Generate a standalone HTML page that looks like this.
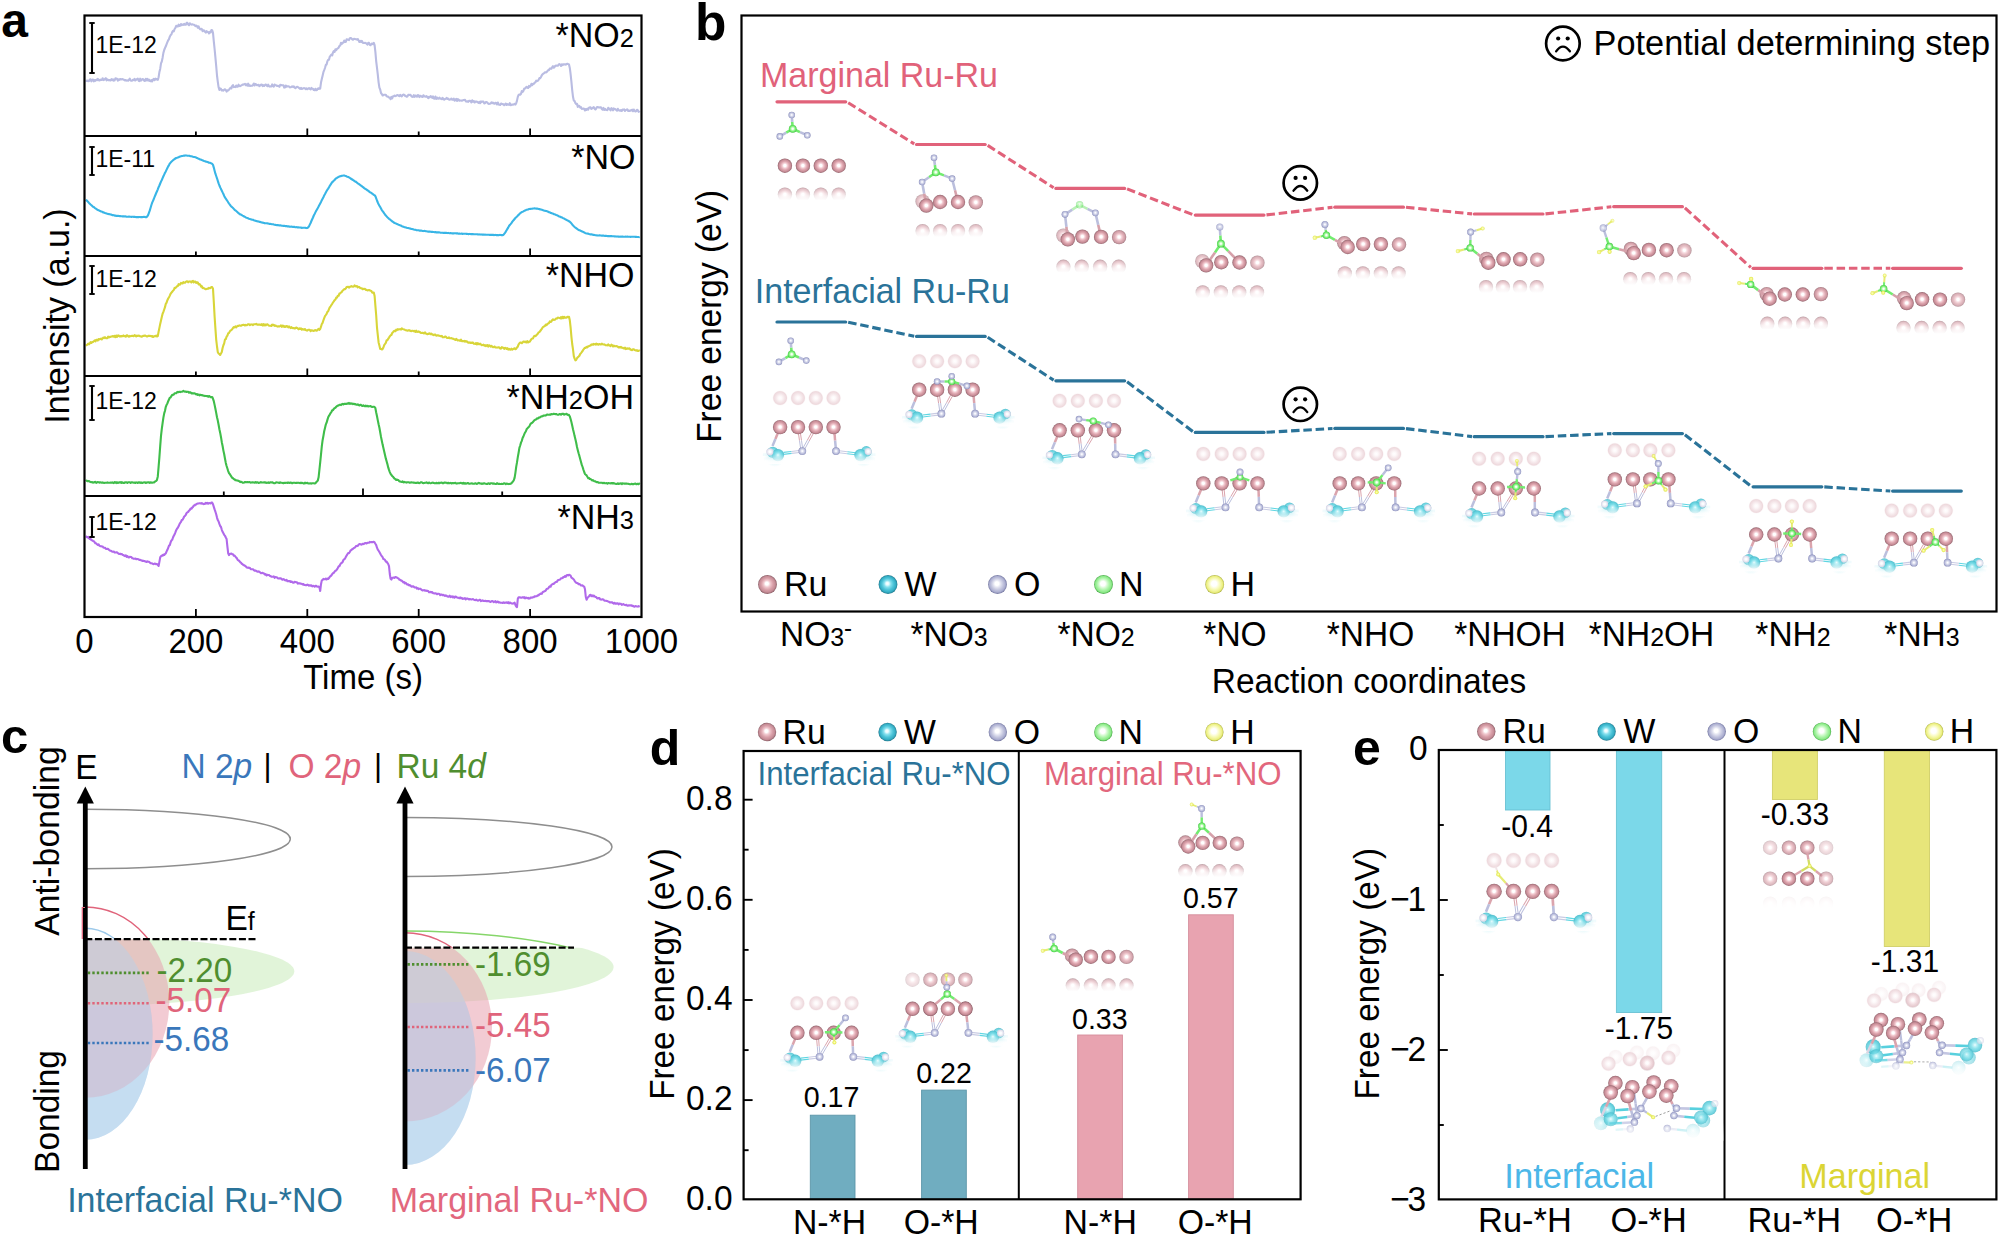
<!DOCTYPE html>
<html><head><meta charset="utf-8"><title>Figure</title>
<style>
html,body{margin:0;padding:0;background:#fff;}
svg{display:block;font-family:"Liberation Sans",sans-serif;}
</style></head><body>
<svg width="2000" height="1237" viewBox="0 0 2000 1237">
<defs>
<radialGradient id="gRu" cx="0.5" cy="0.5" r="0.5" fx="0.5" fy="0.49" ><stop offset="0" stop-color="#ffffff"/><stop offset="0.17" stop-color="#ffffff"/><stop offset="0.36" stop-color="#f3ccd2"/><stop offset="0.6" stop-color="#dca3ac"/><stop offset="0.8" stop-color="#c98f99"/><stop offset="0.92" stop-color="#ad7781"/><stop offset="1" stop-color="#8f636b"/></radialGradient>
<radialGradient id="gRuF" cx="0.5" cy="0.5" r="0.5"><stop offset="0" stop-color="#ffffff"/><stop offset="0.25" stop-color="#fdf8f9"/><stop offset="0.6" stop-color="#f4e5e8"/><stop offset="0.85" stop-color="#eed9dd"/><stop offset="1" stop-color="#f3e4e7" stop-opacity="0.3"/></radialGradient>
<radialGradient id="gW" cx="0.5" cy="0.5" r="0.5" fx="0.5" fy="0.49" ><stop offset="0" stop-color="#eefdff"/><stop offset="0.2" stop-color="#b5eff5"/><stop offset="0.5" stop-color="#7bdde8"/><stop offset="0.8" stop-color="#5ccddb"/><stop offset="1" stop-color="#48b8c8"/></radialGradient>
<radialGradient id="gWL" cx="0.5" cy="0.5" r="0.5" fx="0.5" fy="0.49" ><stop offset="0" stop-color="#ffffff"/><stop offset="0.14" stop-color="#f2fdff"/><stop offset="0.36" stop-color="#9fe6f1"/><stop offset="0.62" stop-color="#55cadd"/><stop offset="0.85" stop-color="#35b1c8"/><stop offset="1" stop-color="#22869b"/></radialGradient>
<radialGradient id="gO" cx="0.5" cy="0.5" r="0.5" fx="0.5" fy="0.49" ><stop offset="0" stop-color="#ffffff"/><stop offset="0.12" stop-color="#fbfbff"/><stop offset="0.38" stop-color="#dcdeee"/><stop offset="0.64" stop-color="#c0c3df"/><stop offset="0.86" stop-color="#a6aad0"/><stop offset="1" stop-color="#888cb8"/></radialGradient>
<radialGradient id="gN" cx="0.5" cy="0.5" r="0.5" fx="0.5" fy="0.49" ><stop offset="0" stop-color="#ffffff"/><stop offset="0.2" stop-color="#f4fff2"/><stop offset="0.42" stop-color="#b8f8b2"/><stop offset="0.7" stop-color="#76ef72"/><stop offset="0.9" stop-color="#58dd56"/><stop offset="1" stop-color="#43b843"/></radialGradient>
<radialGradient id="gH" cx="0.5" cy="0.5" r="0.5" fx="0.5" fy="0.49" ><stop offset="0" stop-color="#fdffd0"/><stop offset="0.4" stop-color="#f4f88a"/><stop offset="0.8" stop-color="#e8ee5c"/><stop offset="1" stop-color="#dbe050"/></radialGradient>
<linearGradient id="fadeDown" x1="0" y1="0" x2="0" y2="1"><stop offset="0" stop-color="#fff" stop-opacity="0.33"/><stop offset="0.3" stop-color="#fff" stop-opacity="0.55"/><stop offset="0.55" stop-color="#fff" stop-opacity="0.85"/><stop offset="0.8" stop-color="#fff" stop-opacity="1"/><stop offset="1" stop-color="#fff" stop-opacity="1"/></linearGradient>
<radialGradient id="gPale" cx="0.5" cy="0.5" r="0.5" fx="0.5" fy="0.49" ><stop offset="0" stop-color="#ffffff"/><stop offset="0.3" stop-color="#fbfbfe"/><stop offset="0.7" stop-color="#e6e6f1"/><stop offset="1" stop-color="#d2d3e4"/></radialGradient>
<radialGradient id="gHalo" cx="0.5" cy="0.5" r="0.5"><stop offset="0" stop-color="#7fdde8" stop-opacity="0.55"/><stop offset="0.6" stop-color="#9be6ee" stop-opacity="0.3"/><stop offset="1" stop-color="#bdf0f5" stop-opacity="0"/></radialGradient>
<linearGradient id="fadeW" x1="0" y1="0" x2="0" y2="1"><stop offset="0" stop-color="#fff" stop-opacity="0"/><stop offset="0.7" stop-color="#fff" stop-opacity="0.85"/><stop offset="1" stop-color="#fff" stop-opacity="1"/></linearGradient>
<radialGradient id="lRu" cx="0.5" cy="0.5" r="0.5" fx="0.46" fy="0.44"><stop offset="0" stop-color="#ffffff"/><stop offset="0.16" stop-color="#ffffff"/><stop offset="0.36" stop-color="#f0c8ce"/><stop offset="0.62" stop-color="#d9a0a9"/><stop offset="0.84" stop-color="#c58c96"/><stop offset="0.93" stop-color="#a8747d"/><stop offset="1" stop-color="#80565e"/></radialGradient>
<radialGradient id="lW" cx="0.5" cy="0.5" r="0.5" fx="0.46" fy="0.44"><stop offset="0" stop-color="#ffffff"/><stop offset="0.16" stop-color="#e6fbff"/><stop offset="0.36" stop-color="#86e0ee"/><stop offset="0.62" stop-color="#4dc4d8"/><stop offset="0.84" stop-color="#35aec5"/><stop offset="0.93" stop-color="#2a94aa"/><stop offset="1" stop-color="#1f7286"/></radialGradient>
<radialGradient id="lO" cx="0.5" cy="0.5" r="0.5" fx="0.46" fy="0.44"><stop offset="0" stop-color="#ffffff"/><stop offset="0.2" stop-color="#ffffff"/><stop offset="0.42" stop-color="#dfe0ee"/><stop offset="0.66" stop-color="#c0c2dc"/><stop offset="0.84" stop-color="#abaed0"/><stop offset="0.93" stop-color="#8e91b8"/><stop offset="1" stop-color="#6b6e98"/></radialGradient>
<radialGradient id="lN" cx="0.5" cy="0.5" r="0.5" fx="0.46" fy="0.44"><stop offset="0" stop-color="#ffffff"/><stop offset="0.25" stop-color="#ffffff"/><stop offset="0.45" stop-color="#d4fad0"/><stop offset="0.68" stop-color="#a6f3a2"/><stop offset="0.86" stop-color="#8be887"/><stop offset="0.94" stop-color="#63c961"/><stop offset="1" stop-color="#3f9a3f"/></radialGradient>
<radialGradient id="lH" cx="0.5" cy="0.5" r="0.5" fx="0.46" fy="0.44"><stop offset="0" stop-color="#ffffff"/><stop offset="0.28" stop-color="#ffffff"/><stop offset="0.48" stop-color="#fbfcd0"/><stop offset="0.7" stop-color="#f3f6a0"/><stop offset="0.86" stop-color="#eaee80"/><stop offset="0.94" stop-color="#cdd15c"/><stop offset="1" stop-color="#a3a740"/></radialGradient>
<linearGradient id="fadeL" x1="0" y1="0" x2="1" y2="0"><stop offset="0" stop-color="#fff" stop-opacity="1"/><stop offset="1" stop-color="#fff" stop-opacity="0"/></linearGradient>
</defs>
<g fill="none" stroke-width="2.1" stroke-linejoin="round">
<path d="M85.8 80.3L86.6 81.0L87.4 80.5L88.2 81.1L89.0 81.0L89.8 79.5L90.6 79.3L91.4 81.3L92.2 79.7L93.0 79.5L93.8 81.4L94.6 80.0L95.4 80.8L96.2 79.8L97.0 80.1L97.8 78.8L98.6 80.0L99.4 80.5L100.2 79.6L101.0 80.1L101.8 79.9L102.6 78.3L103.4 80.1L104.2 79.7L105.0 78.9L105.8 78.2L106.6 80.4L107.4 79.4L108.2 80.0L109.0 80.4L109.8 80.0L110.6 80.5L111.4 79.2L112.2 80.2L113.0 79.3L113.8 80.6L114.6 80.4L115.4 78.4L116.2 78.5L117.0 78.7L117.8 80.7L118.6 79.3L119.4 79.8L120.2 79.0L121.0 79.5L121.8 79.2L122.6 79.1L123.4 79.7L124.2 79.7L125.0 80.5L125.8 80.0L126.6 80.6L127.4 80.4L128.2 80.8L129.0 79.9L129.8 78.6L130.6 80.4L131.4 80.7L132.2 80.6L133.0 79.7L133.8 80.1L134.6 78.8L135.4 80.5L136.2 79.8L137.0 79.1L137.8 78.6L138.6 80.7L139.4 81.1L140.2 78.7L141.0 80.6L141.8 79.7L142.6 79.0L143.4 79.4L144.2 80.7L145.0 81.0L145.8 78.8L146.6 80.3L147.4 78.9L148.2 80.6L149.0 79.6L149.8 81.1L150.6 81.3L151.4 80.1L152.2 81.3L153.0 79.5L153.8 78.9L154.6 80.2L155.4 78.7L156.2 79.0L157.0 79.5L157.8 79.9L158.6 77.2L159.4 72.1L160.2 68.9L161.0 63.4L161.8 61.5L162.6 57.7L163.4 52.9L164.2 50.0L165.0 48.0L165.8 46.3L166.6 44.1L167.4 42.1L168.2 40.3L169.0 39.1L169.8 36.7L170.6 35.1L171.4 34.5L172.2 32.0L173.0 30.8L173.8 31.3L174.6 29.0L175.4 27.9L176.2 25.8L177.0 26.4L177.8 26.5L178.6 24.7L179.4 25.9L180.2 25.7L181.0 24.0L181.8 25.2L182.6 24.5L183.4 24.9L184.2 23.9L185.0 24.8L185.8 24.8L186.6 22.8L187.4 22.9L188.2 24.5L189.0 25.2L189.8 23.3L190.6 24.0L191.4 24.6L192.2 24.2L193.0 24.5L193.8 24.7L194.6 25.1L195.4 26.1L196.2 25.6L197.0 26.2L197.8 27.7L198.6 26.3L199.4 28.3L200.2 29.3L201.0 28.8L201.8 29.1L202.6 31.2L203.4 30.3L204.2 30.6L205.0 31.7L205.8 32.6L206.6 31.2L207.4 31.9L208.2 32.0L209.0 33.4L209.8 31.9L210.6 32.4L211.4 30.0L212.2 30.2L213.0 32.9L213.8 41.4L214.6 49.0L215.4 57.4L216.2 66.0L217.0 75.5L217.8 81.8L218.6 87.3L219.4 89.9L220.2 88.5L221.0 89.0L221.8 90.5L222.6 90.1L223.4 90.7L224.2 89.7L225.0 89.3L225.8 90.0L226.6 91.6L227.4 90.4L228.2 90.4L229.0 89.7L229.8 88.7L230.6 87.7L231.4 88.5L232.2 86.0L233.0 85.1L233.8 87.1L234.6 86.9L235.4 87.1L236.2 85.5L237.0 86.8L237.8 86.7L238.6 84.7L239.4 86.0L240.2 86.2L241.0 85.7L241.8 85.2L242.6 84.6L243.4 84.6L244.2 84.3L245.0 83.8L245.8 85.2L246.6 84.3L247.4 85.7L248.2 83.7L249.0 85.9L249.8 85.3L250.6 85.9L251.4 85.8L252.2 85.8L253.0 85.0L253.8 83.5L254.6 85.5L255.4 84.0L256.2 84.4L257.0 85.3L257.8 85.0L258.6 84.8L259.4 86.2L260.2 85.3L261.0 84.7L261.8 84.5L262.6 86.1L263.4 85.2L264.2 86.0L265.0 84.9L265.8 84.5L266.6 85.5L267.4 86.2L268.2 84.6L269.0 86.3L269.8 86.6L270.6 86.4L271.4 86.5L272.2 84.4L273.0 86.1L273.8 86.7L274.6 84.6L275.4 85.3L276.2 85.3L277.0 86.0L277.8 85.8L278.6 86.0L279.4 86.8L280.2 84.8L281.0 85.0L281.8 85.3L282.6 85.3L283.4 85.2L284.2 87.6L285.0 87.4L285.8 85.5L286.6 86.7L287.4 86.3L288.2 86.3L289.0 86.5L289.8 87.4L290.6 87.3L291.4 86.8L292.2 86.4L293.0 86.9L293.8 86.4L294.6 87.6L295.4 88.1L296.2 87.4L297.0 86.7L297.8 87.0L298.6 87.6L299.4 88.3L300.2 88.8L301.0 87.8L301.8 89.0L302.6 88.6L303.4 88.2L304.2 88.1L305.0 88.5L305.8 89.1L306.6 88.4L307.4 89.2L308.2 88.6L309.0 88.1L309.8 88.9L310.6 89.4L311.4 87.9L312.2 88.8L313.0 88.9L313.8 90.1L314.6 90.3L315.4 88.8L316.2 90.2L317.0 89.9L317.8 88.5L318.6 89.0L319.4 88.0L320.2 88.6L321.0 82.6L321.8 79.1L322.6 75.7L323.4 72.2L324.2 70.2L325.0 68.0L325.8 65.0L326.6 64.5L327.4 61.2L328.2 59.8L329.0 59.7L329.8 56.6L330.6 55.6L331.4 54.5L332.2 55.4L333.0 52.5L333.8 51.0L334.6 52.0L335.4 49.2L336.2 50.1L337.0 48.8L337.8 48.3L338.6 47.7L339.4 45.9L340.2 45.6L341.0 42.8L341.8 43.9L342.6 42.7L343.4 42.7L344.2 40.6L345.0 41.9L345.8 41.9L346.6 39.2L347.4 39.5L348.2 39.8L349.0 40.1L349.8 38.3L350.6 38.1L351.4 38.3L352.2 39.3L353.0 39.7L353.8 38.9L354.6 38.9L355.4 39.1L356.2 39.2L357.0 39.6L357.8 39.0L358.6 40.4L359.4 42.0L360.2 40.8L361.0 42.0L361.8 40.8L362.6 42.5L363.4 43.0L364.2 43.0L365.0 42.9L365.8 43.0L366.6 43.7L367.4 44.6L368.2 42.9L369.0 42.9L369.8 44.8L370.6 45.2L371.4 44.0L372.2 43.5L373.0 44.1L373.8 42.9L374.6 45.1L375.4 52.2L376.2 61.3L377.0 67.9L377.8 74.7L378.6 82.3L379.4 87.6L380.2 89.5L381.0 93.0L381.8 94.0L382.6 95.5L383.4 95.2L384.2 94.7L385.0 94.8L385.8 94.7L386.6 96.3L387.4 96.6L388.2 96.6L389.0 97.5L389.8 97.8L390.6 99.1L391.4 96.9L392.2 98.4L393.0 96.4L393.8 96.3L394.6 95.5L395.4 96.1L396.2 95.8L397.0 95.2L397.8 95.0L398.6 95.7L399.4 96.1L400.2 94.9L401.0 95.8L401.8 96.4L402.6 95.2L403.4 94.6L404.2 94.7L405.0 95.9L405.8 95.9L406.6 96.7L407.4 96.4L408.2 94.9L409.0 94.8L409.8 95.0L410.6 94.9L411.4 96.3L412.2 96.7L413.0 96.9L413.8 95.2L414.6 96.9L415.4 95.5L416.2 95.8L417.0 96.7L417.8 95.1L418.6 95.2L419.4 97.1L420.2 95.8L421.0 96.0L421.8 96.7L422.6 97.0L423.4 95.3L424.2 96.2L425.0 96.6L425.8 96.8L426.6 96.1L427.4 97.2L428.2 98.2L429.0 96.8L429.8 97.3L430.6 96.2L431.4 96.7L432.2 97.8L433.0 96.4L433.8 98.5L434.6 98.7L435.4 96.6L436.2 98.9L437.0 97.5L437.8 98.6L438.6 98.6L439.4 97.5L440.2 98.6L441.0 98.6L441.8 99.1L442.6 97.8L443.4 99.1L444.2 99.7L445.0 99.1L445.8 98.8L446.6 97.8L447.4 98.9L448.2 98.6L449.0 99.6L449.8 99.6L450.6 99.4L451.4 98.5L452.2 99.8L453.0 99.8L453.8 98.7L454.6 100.7L455.4 100.2L456.2 98.9L457.0 101.0L457.8 99.1L458.6 99.7L459.4 100.8L460.2 100.5L461.0 100.5L461.8 100.8L462.6 100.4L463.4 100.1L464.2 99.9L465.0 99.7L465.8 101.4L466.6 101.6L467.4 101.2L468.2 101.8L469.0 100.8L469.8 100.7L470.6 101.1L471.4 102.4L472.2 100.3L473.0 101.6L473.8 101.0L474.6 102.5L475.4 101.5L476.2 101.5L477.0 101.8L477.8 102.2L478.6 102.9L479.4 101.8L480.2 103.2L481.0 101.4L481.8 101.9L482.6 101.5L483.4 101.6L484.2 103.4L485.0 103.3L485.8 102.0L486.6 102.1L487.4 102.7L488.2 103.7L489.0 103.9L489.8 103.8L490.6 103.5L491.4 102.4L492.2 103.1L493.0 102.6L493.8 103.5L494.6 103.7L495.4 102.8L496.2 103.0L497.0 104.4L497.8 102.5L498.6 104.5L499.4 104.8L500.2 104.9L501.0 103.5L501.8 104.0L502.6 104.1L503.4 104.3L504.2 105.2L505.0 104.5L505.8 103.5L506.6 105.0L507.4 104.1L508.2 104.5L509.0 104.9L509.8 103.1L510.6 105.2L511.4 104.9L512.2 104.5L513.0 104.6L513.8 104.5L514.6 103.8L515.4 104.6L516.2 103.3L517.0 100.6L517.8 96.9L518.6 94.9L519.4 94.5L520.2 94.8L521.0 93.9L521.8 91.1L522.6 92.0L523.4 90.8L524.2 88.6L525.0 88.6L525.8 87.7L526.6 86.8L527.4 87.5L528.2 88.0L529.0 85.9L529.8 86.8L530.6 85.8L531.4 83.8L532.2 85.1L533.0 83.8L533.8 84.0L534.6 82.8L535.4 82.2L536.2 80.6L537.0 81.1L537.8 80.8L538.6 79.9L539.4 78.1L540.2 78.3L541.0 77.0L541.8 75.2L542.6 74.3L543.4 73.6L544.2 73.1L545.0 72.3L545.8 72.4L546.6 72.2L547.4 71.1L548.2 70.1L549.0 70.1L549.8 68.6L550.6 68.4L551.4 68.7L552.2 67.2L553.0 66.2L553.8 67.7L554.6 66.9L555.4 65.7L556.2 65.5L557.0 65.7L557.8 65.8L558.6 64.7L559.4 64.1L560.2 64.6L561.0 66.0L561.8 64.3L562.6 65.1L563.4 64.4L564.2 64.4L565.0 64.2L565.8 64.7L566.6 64.0L567.4 63.7L568.2 64.1L569.0 64.5L569.8 67.9L570.6 74.2L571.4 81.7L572.2 90.2L573.0 96.8L573.8 100.6L574.6 101.0L575.4 103.2L576.2 104.2L577.0 103.8L577.8 106.9L578.6 105.7L579.4 106.0L580.2 107.6L581.0 107.2L581.8 108.9L582.6 108.7L583.4 108.5L584.2 108.7L585.0 110.5L585.8 109.0L586.6 110.0L587.4 108.7L588.2 109.7L589.0 107.8L589.8 107.4L590.6 107.4L591.4 108.9L592.2 108.4L593.0 107.7L593.8 107.1L594.6 108.7L595.4 109.5L596.2 108.5L597.0 107.0L597.8 107.1L598.6 107.4L599.4 107.6L600.2 107.3L601.0 107.4L601.8 109.0L602.6 109.7L603.4 107.9L604.2 110.0L605.0 108.8L605.8 109.7L606.6 110.0L607.4 110.1L608.2 107.8L609.0 108.6L609.8 109.4L610.6 110.4L611.4 108.2L612.2 108.8L613.0 110.3L613.8 108.4L614.6 109.2L615.4 109.1L616.2 110.0L617.0 110.7L617.8 108.8L618.6 110.3L619.4 110.4L620.2 110.7L621.0 110.0L621.8 111.0L622.6 109.6L623.4 109.8L624.2 109.4L625.0 110.9L625.8 110.1L626.6 109.6L627.4 109.4L628.2 110.9L629.0 110.7L629.8 111.0L630.6 110.2L631.4 110.5L632.2 109.7L633.0 111.2L633.8 109.5L634.6 110.7L635.4 111.5L636.2 111.3L637.0 109.8L637.8 110.2L638.6 111.8L639.4 111.4L639.7 111.0" stroke="#b9bce2"/>
<path d="M85.8 199.7L86.6 200.4L87.4 201.1L88.2 202.0L89.0 202.9L89.8 203.7L90.6 204.5L91.4 205.2L92.2 205.9L93.0 206.7L93.8 207.0L94.6 207.8L95.4 208.3L96.2 208.8L97.0 209.6L97.8 209.9L98.6 210.2L99.4 210.6L100.2 211.1L101.0 211.4L101.8 211.6L102.6 212.0L103.4 212.5L104.2 212.6L105.0 213.0L105.8 213.2L106.6 213.5L107.4 213.7L108.2 214.0L109.0 214.1L109.8 214.2L110.6 214.5L111.4 214.6L112.2 215.1L113.0 215.1L113.8 215.2L114.6 215.7L115.4 215.6L116.2 215.9L117.0 215.7L117.8 215.9L118.6 215.9L119.4 216.1L120.2 216.1L121.0 216.2L121.8 216.3L122.6 216.4L123.4 216.3L124.2 216.4L125.0 216.5L125.8 216.4L126.6 216.7L127.4 216.7L128.2 216.8L129.0 216.6L129.8 216.8L130.6 216.8L131.4 216.9L132.2 216.7L133.0 216.8L133.8 216.9L134.6 216.8L135.4 217.0L136.2 217.1L137.0 217.0L137.8 217.1L138.6 217.1L139.4 217.0L140.2 217.0L141.0 217.2L141.8 217.0L142.6 217.1L143.4 216.9L144.2 217.0L145.0 216.9L145.8 217.2L146.6 217.1L147.4 216.2L148.2 214.9L149.0 212.7L149.8 210.4L150.6 207.7L151.4 205.0L152.2 202.7L153.0 200.8L153.8 199.0L154.6 196.9L155.4 195.0L156.2 193.0L157.0 191.2L157.8 189.3L158.6 187.2L159.4 185.5L160.2 183.5L161.0 181.6L161.8 180.0L162.6 178.1L163.4 176.3L164.2 174.6L165.0 172.8L165.8 171.4L166.6 169.6L167.4 168.0L168.2 166.4L169.0 165.1L169.8 163.6L170.6 162.6L171.4 161.7L172.2 161.0L173.0 160.3L173.8 159.6L174.6 159.0L175.4 158.5L176.2 158.0L177.0 157.8L177.8 157.5L178.6 157.2L179.4 156.8L180.2 156.5L181.0 156.3L181.8 156.1L182.6 155.9L183.4 155.7L184.2 155.5L185.0 155.6L185.8 155.4L186.6 155.6L187.4 155.8L188.2 155.8L189.0 155.8L189.8 155.9L190.6 156.2L191.4 156.2L192.2 156.4L193.0 156.7L193.8 156.9L194.6 157.1L195.4 157.3L196.2 157.6L197.0 158.1L197.8 158.3L198.6 158.8L199.4 159.1L200.2 159.5L201.0 159.6L201.8 160.0L202.6 160.3L203.4 160.7L204.2 161.0L205.0 161.2L205.8 161.6L206.6 161.7L207.4 162.0L208.2 162.3L209.0 162.7L209.8 162.8L210.6 163.1L211.4 163.4L212.2 163.9L213.0 164.9L213.8 167.6L214.6 170.7L215.4 173.7L216.2 176.0L217.0 178.3L217.8 180.9L218.6 183.4L219.4 185.5L220.2 187.4L221.0 189.0L221.8 190.7L222.6 192.4L223.4 194.0L224.2 195.9L225.0 197.4L225.8 198.7L226.6 199.8L227.4 201.0L228.2 202.3L229.0 203.5L229.8 204.6L230.6 205.7L231.4 206.6L232.2 207.3L233.0 208.0L233.8 208.9L234.6 209.8L235.4 210.4L236.2 211.0L237.0 211.7L237.8 212.5L238.6 213.3L239.4 213.7L240.2 214.4L241.0 214.6L241.8 215.1L242.6 215.6L243.4 216.0L244.2 216.5L245.0 216.9L245.8 217.4L246.6 217.7L247.4 217.9L248.2 218.5L249.0 218.8L249.8 219.0L250.6 219.2L251.4 219.5L252.2 219.8L253.0 219.8L253.8 220.2L254.6 220.4L255.4 220.7L256.2 221.0L257.0 221.3L257.8 221.4L258.6 221.5L259.4 221.9L260.2 221.9L261.0 222.2L261.8 222.5L262.6 222.6L263.4 222.7L264.2 223.1L265.0 223.2L265.8 223.2L266.6 223.3L267.4 223.4L268.2 223.5L269.0 223.7L269.8 224.0L270.6 223.9L271.4 224.1L272.2 224.2L273.0 224.3L273.8 224.6L274.6 224.8L275.4 224.9L276.2 225.0L277.0 225.2L277.8 225.0L278.6 225.2L279.4 225.5L280.2 225.3L281.0 225.5L281.8 225.7L282.6 225.7L283.4 225.9L284.2 225.8L285.0 226.0L285.8 226.3L286.6 226.1L287.4 226.4L288.2 226.3L289.0 226.6L289.8 226.6L290.6 226.7L291.4 226.6L292.2 226.7L293.0 227.0L293.8 226.9L294.6 226.9L295.4 227.2L296.2 227.3L297.0 227.1L297.8 227.5L298.6 227.4L299.4 227.5L300.2 227.5L301.0 227.6L301.8 227.9L302.6 227.7L303.4 227.7L304.2 227.8L305.0 227.8L305.8 227.9L306.6 228.1L307.4 227.9L308.2 227.3L309.0 226.3L309.8 224.6L310.6 223.0L311.4 221.0L312.2 219.2L313.0 217.5L313.8 215.5L314.6 214.0L315.4 212.4L316.2 210.8L317.0 209.4L317.8 208.0L318.6 206.5L319.4 204.9L320.2 203.4L321.0 201.9L321.8 200.2L322.6 198.7L323.4 197.2L324.2 195.4L325.0 194.0L325.8 192.5L326.6 191.1L327.4 189.7L328.2 188.6L329.0 187.3L329.8 185.8L330.6 184.6L331.4 183.4L332.2 182.2L333.0 181.6L333.8 180.6L334.6 180.0L335.4 179.0L336.2 178.3L337.0 177.9L337.8 177.2L338.6 176.9L339.4 176.5L340.2 176.2L341.0 176.1L341.8 175.7L342.6 175.7L343.4 175.5L344.2 175.5L345.0 175.8L345.8 176.0L346.6 176.4L347.4 176.7L348.2 177.0L349.0 177.4L349.8 177.9L350.6 178.5L351.4 179.0L352.2 179.5L353.0 180.0L353.8 180.4L354.6 181.2L355.4 181.5L356.2 182.0L357.0 182.7L357.8 183.3L358.6 183.8L359.4 184.5L360.2 184.9L361.0 185.7L361.8 186.2L362.6 186.8L363.4 187.4L364.2 188.1L365.0 188.7L365.8 189.1L366.6 189.7L367.4 190.3L368.2 190.7L369.0 191.4L369.8 192.1L370.6 192.6L371.4 192.9L372.2 193.7L373.0 194.2L373.8 194.9L374.6 195.3L375.4 196.2L376.2 198.3L377.0 200.5L377.8 202.5L378.6 204.3L379.4 205.7L380.2 207.1L381.0 208.6L381.8 210.1L382.6 211.1L383.4 212.2L384.2 213.4L385.0 214.5L385.8 215.5L386.6 216.4L387.4 217.3L388.2 218.0L389.0 218.8L389.8 219.3L390.6 220.0L391.4 220.7L392.2 221.3L393.0 221.9L393.8 222.5L394.6 223.0L395.4 223.2L396.2 223.6L397.0 224.0L397.8 224.4L398.6 224.8L399.4 225.0L400.2 225.4L401.0 225.6L401.8 226.2L402.6 226.4L403.4 226.7L404.2 227.2L405.0 227.2L405.8 227.4L406.6 227.8L407.4 228.0L408.2 228.0L409.0 228.2L409.8 228.5L410.6 228.6L411.4 229.0L412.2 229.0L413.0 229.2L413.8 229.5L414.6 229.7L415.4 229.8L416.2 230.1L417.0 230.2L417.8 230.3L418.6 230.2L419.4 230.6L420.2 230.6L421.0 230.5L421.8 230.7L422.6 230.9L423.4 231.1L424.2 230.9L425.0 231.0L425.8 231.2L426.6 231.3L427.4 231.5L428.2 231.6L429.0 231.5L429.8 231.6L430.6 231.8L431.4 231.9L432.2 231.8L433.0 232.0L433.8 232.0L434.6 232.2L435.4 232.1L436.2 232.4L437.0 232.4L437.8 232.4L438.6 232.3L439.4 232.4L440.2 232.6L441.0 232.7L441.8 232.7L442.6 232.7L443.4 232.9L444.2 232.9L445.0 232.9L445.8 232.8L446.6 232.9L447.4 233.1L448.2 232.9L449.0 233.1L449.8 233.2L450.6 233.1L451.4 233.3L452.2 233.4L453.0 233.4L453.8 233.4L454.6 233.3L455.4 233.3L456.2 233.4L457.0 233.4L457.8 233.4L458.6 233.7L459.4 233.5L460.2 233.7L461.0 233.8L461.8 233.6L462.6 233.9L463.4 233.8L464.2 233.7L465.0 233.8L465.8 233.8L466.6 233.9L467.4 233.9L468.2 234.1L469.0 234.1L469.8 233.9L470.6 234.1L471.4 234.1L472.2 234.1L473.0 234.1L473.8 234.2L474.6 234.3L475.4 234.3L476.2 234.2L477.0 234.3L477.8 234.4L478.6 234.5L479.4 234.4L480.2 234.6L481.0 234.4L481.8 234.6L482.6 234.6L483.4 234.5L484.2 234.7L485.0 234.6L485.8 234.7L486.6 234.7L487.4 234.8L488.2 234.7L489.0 234.7L489.8 234.9L490.6 234.9L491.4 234.9L492.2 234.9L493.0 234.8L493.8 235.1L494.6 235.0L495.4 234.9L496.2 235.1L497.0 235.1L497.8 235.0L498.6 235.2L499.4 235.0L500.2 234.9L501.0 235.1L501.8 235.0L502.6 235.1L503.4 235.0L504.2 233.9L505.0 232.9L505.8 231.6L506.6 230.2L507.4 228.9L508.2 227.6L509.0 226.0L509.8 225.0L510.6 224.1L511.4 223.1L512.2 221.9L513.0 220.8L513.8 220.0L514.6 219.0L515.4 218.0L516.2 217.3L517.0 216.5L517.8 215.6L518.6 214.9L519.4 214.1L520.2 213.3L521.0 212.6L521.8 212.1L522.6 211.8L523.4 211.4L524.2 210.9L525.0 210.5L525.8 210.2L526.6 209.7L527.4 209.6L528.2 209.4L529.0 209.1L529.8 208.9L530.6 208.9L531.4 208.7L532.2 208.7L533.0 208.5L533.8 208.5L534.6 208.4L535.4 208.5L536.2 208.6L537.0 208.5L537.8 208.7L538.6 209.0L539.4 209.1L540.2 209.4L541.0 209.5L541.8 209.7L542.6 210.0L543.4 210.4L544.2 210.6L545.0 210.7L545.8 210.9L546.6 211.1L547.4 211.4L548.2 211.8L549.0 212.2L549.8 212.3L550.6 212.9L551.4 213.1L552.2 213.4L553.0 213.6L553.8 214.1L554.6 214.2L555.4 214.6L556.2 215.0L557.0 215.2L557.8 215.6L558.6 216.2L559.4 216.5L560.2 216.8L561.0 217.2L561.8 217.3L562.6 217.9L563.4 218.3L564.2 218.6L565.0 219.1L565.8 219.6L566.6 219.9L567.4 220.5L568.2 220.7L569.0 221.3L569.8 221.7L570.6 222.5L571.4 223.4L572.2 224.5L573.0 225.4L573.8 226.3L574.6 227.0L575.4 227.6L576.2 228.3L577.0 228.7L577.8 229.4L578.6 230.0L579.4 230.3L580.2 230.6L581.0 230.9L581.8 231.4L582.6 231.6L583.4 232.1L584.2 232.4L585.0 232.9L585.8 233.2L586.6 233.4L587.4 233.6L588.2 233.6L589.0 234.0L589.8 234.2L590.6 234.4L591.4 234.3L592.2 234.5L593.0 234.9L593.8 234.9L594.6 235.0L595.4 235.2L596.2 235.2L597.0 235.4L597.8 235.5L598.6 235.5L599.4 235.4L600.2 235.4L601.0 235.6L601.8 235.8L602.6 235.6L603.4 235.6L604.2 235.7L605.0 235.9L605.8 235.9L606.6 235.9L607.4 236.1L608.2 236.1L609.0 236.0L609.8 236.2L610.6 236.0L611.4 236.1L612.2 236.3L613.0 236.2L613.8 236.2L614.6 236.4L615.4 236.4L616.2 236.6L617.0 236.4L617.8 236.6L618.6 236.5L619.4 236.7L620.2 236.6L621.0 236.7L621.8 236.6L622.6 236.6L623.4 236.7L624.2 236.8L625.0 236.7L625.8 236.6L626.6 236.7L627.4 236.6L628.2 236.7L629.0 236.8L629.8 236.8L630.6 236.9L631.4 236.8L632.2 236.7L633.0 236.7L633.8 236.8L634.6 236.8L635.4 236.9L636.2 236.9L637.0 237.0L637.8 237.0L638.6 237.0L639.4 237.1L639.7 237.0" stroke="#38b5e6"/>
<path d="M85.8 345.7L86.6 345.2L87.4 344.5L88.2 343.6L89.0 344.3L89.8 343.3L90.6 342.1L91.4 343.0L92.2 342.1L93.0 341.9L93.8 341.2L94.6 340.4L95.4 341.5L96.2 339.8L97.0 339.8L97.8 340.6L98.6 339.0L99.4 339.4L100.2 339.1L101.0 338.6L101.8 339.4L102.6 338.4L103.4 337.6L104.2 338.1L105.0 337.2L105.8 338.1L106.6 338.2L107.4 338.1L108.2 336.6L109.0 337.5L109.8 336.8L110.6 336.9L111.4 336.5L112.2 336.4L113.0 336.1L113.8 336.7L114.6 335.8L115.4 337.1L116.2 335.5L117.0 336.9L117.8 335.6L118.6 335.4L119.4 336.5L120.2 336.1L121.0 336.5L121.8 336.0L122.6 336.2L123.4 335.4L124.2 336.3L125.0 336.0L125.8 336.7L126.6 335.2L127.4 335.3L128.2 336.3L129.0 336.7L129.8 335.9L130.6 336.3L131.4 336.1L132.2 335.8L133.0 335.9L133.8 336.2L134.6 335.2L135.4 335.7L136.2 336.4L137.0 335.6L137.8 336.0L138.6 335.6L139.4 335.8L140.2 336.3L141.0 336.5L141.8 336.8L142.6 336.1L143.4 335.7L144.2 335.9L145.0 335.5L145.8 335.9L146.6 336.4L147.4 336.5L148.2 335.9L149.0 335.9L149.8 335.7L150.6 335.9L151.4 336.4L152.2 336.0L153.0 337.0L153.8 336.5L154.6 336.1L155.4 336.2L156.2 335.5L157.0 336.5L157.8 336.1L158.6 331.7L159.4 327.9L160.2 323.9L161.0 320.5L161.8 317.1L162.6 313.7L163.4 311.9L164.2 309.5L165.0 307.2L165.8 303.8L166.6 302.6L167.4 300.2L168.2 298.5L169.0 297.2L169.8 295.6L170.6 293.8L171.4 292.7L172.2 291.8L173.0 290.7L173.8 290.0L174.6 287.9L175.4 288.2L176.2 287.2L177.0 286.3L177.8 286.1L178.6 284.2L179.4 284.8L180.2 284.5L181.0 282.9L181.8 283.2L182.6 283.4L183.4 282.1L184.2 282.8L185.0 282.8L185.8 281.9L186.6 281.4L187.4 281.4L188.2 282.3L189.0 281.6L189.8 281.4L190.6 281.6L191.4 282.4L192.2 281.3L193.0 280.9L193.8 282.4L194.6 281.5L195.4 281.6L196.2 282.8L197.0 282.2L197.8 282.5L198.6 284.4L199.4 284.1L200.2 284.7L201.0 286.6L201.8 286.2L202.6 288.1L203.4 287.9L204.2 288.5L205.0 288.8L205.8 289.3L206.6 289.1L207.4 288.6L208.2 288.6L209.0 287.9L209.8 288.3L210.6 287.8L211.4 287.1L212.2 287.1L213.0 288.7L213.8 302.0L214.6 316.5L215.4 328.4L216.2 339.6L217.0 346.5L217.8 352.2L218.6 353.6L219.4 354.0L220.2 355.0L221.0 353.4L221.8 352.0L222.6 348.0L223.4 345.2L224.2 343.4L225.0 339.4L225.8 339.1L226.6 336.6L227.4 335.6L228.2 333.3L229.0 333.1L229.8 331.4L230.6 330.5L231.4 330.1L232.2 329.3L233.0 327.9L233.8 327.1L234.6 327.5L235.4 326.4L236.2 327.5L237.0 326.4L237.8 325.9L238.6 326.0L239.4 325.4L240.2 325.6L241.0 325.7L241.8 325.3L242.6 325.0L243.4 324.8L244.2 325.1L245.0 325.5L245.8 324.8L246.6 325.3L247.4 324.8L248.2 324.2L249.0 324.2L249.8 325.2L250.6 324.6L251.4 324.4L252.2 324.6L253.0 325.1L253.8 324.3L254.6 324.3L255.4 324.3L256.2 323.8L257.0 324.6L257.8 324.5L258.6 324.6L259.4 324.6L260.2 324.6L261.0 325.0L261.8 324.2L262.6 325.5L263.4 324.2L264.2 325.4L265.0 324.3L265.8 325.4L266.6 324.5L267.4 324.3L268.2 325.1L269.0 325.6L269.8 325.7L270.6 325.8L271.4 326.0L272.2 324.6L273.0 325.2L273.8 324.8L274.6 325.9L275.4 325.5L276.2 326.0L277.0 326.2L277.8 326.6L278.6 326.2L279.4 326.5L280.2 326.1L281.0 325.4L281.8 326.8L282.6 325.6L283.4 325.7L284.2 327.0L285.0 326.2L285.8 326.9L286.6 326.0L287.4 326.5L288.2 327.4L289.0 326.4L289.8 327.3L290.6 328.1L291.4 327.1L292.2 328.0L293.0 328.1L293.8 328.1L294.6 328.4L295.4 328.4L296.2 327.5L297.0 327.9L297.8 328.5L298.6 329.3L299.4 328.3L300.2 329.0L301.0 328.4L301.8 329.7L302.6 329.1L303.4 329.4L304.2 329.8L305.0 329.0L305.8 330.1L306.6 330.4L307.4 330.6L308.2 329.8L309.0 329.8L309.8 329.8L310.6 331.1L311.4 330.4L312.2 330.4L313.0 330.7L313.8 330.9L314.6 330.2L315.4 330.1L316.2 330.7L317.0 330.5L317.8 329.5L318.6 328.9L319.4 329.9L320.2 329.0L321.0 326.7L321.8 324.0L322.6 322.9L323.4 320.3L324.2 318.2L325.0 316.1L325.8 315.0L326.6 313.8L327.4 311.9L328.2 311.2L329.0 309.1L329.8 307.3L330.6 306.3L331.4 305.0L332.2 303.8L333.0 302.5L333.8 301.4L334.6 300.1L335.4 299.6L336.2 297.6L337.0 297.6L337.8 295.8L338.6 295.8L339.4 293.6L340.2 293.4L341.0 292.4L341.8 292.1L342.6 290.6L343.4 290.0L344.2 289.1L345.0 289.1L345.8 288.5L346.6 287.0L347.4 286.9L348.2 286.7L349.0 287.7L349.8 286.7L350.6 286.7L351.4 286.1L352.2 286.6L353.0 286.8L353.8 286.5L354.6 285.4L355.4 286.2L356.2 286.5L357.0 286.0L357.8 287.4L358.6 286.9L359.4 287.1L360.2 288.0L361.0 288.2L361.8 288.3L362.6 289.2L363.4 288.9L364.2 289.0L365.0 288.8L365.8 289.9L366.6 289.9L367.4 290.4L368.2 290.3L369.0 290.0L369.8 290.3L370.6 290.8L371.4 291.0L372.2 292.6L373.0 292.6L373.8 292.6L374.6 295.9L375.4 305.8L376.2 315.5L377.0 327.7L377.8 335.1L378.6 342.4L379.4 345.4L380.2 348.9L381.0 348.9L381.8 349.5L382.6 349.0L383.4 347.5L384.2 345.2L385.0 344.0L385.8 342.8L386.6 340.4L387.4 340.3L388.2 338.8L389.0 337.6L389.8 336.3L390.6 335.3L391.4 335.0L392.2 333.0L393.0 332.2L393.8 331.2L394.6 330.8L395.4 331.2L396.2 329.6L397.0 330.2L397.8 329.2L398.6 329.6L399.4 329.3L400.2 329.3L401.0 329.6L401.8 328.4L402.6 328.9L403.4 329.2L404.2 329.4L405.0 329.9L405.8 330.3L406.6 330.3L407.4 330.7L408.2 330.5L409.0 330.1L409.8 330.5L410.6 331.0L411.4 331.2L412.2 330.7L413.0 330.8L413.8 331.3L414.6 330.8L415.4 332.0L416.2 330.7L417.0 331.9L417.8 331.7L418.6 331.4L419.4 332.1L420.2 332.1L421.0 333.0L421.8 333.0L422.6 332.7L423.4 333.2L424.2 333.4L425.0 332.4L425.8 333.6L426.6 333.8L427.4 334.2L428.2 334.0L429.0 333.5L429.8 333.4L430.6 334.2L431.4 333.7L432.2 334.7L433.0 334.6L433.8 335.1L434.6 334.5L435.4 334.6L436.2 335.7L437.0 335.5L437.8 335.2L438.6 335.7L439.4 335.7L440.2 336.2L441.0 336.1L441.8 335.9L442.6 337.2L443.4 337.2L444.2 337.2L445.0 336.6L445.8 336.6L446.6 337.7L447.4 338.0L448.2 337.9L449.0 337.3L449.8 338.3L450.6 338.2L451.4 338.1L452.2 338.6L453.0 338.6L453.8 339.1L454.6 339.4L455.4 340.0L456.2 338.8L457.0 339.7L457.8 340.5L458.6 340.2L459.4 340.2L460.2 340.9L461.0 339.7L461.8 341.1L462.6 341.0L463.4 341.2L464.2 340.9L465.0 341.6L465.8 341.0L466.6 341.8L467.4 341.5L468.2 342.8L469.0 342.8L469.8 342.4L470.6 343.0L471.4 342.6L472.2 343.0L473.0 342.5L473.8 343.8L474.6 343.8L475.4 344.0L476.2 343.0L477.0 344.4L477.8 343.2L478.6 344.2L479.4 344.3L480.2 343.7L481.0 344.5L481.8 345.3L482.6 345.1L483.4 344.7L484.2 345.7L485.0 345.1L485.8 346.1L486.6 345.4L487.4 345.0L488.2 346.6L489.0 345.3L489.8 345.7L490.6 346.7L491.4 345.8L492.2 346.6L493.0 347.2L493.8 346.9L494.6 346.6L495.4 347.4L496.2 347.6L497.0 347.4L497.8 347.6L498.6 347.2L499.4 347.5L500.2 348.5L501.0 348.6L501.8 347.2L502.6 347.6L503.4 347.7L504.2 348.8L505.0 347.9L505.8 348.0L506.6 349.0L507.4 348.2L508.2 349.6L509.0 348.8L509.8 349.6L510.6 349.6L511.4 348.7L512.2 349.7L513.0 349.1L513.8 348.7L514.6 348.3L515.4 349.2L516.2 348.8L517.0 347.4L517.8 346.7L518.6 344.3L519.4 343.3L520.2 342.5L521.0 342.6L521.8 343.2L522.6 342.4L523.4 341.6L524.2 341.6L525.0 342.1L525.8 341.5L526.6 342.5L527.4 341.1L528.2 342.3L529.0 341.8L529.8 341.7L530.6 340.3L531.4 339.1L532.2 338.5L533.0 338.4L533.8 336.6L534.6 335.9L535.4 336.1L536.2 335.4L537.0 334.6L537.8 333.7L538.6 332.4L539.4 332.1L540.2 331.0L541.0 330.0L541.8 328.9L542.6 327.5L543.4 326.8L544.2 326.3L545.0 325.9L545.8 324.6L546.6 325.2L547.4 323.9L548.2 323.5L549.0 323.0L549.8 321.4L550.6 322.0L551.4 321.6L552.2 320.1L553.0 319.4L553.8 320.0L554.6 319.8L555.4 319.3L556.2 318.4L557.0 318.6L557.8 317.6L558.6 317.7L559.4 317.9L560.2 318.3L561.0 317.1L561.8 318.4L562.6 316.8L563.4 318.2L564.2 316.9L565.0 317.7L565.8 317.5L566.6 317.6L567.4 316.8L568.2 317.2L569.0 316.8L569.8 320.3L570.6 327.3L571.4 336.6L572.2 344.0L573.0 349.4L573.8 356.1L574.6 358.6L575.4 360.4L576.2 359.8L577.0 358.2L577.8 357.3L578.6 356.6L579.4 355.8L580.2 354.0L581.0 353.1L581.8 352.0L582.6 351.0L583.4 349.6L584.2 348.6L585.0 347.8L585.8 348.0L586.6 346.9L587.4 347.3L588.2 346.2L589.0 346.2L589.8 345.7L590.6 345.5L591.4 344.5L592.2 344.4L593.0 344.8L593.8 343.8L594.6 344.3L595.4 344.6L596.2 343.5L597.0 344.5L597.8 344.0L598.6 344.6L599.4 344.0L600.2 344.4L601.0 344.4L601.8 343.7L602.6 344.3L603.4 344.5L604.2 344.4L605.0 344.8L605.8 345.3L606.6 345.3L607.4 345.4L608.2 344.4L609.0 345.4L609.8 345.4L610.6 346.1L611.4 344.7L612.2 345.1L613.0 346.5L613.8 345.6L614.6 346.3L615.4 346.3L616.2 346.1L617.0 346.3L617.8 346.7L618.6 347.5L619.4 347.0L620.2 347.5L621.0 346.9L621.8 347.8L622.6 347.8L623.4 348.2L624.2 348.6L625.0 347.5L625.8 349.1L626.6 348.7L627.4 348.3L628.2 348.8L629.0 348.3L629.8 348.7L630.6 349.8L631.4 349.8L632.2 350.2L633.0 349.2L633.8 349.3L634.6 349.9L635.4 350.2L636.2 350.7L637.0 350.2L637.8 351.0L638.6 350.9L639.4 350.5L639.7 350.9" stroke="#d8d539"/>
<path d="M85.8 481.1L86.6 480.5L87.4 481.2L88.2 481.0L89.0 481.1L89.8 481.7L90.6 481.9L91.4 482.2L92.2 482.0L93.0 482.6L93.8 482.5L94.6 482.0L95.4 481.9L96.2 482.9L97.0 482.4L97.8 482.1L98.6 482.2L99.4 482.7L100.2 482.2L101.0 482.4L101.8 482.7L102.6 482.4L103.4 482.7L104.2 483.0L105.0 482.8L105.8 482.7L106.6 482.7L107.4 482.4L108.2 482.7L109.0 482.7L109.8 482.7L110.6 482.6L111.4 482.8L112.2 482.3L113.0 482.8L113.8 483.1L114.6 482.1L115.4 482.3L116.2 483.1L117.0 482.2L117.8 482.9L118.6 482.7L119.4 482.2L120.2 482.7L121.0 482.1L121.8 482.9L122.6 482.4L123.4 483.0L124.2 483.0L125.0 482.2L125.8 482.5L126.6 482.3L127.4 482.9L128.2 482.2L129.0 482.2L129.8 482.2L130.6 483.0L131.4 482.3L132.2 482.4L133.0 482.5L133.8 482.7L134.6 482.5L135.4 483.0L136.2 482.4L137.0 482.6L137.8 483.0L138.6 482.3L139.4 482.3L140.2 482.9L141.0 482.4L141.8 483.0L142.6 482.9L143.4 482.5L144.2 482.4L145.0 482.2L145.8 483.0L146.6 482.5L147.4 482.4L148.2 482.2L149.0 482.3L149.8 482.9L150.6 482.2L151.4 482.6L152.2 482.7L153.0 482.5L153.8 482.5L154.6 482.0L155.4 481.2L156.2 481.0L157.0 479.8L157.8 476.4L158.6 466.8L159.4 457.2L160.2 446.1L161.0 435.8L161.8 428.9L162.6 423.1L163.4 417.6L164.2 413.4L165.0 410.7L165.8 406.8L166.6 404.8L167.4 403.4L168.2 401.2L169.0 399.5L169.8 397.7L170.6 397.5L171.4 396.1L172.2 394.9L173.0 394.9L173.8 394.5L174.6 393.2L175.4 393.2L176.2 393.2L177.0 392.3L177.8 391.9L178.6 392.2L179.4 391.7L180.2 392.1L181.0 391.8L181.8 391.7L182.6 391.4L183.4 390.9L184.2 391.5L185.0 391.6L185.8 391.6L186.6 391.9L187.4 391.8L188.2 391.8L189.0 392.7L189.8 392.3L190.6 392.3L191.4 393.4L192.2 393.1L193.0 393.5L193.8 393.3L194.6 393.4L195.4 393.8L196.2 394.5L197.0 394.1L197.8 394.9L198.6 394.5L199.4 395.3L200.2 394.7L201.0 395.2L201.8 395.0L202.6 395.2L203.4 395.8L204.2 395.8L205.0 396.1L205.8 395.9L206.6 396.1L207.4 396.1L208.2 396.8L209.0 396.0L209.8 396.5L210.6 397.1L211.4 397.0L212.2 397.0L213.0 398.8L213.8 401.2L214.6 404.9L215.4 408.7L216.2 412.9L217.0 417.2L217.8 420.6L218.6 424.7L219.4 429.3L220.2 432.9L221.0 437.2L221.8 442.2L222.6 446.0L223.4 450.6L224.2 454.3L225.0 458.8L225.8 462.9L226.6 466.0L227.4 468.5L228.2 471.1L229.0 473.2L229.8 474.0L230.6 475.4L231.4 476.6L232.2 477.8L233.0 478.2L233.8 479.1L234.6 479.2L235.4 480.3L236.2 480.2L237.0 480.5L237.8 480.6L238.6 480.9L239.4 481.2L240.2 482.1L241.0 481.8L241.8 482.0L242.6 482.7L243.4 482.7L244.2 482.5L245.0 482.0L245.8 482.1L246.6 482.3L247.4 482.1L248.2 482.2L249.0 482.1L249.8 482.1L250.6 482.6L251.4 482.5L252.2 482.3L253.0 482.4L253.8 482.5L254.6 482.6L255.4 482.0L256.2 482.8L257.0 482.4L257.8 482.3L258.6 483.0L259.4 482.8L260.2 482.4L261.0 482.1L261.8 482.5L262.6 482.5L263.4 482.5L264.2 482.2L265.0 482.7L265.8 482.4L266.6 482.9L267.4 482.7L268.2 482.4L269.0 483.0L269.8 482.6L270.6 482.3L271.4 482.5L272.2 482.3L273.0 482.7L273.8 483.1L274.6 483.2L275.4 482.9L276.2 482.4L277.0 482.5L277.8 482.5L278.6 482.7L279.4 483.0L280.2 482.3L281.0 482.8L281.8 482.8L282.6 483.0L283.4 483.2L284.2 482.8L285.0 483.0L285.8 482.7L286.6 482.8L287.4 483.0L288.2 482.5L289.0 482.9L289.8 482.9L290.6 482.6L291.4 482.7L292.2 483.3L293.0 482.8L293.8 482.7L294.6 482.8L295.4 483.0L296.2 482.9L297.0 482.9L297.8 482.8L298.6 482.7L299.4 483.0L300.2 483.1L301.0 482.6L301.8 483.1L302.6 482.9L303.4 483.5L304.2 483.5L305.0 482.7L305.8 483.3L306.6 482.9L307.4 482.7L308.2 483.5L309.0 483.5L309.8 483.4L310.6 483.2L311.4 483.6L312.2 483.2L313.0 483.3L313.8 483.3L314.6 483.5L315.4 483.2L316.2 482.3L317.0 481.4L317.8 480.6L318.6 477.3L319.4 469.8L320.2 462.4L321.0 454.5L321.8 446.4L322.6 440.2L323.4 436.0L324.2 431.3L325.0 428.1L325.8 424.6L326.6 422.7L327.4 419.9L328.2 417.3L329.0 415.7L329.8 414.6L330.6 413.1L331.4 412.0L332.2 410.2L333.0 410.1L333.8 408.9L334.6 408.1L335.4 407.7L336.2 406.8L337.0 406.1L337.8 405.6L338.6 405.5L339.4 404.8L340.2 404.8L341.0 405.1L341.8 404.2L342.6 403.9L343.4 404.5L344.2 403.9L345.0 403.9L345.8 403.8L346.6 403.9L347.4 403.4L348.2 403.7L349.0 402.9L349.8 403.8L350.6 403.3L351.4 403.7L352.2 403.5L353.0 404.1L353.8 403.8L354.6 404.2L355.4 404.1L356.2 404.7L357.0 404.8L357.8 404.4L358.6 405.1L359.4 405.4L360.2 404.8L361.0 404.9L361.8 405.8L362.6 406.0L363.4 405.3L364.2 406.0L365.0 406.3L365.8 405.7L366.6 406.3L367.4 405.8L368.2 406.4L369.0 406.2L369.8 406.3L370.6 406.0L371.4 406.7L372.2 406.9L373.0 406.7L373.8 406.7L374.6 407.0L375.4 408.2L376.2 412.5L377.0 416.2L377.8 420.4L378.6 424.3L379.4 427.8L380.2 432.2L381.0 436.9L381.8 440.8L382.6 444.6L383.4 447.9L384.2 451.4L385.0 454.9L385.8 458.4L386.6 461.2L387.4 464.1L388.2 467.4L389.0 469.9L389.8 472.1L390.6 473.9L391.4 475.0L392.2 476.0L393.0 476.7L393.8 477.8L394.6 478.7L395.4 479.2L396.2 480.0L397.0 479.5L397.8 480.1L398.6 480.3L399.4 481.5L400.2 481.5L401.0 481.8L401.8 482.0L402.6 481.4L403.4 482.4L404.2 481.9L405.0 482.3L405.8 482.2L406.6 482.6L407.4 482.3L408.2 482.3L409.0 482.3L409.8 482.8L410.6 482.5L411.4 482.2L412.2 482.4L413.0 482.6L413.8 482.5L414.6 482.7L415.4 483.0L416.2 482.8L417.0 482.9L417.8 482.5L418.6 483.0L419.4 483.1L420.2 482.7L421.0 482.2L421.8 482.3L422.6 483.0L423.4 483.1L424.2 483.0L425.0 482.8L425.8 482.8L426.6 482.4L427.4 482.9L428.2 483.3L429.0 482.5L429.8 482.9L430.6 483.2L431.4 483.0L432.2 482.7L433.0 482.6L433.8 483.1L434.6 483.3L435.4 483.3L436.2 482.8L437.0 483.2L437.8 483.2L438.6 482.8L439.4 483.2L440.2 482.8L441.0 482.7L441.8 482.5L442.6 483.2L443.4 483.3L444.2 482.6L445.0 482.6L445.8 482.8L446.6 482.7L447.4 483.3L448.2 482.8L449.0 483.2L449.8 483.1L450.6 482.9L451.4 483.5L452.2 483.1L453.0 483.1L453.8 483.3L454.6 483.0L455.4 482.8L456.2 483.6L457.0 483.4L457.8 483.2L458.6 483.2L459.4 483.3L460.2 483.0L461.0 482.8L461.8 483.3L462.6 483.6L463.4 482.8L464.2 483.7L465.0 483.1L465.8 483.8L466.6 483.6L467.4 483.1L468.2 483.0L469.0 483.7L469.8 483.8L470.6 483.6L471.4 483.4L472.2 483.4L473.0 483.7L473.8 483.7L474.6 483.7L475.4 483.2L476.2 483.7L477.0 483.9L477.8 483.5L478.6 482.9L479.4 483.1L480.2 483.6L481.0 483.4L481.8 483.9L482.6 483.6L483.4 483.7L484.2 483.2L485.0 483.5L485.8 483.7L486.6 484.0L487.4 483.9L488.2 483.3L489.0 483.6L489.8 484.0L490.6 483.2L491.4 483.2L492.2 483.3L493.0 483.8L493.8 483.4L494.6 483.8L495.4 484.0L496.2 483.9L497.0 483.2L497.8 483.8L498.6 483.9L499.4 483.9L500.2 484.0L501.0 484.0L501.8 483.8L502.6 484.0L503.4 483.7L504.2 483.3L505.0 483.5L505.8 484.1L506.6 483.5L507.4 483.7L508.2 484.1L509.0 483.9L509.8 484.0L510.6 483.7L511.4 483.3L512.2 482.3L513.0 481.5L513.8 480.2L514.6 477.8L515.4 472.8L516.2 466.9L517.0 462.4L517.8 457.1L518.6 452.7L519.4 447.8L520.2 445.5L521.0 442.6L521.8 440.9L522.6 438.0L523.4 436.5L524.2 434.4L525.0 432.6L525.8 431.5L526.6 429.3L527.4 428.4L528.2 427.5L529.0 426.8L529.8 425.4L530.6 423.8L531.4 423.2L532.2 422.8L533.0 422.0L533.8 420.9L534.6 420.1L535.4 419.6L536.2 419.5L537.0 418.4L537.8 418.6L538.6 417.5L539.4 417.6L540.2 417.2L541.0 416.5L541.8 416.4L542.6 416.3L543.4 415.6L544.2 415.6L545.0 415.4L545.8 415.6L546.6 414.8L547.4 414.5L548.2 414.7L549.0 414.7L549.8 414.5L550.6 414.8L551.4 414.0L552.2 414.2L553.0 414.1L553.8 413.8L554.6 414.0L555.4 414.1L556.2 414.0L557.0 414.4L557.8 414.7L558.6 414.7L559.4 414.0L560.2 414.1L561.0 414.7L561.8 413.9L562.6 413.9L563.4 413.8L564.2 414.7L565.0 414.2L565.8 414.1L566.6 413.8L567.4 414.7L568.2 414.9L569.0 414.9L569.8 416.4L570.6 419.0L571.4 422.1L572.2 425.5L573.0 429.2L573.8 432.4L574.6 436.1L575.4 439.3L576.2 442.8L577.0 447.0L577.8 450.2L578.6 453.3L579.4 455.9L580.2 459.0L581.0 462.0L581.8 464.9L582.6 467.0L583.4 469.6L584.2 472.0L585.0 474.0L585.8 474.7L586.6 475.4L587.4 476.8L588.2 478.1L589.0 478.0L589.8 479.0L590.6 479.0L591.4 479.7L592.2 480.4L593.0 480.2L593.8 480.8L594.6 481.3L595.4 481.4L596.2 482.0L597.0 482.3L597.8 482.0L598.6 482.7L599.4 482.8L600.2 482.7L601.0 482.8L601.8 482.8L602.6 483.1L603.4 483.1L604.2 482.8L605.0 483.3L605.8 483.3L606.6 483.1L607.4 483.6L608.2 483.0L609.0 483.3L609.8 483.3L610.6 483.4L611.4 483.0L612.2 483.5L613.0 483.0L613.8 483.5L614.6 483.4L615.4 483.7L616.2 483.9L617.0 484.0L617.8 483.3L618.6 484.0L619.4 483.6L620.2 483.6L621.0 483.2L621.8 484.1L622.6 483.4L623.4 483.5L624.2 483.6L625.0 483.5L625.8 483.6L626.6 483.6L627.4 483.8L628.2 483.7L629.0 484.1L629.8 484.3L630.6 484.3L631.4 483.8L632.2 484.1L633.0 484.1L633.8 484.1L634.6 483.8L635.4 483.6L636.2 484.2L637.0 484.1L637.8 483.8L638.6 484.2L639.4 483.6L639.7 484.0" stroke="#3fbd4a"/>
<path d="M85.8 536.2L86.6 536.8L87.4 537.4L88.2 536.9L89.0 538.3L89.8 539.0L90.6 538.8L91.4 540.1L92.2 540.2L93.0 540.9L93.8 541.2L94.6 542.1L95.4 543.3L96.2 543.4L97.0 544.2L97.8 544.9L98.6 544.3L99.4 545.7L100.2 546.2L101.0 546.3L101.8 546.4L102.6 546.6L103.4 547.4L104.2 547.7L105.0 547.8L105.8 548.7L106.6 549.0L107.4 548.8L108.2 549.1L109.0 549.8L109.8 550.4L110.6 550.7L111.4 551.0L112.2 551.6L113.0 551.7L113.8 551.6L114.6 552.4L115.4 552.5L116.2 552.4L117.0 552.4L117.8 553.0L118.6 553.7L119.4 554.0L120.2 553.7L121.0 554.3L121.8 554.0L122.6 554.9L123.4 555.0L124.2 555.7L125.0 556.1L125.8 555.3L126.6 556.8L127.4 556.0L128.2 557.2L129.0 557.5L129.8 556.7L130.6 557.0L131.4 557.0L132.2 558.3L133.0 558.3L133.8 558.8L134.6 558.8L135.4 558.5L136.2 559.2L137.0 558.9L137.8 559.1L138.6 559.4L139.4 560.0L140.2 559.8L141.0 560.3L141.8 560.5L142.6 561.0L143.4 560.8L144.2 561.0L145.0 561.4L145.8 561.5L146.6 562.0L147.4 561.4L148.2 561.8L149.0 561.8L149.8 562.5L150.6 563.3L151.4 563.2L152.2 563.4L153.0 564.0L153.8 564.1L154.6 563.6L155.4 563.7L156.2 564.3L157.0 564.1L157.8 564.8L158.6 566.0L159.4 561.9L160.2 557.4L161.0 556.2L161.8 555.5L162.6 555.8L163.4 554.6L164.2 555.0L165.0 554.0L165.8 553.4L166.6 551.4L167.4 549.8L168.2 547.8L169.0 545.7L169.8 545.1L170.6 542.4L171.4 540.5L172.2 539.8L173.0 537.5L173.8 535.7L174.6 534.4L175.4 532.4L176.2 530.2L177.0 528.7L177.8 527.8L178.6 526.3L179.4 524.3L180.2 522.9L181.0 521.9L181.8 520.0L182.6 519.7L183.4 518.3L184.2 516.5L185.0 515.9L185.8 514.8L186.6 513.0L187.4 512.4L188.2 511.9L189.0 510.6L189.8 510.1L190.6 508.6L191.4 508.8L192.2 507.6L193.0 506.9L193.8 505.6L194.6 505.5L195.4 504.5L196.2 504.5L197.0 503.7L197.8 503.5L198.6 503.5L199.4 503.2L200.2 503.3L201.0 503.6L201.8 503.0L202.6 503.6L203.4 504.1L204.2 503.7L205.0 504.0L205.8 502.9L206.6 503.5L207.4 502.9L208.2 503.7L209.0 503.0L209.8 503.3L210.6 503.4L211.4 502.6L212.2 502.6L213.0 504.3L213.8 506.9L214.6 509.4L215.4 511.7L216.2 514.2L217.0 517.6L217.8 520.1L218.6 521.5L219.4 523.9L220.2 526.0L221.0 527.0L221.8 529.8L222.6 531.8L223.4 533.2L224.2 534.8L225.0 535.8L225.8 537.5L226.6 539.0L227.4 546.6L228.2 553.3L229.0 555.1L229.8 554.0L230.6 553.7L231.4 553.5L232.2 554.2L233.0 554.3L233.8 555.6L234.6 555.6L235.4 556.6L236.2 557.5L237.0 558.5L237.8 560.1L238.6 560.4L239.4 561.1L240.2 562.2L241.0 562.6L241.8 563.8L242.6 564.2L243.4 565.1L244.2 565.2L245.0 565.8L245.8 566.4L246.6 567.4L247.4 567.8L248.2 567.6L249.0 567.9L249.8 567.7L250.6 569.1L251.4 569.2L252.2 569.3L253.0 569.3L253.8 570.1L254.6 570.7L255.4 570.5L256.2 570.9L257.0 571.5L257.8 571.8L258.6 571.4L259.4 571.8L260.2 572.5L261.0 573.2L261.8 573.0L262.6 572.8L263.4 573.4L264.2 573.6L265.0 574.6L265.8 574.2L266.6 575.5L267.4 574.8L268.2 575.0L269.0 575.0L269.8 575.9L270.6 576.1L271.4 576.7L272.2 576.8L273.0 576.8L273.8 576.4L274.6 577.8L275.4 577.1L276.2 577.3L277.0 577.4L277.8 578.2L278.6 578.5L279.4 578.3L280.2 578.4L281.0 578.3L281.8 579.3L282.6 579.7L283.4 579.1L284.2 579.5L285.0 580.3L285.8 580.5L286.6 579.9L287.4 581.2L288.2 581.1L289.0 581.3L289.8 581.0L290.6 582.0L291.4 581.5L292.2 582.0L293.0 582.6L293.8 582.6L294.6 581.9L295.4 582.0L296.2 582.3L297.0 582.4L297.8 583.6L298.6 583.3L299.4 583.4L300.2 583.4L301.0 583.7L301.8 583.8L302.6 584.4L303.4 584.1L304.2 584.9L305.0 585.0L305.8 585.2L306.6 585.2L307.4 584.6L308.2 585.0L309.0 585.7L309.8 585.2L310.6 585.7L311.4 585.3L312.2 586.3L313.0 585.8L313.8 586.0L314.6 586.7L315.4 585.9L316.2 585.9L317.0 586.6L317.8 586.8L318.6 586.5L319.4 587.3L320.2 590.9L321.0 584.2L321.8 580.4L322.6 580.0L323.4 578.9L324.2 579.2L325.0 579.2L325.8 578.5L326.6 579.5L327.4 578.6L328.2 578.9L329.0 578.1L329.8 576.8L330.6 576.1L331.4 575.4L332.2 574.2L333.0 573.2L333.8 572.8L334.6 571.6L335.4 570.7L336.2 570.4L337.0 569.4L337.8 568.0L338.6 566.4L339.4 566.3L340.2 564.5L341.0 563.2L341.8 562.9L342.6 562.0L343.4 560.0L344.2 559.3L345.0 558.6L345.8 557.0L346.6 555.6L347.4 554.3L348.2 553.0L349.0 553.1L349.8 552.0L350.6 550.4L351.4 550.3L352.2 549.0L353.0 549.0L353.8 547.9L354.6 547.7L355.4 547.0L356.2 545.9L357.0 546.1L357.8 545.8L358.6 544.6L359.4 544.1L360.2 544.1L361.0 544.5L361.8 544.6L362.6 543.8L363.4 544.1L364.2 543.7L365.0 543.0L365.8 543.1L366.6 543.4L367.4 542.8L368.2 542.7L369.0 542.8L369.8 541.9L370.6 542.2L371.4 542.1L372.2 542.1L373.0 542.2L373.8 541.7L374.6 542.4L375.4 543.8L376.2 545.1L377.0 547.7L377.8 549.7L378.6 550.7L379.4 552.0L380.2 553.5L381.0 555.0L381.8 556.2L382.6 557.2L383.4 559.1L384.2 559.3L385.0 560.1L385.8 561.6L386.6 561.6L387.4 562.8L388.2 564.0L389.0 566.2L389.8 574.0L390.6 578.8L391.4 579.6L392.2 577.8L393.0 577.8L393.8 577.6L394.6 577.9L395.4 577.0L396.2 577.2L397.0 577.6L397.8 578.2L398.6 578.4L399.4 579.8L400.2 579.8L401.0 580.6L401.8 580.5L402.6 581.6L403.4 582.4L404.2 582.0L405.0 583.4L405.8 582.9L406.6 583.9L407.4 584.6L408.2 584.4L409.0 585.4L409.8 585.1L410.6 585.6L411.4 586.6L412.2 586.6L413.0 586.3L413.8 586.7L414.6 587.5L415.4 587.5L416.2 587.4L417.0 588.6L417.8 588.2L418.6 589.2L419.4 588.7L420.2 588.7L421.0 589.3L421.8 590.1L422.6 590.4L423.4 590.2L424.2 590.1L425.0 590.7L425.8 590.5L426.6 590.9L427.4 590.7L428.2 590.9L429.0 592.3L429.8 592.3L430.6 591.9L431.4 592.5L432.2 592.0L433.0 593.2L433.8 593.2L434.6 593.5L435.4 593.3L436.2 593.5L437.0 594.2L437.8 593.8L438.6 593.7L439.4 593.9L440.2 595.2L441.0 594.5L441.8 594.5L442.6 595.3L443.4 594.9L444.2 595.4L445.0 596.0L445.8 595.4L446.6 595.7L447.4 596.5L448.2 596.6L449.0 596.7L449.8 595.7L450.6 597.1L451.4 596.7L452.2 596.3L453.0 597.5L453.8 596.5L454.6 597.7L455.4 596.6L456.2 596.8L457.0 597.4L457.8 597.7L458.6 597.8L459.4 598.2L460.2 597.4L461.0 598.4L461.8 597.9L462.6 598.9L463.4 598.6L464.2 598.8L465.0 598.1L465.8 599.3L466.6 598.5L467.4 598.5L468.2 598.9L469.0 599.5L469.8 599.0L470.6 599.3L471.4 599.5L472.2 599.2L473.0 599.1L473.8 599.6L474.6 600.0L475.4 600.1L476.2 599.6L477.0 600.2L477.8 600.6L478.6 600.5L479.4 599.9L480.2 599.8L481.0 601.1L481.8 600.8L482.6 600.4L483.4 601.0L484.2 600.9L485.0 601.1L485.8 600.8L486.6 601.3L487.4 601.0L488.2 601.1L489.0 601.1L489.8 601.7L490.6 601.9L491.4 601.3L492.2 601.1L493.0 601.4L493.8 602.1L494.6 601.6L495.4 601.2L496.2 602.4L497.0 601.9L497.8 601.5L498.6 602.5L499.4 602.2L500.2 602.7L501.0 602.8L501.8 602.8L502.6 602.9L503.4 602.3L504.2 602.9L505.0 602.6L505.8 602.8L506.6 602.3L507.4 602.9L508.2 602.2L509.0 603.3L509.8 602.5L510.6 603.0L511.4 603.4L512.2 603.5L513.0 603.6L513.8 603.1L514.6 602.7L515.4 605.0L516.2 606.4L517.0 607.1L517.8 598.8L518.6 597.3L519.4 597.4L520.2 597.4L521.0 597.8L521.8 597.7L522.6 597.2L523.4 597.7L524.2 597.2L525.0 598.3L525.8 597.5L526.6 597.8L527.4 598.2L528.2 597.9L529.0 598.6L529.8 598.4L530.6 597.6L531.4 597.5L532.2 597.7L533.0 597.2L533.8 597.1L534.6 596.4L535.4 596.4L536.2 596.2L537.0 596.2L537.8 595.2L538.6 595.4L539.4 594.3L540.2 594.0L541.0 593.5L541.8 593.9L542.6 592.2L543.4 591.8L544.2 591.4L545.0 591.1L545.8 590.4L546.6 589.0L547.4 588.7L548.2 588.5L549.0 587.1L549.8 586.4L550.6 586.7L551.4 584.9L552.2 584.4L553.0 583.9L553.8 584.0L554.6 582.8L555.4 582.3L556.2 581.9L557.0 581.8L557.8 580.2L558.6 579.9L559.4 579.7L560.2 579.5L561.0 578.4L561.8 578.3L562.6 578.0L563.4 577.0L564.2 576.9L565.0 576.1L565.8 576.8L566.6 575.3L567.4 575.1L568.2 575.4L569.0 574.7L569.8 575.2L570.6 575.7L571.4 577.6L572.2 578.1L573.0 578.8L573.8 579.5L574.6 580.8L575.4 582.0L576.2 582.7L577.0 583.1L577.8 583.3L578.6 584.2L579.4 584.0L580.2 584.6L581.0 585.4L581.8 585.5L582.6 585.4L583.4 586.2L584.2 586.6L585.0 589.3L585.8 597.0L586.6 599.7L587.4 598.1L588.2 597.0L589.0 596.4L589.8 595.0L590.6 594.9L591.4 596.1L592.2 595.4L593.0 596.4L593.8 595.6L594.6 596.3L595.4 596.9L596.2 597.0L597.0 598.2L597.8 598.5L598.6 598.0L599.4 598.1L600.2 599.4L601.0 599.6L601.8 599.5L602.6 599.2L603.4 599.4L604.2 600.5L605.0 600.8L605.8 600.8L606.6 600.9L607.4 601.1L608.2 601.5L609.0 601.8L609.8 602.4L610.6 602.4L611.4 602.4L612.2 602.4L613.0 603.1L613.8 603.6L614.6 602.8L615.4 603.7L616.2 603.7L617.0 603.3L617.8 603.3L618.6 604.4L619.4 603.6L620.2 603.7L621.0 603.8L621.8 604.9L622.6 604.4L623.4 604.1L624.2 604.6L625.0 605.0L625.8 605.1L626.6 604.8L627.4 605.8L628.2 605.7L629.0 605.2L629.8 605.4L630.6 605.4L631.4 605.2L632.2 606.1L633.0 605.8L633.8 606.4L634.6 606.7L635.4 606.1L636.2 606.2L637.0 606.4L637.8 606.6L638.6 606.1L639.4 606.6L639.7 606.8" stroke="#b069ea"/>
</g>
<rect x="84.5" y="15.5" width="557.0" height="601.5" fill="none" stroke="#000" stroke-width="2.2" />
<line x1="84.5" y1="136.0" x2="641.5" y2="136.0" stroke="#000" stroke-width="2.2" />
<line x1="84.5" y1="256.0" x2="641.5" y2="256.0" stroke="#000" stroke-width="2.2" />
<line x1="84.5" y1="376.0" x2="641.5" y2="376.0" stroke="#000" stroke-width="2.2" />
<line x1="84.5" y1="496.0" x2="641.5" y2="496.0" stroke="#000" stroke-width="2.2" />
<line x1="195.9" y1="136.0" x2="195.9" y2="131.5" stroke="#000" stroke-width="1.8" />
<line x1="307.3" y1="136.0" x2="307.3" y2="128.5" stroke="#000" stroke-width="1.8" />
<line x1="418.7" y1="136.0" x2="418.7" y2="131.5" stroke="#000" stroke-width="1.8" />
<line x1="530.1" y1="136.0" x2="530.1" y2="128.5" stroke="#000" stroke-width="1.8" />
<line x1="195.9" y1="256.0" x2="195.9" y2="251.5" stroke="#000" stroke-width="1.8" />
<line x1="307.3" y1="256.0" x2="307.3" y2="248.5" stroke="#000" stroke-width="1.8" />
<line x1="418.7" y1="256.0" x2="418.7" y2="251.5" stroke="#000" stroke-width="1.8" />
<line x1="530.1" y1="256.0" x2="530.1" y2="248.5" stroke="#000" stroke-width="1.8" />
<line x1="195.9" y1="376.0" x2="195.9" y2="371.5" stroke="#000" stroke-width="1.8" />
<line x1="307.3" y1="376.0" x2="307.3" y2="368.5" stroke="#000" stroke-width="1.8" />
<line x1="418.7" y1="376.0" x2="418.7" y2="371.5" stroke="#000" stroke-width="1.8" />
<line x1="530.1" y1="376.0" x2="530.1" y2="368.5" stroke="#000" stroke-width="1.8" />
<line x1="223.8" y1="496.0" x2="223.8" y2="491.5" stroke="#000" stroke-width="1.8" />
<line x1="363.0" y1="496.0" x2="363.0" y2="488.5" stroke="#000" stroke-width="1.8" />
<line x1="502.2" y1="496.0" x2="502.2" y2="491.5" stroke="#000" stroke-width="1.8" />
<line x1="195.9" y1="617.0" x2="195.9" y2="609.0" stroke="#000" stroke-width="1.8" />
<line x1="307.3" y1="617.0" x2="307.3" y2="609.0" stroke="#000" stroke-width="1.8" />
<line x1="418.7" y1="617.0" x2="418.7" y2="609.0" stroke="#000" stroke-width="1.8" />
<line x1="530.1" y1="617.0" x2="530.1" y2="609.0" stroke="#000" stroke-width="1.8" />
<text transform="translate(84.5 652.5) scale(1 1.04)" font-size="33" fill="#000" text-anchor="middle">0</text>
<text transform="translate(195.9 652.5) scale(1 1.04)" font-size="33" fill="#000" text-anchor="middle">200</text>
<text transform="translate(307.3 652.5) scale(1 1.04)" font-size="33" fill="#000" text-anchor="middle">400</text>
<text transform="translate(418.7 652.5) scale(1 1.04)" font-size="33" fill="#000" text-anchor="middle">600</text>
<text transform="translate(530.1 652.5) scale(1 1.04)" font-size="33" fill="#000" text-anchor="middle">800</text>
<text transform="translate(641.5 652.5) scale(1 1.04)" font-size="33" fill="#000" text-anchor="middle">1000</text>
<text transform="translate(363.0 689.0) scale(1 1.04)" font-size="33" fill="#000" text-anchor="middle">Time (s)</text>
<text transform="translate(68.8,316) rotate(-90) scale(1 1.04)" font-size="34" text-anchor="middle">Intensity (a.u.)</text>
<line x1="92.0" y1="23.0" x2="92.0" y2="73.0" stroke="#000" stroke-width="2.1" />
<line x1="89.3" y1="23.0" x2="94.7" y2="23.0" stroke="#000" stroke-width="1.9" />
<line x1="89.3" y1="73.0" x2="94.7" y2="73.0" stroke="#000" stroke-width="1.9" />
<text transform="translate(95.4 53.0) scale(1 1.04)" font-size="23" fill="#000" text-anchor="start">1E-12</text>
<line x1="92.0" y1="147.0" x2="92.0" y2="175.0" stroke="#000" stroke-width="2.1" />
<line x1="89.3" y1="147.0" x2="94.7" y2="147.0" stroke="#000" stroke-width="1.9" />
<line x1="89.3" y1="175.0" x2="94.7" y2="175.0" stroke="#000" stroke-width="1.9" />
<text transform="translate(95.4 167.0) scale(1 1.04)" font-size="23" fill="#000" text-anchor="start">1E-11</text>
<line x1="92.0" y1="266.0" x2="92.0" y2="294.0" stroke="#000" stroke-width="2.1" />
<line x1="89.3" y1="266.0" x2="94.7" y2="266.0" stroke="#000" stroke-width="1.9" />
<line x1="89.3" y1="294.0" x2="94.7" y2="294.0" stroke="#000" stroke-width="1.9" />
<text transform="translate(95.4 287.0) scale(1 1.04)" font-size="23" fill="#000" text-anchor="start">1E-12</text>
<line x1="92.0" y1="386.0" x2="92.0" y2="420.0" stroke="#000" stroke-width="2.1" />
<line x1="89.3" y1="386.0" x2="94.7" y2="386.0" stroke="#000" stroke-width="1.9" />
<line x1="89.3" y1="420.0" x2="94.7" y2="420.0" stroke="#000" stroke-width="1.9" />
<text transform="translate(95.4 409.0) scale(1 1.04)" font-size="23" fill="#000" text-anchor="start">1E-12</text>
<line x1="92.0" y1="517.0" x2="92.0" y2="537.0" stroke="#000" stroke-width="2.1" />
<line x1="89.3" y1="517.0" x2="94.7" y2="517.0" stroke="#000" stroke-width="1.9" />
<line x1="89.3" y1="537.0" x2="94.7" y2="537.0" stroke="#000" stroke-width="1.9" />
<text transform="translate(95.4 530.0) scale(1 1.04)" font-size="23" fill="#000" text-anchor="start">1E-12</text>
<text transform="translate(634.0 47.0) scale(1 1.04)" font-size="34" fill="#000" text-anchor="end">*NO<tspan font-size="25.5">2</tspan></text>
<text transform="translate(635.5 168.5) scale(1 1.04)" font-size="34" fill="#000" text-anchor="end">*NO</text>
<text transform="translate(634.5 286.5) scale(1 1.04)" font-size="34" fill="#000" text-anchor="end">*NHO</text>
<text transform="translate(634.0 409.0) scale(1 1.04)" font-size="34" fill="#000" text-anchor="end">*NH<tspan font-size="25.5">2</tspan><tspan>OH</tspan></text>
<text transform="translate(634.0 529.0) scale(1 1.04)" font-size="34" fill="#000" text-anchor="end">*NH<tspan font-size="25.5">3</tspan></text>
<text transform="translate(1.2 36.6) scale(1 1.0)" font-size="48" fill="#000" text-anchor="start" font-weight="bold">a</text>
<rect x="741.5" y="15.5" width="1255.0" height="596.0" fill="none" stroke="#000" stroke-width="2.2" />
<text transform="translate(695.0 40.0) scale(1 1.0)" font-size="51.4" fill="#000" text-anchor="start" font-weight="bold">b</text>
<text transform="translate(721,316.3) rotate(-90) scale(1 1.04)" font-size="33.5" text-anchor="middle">Free energy (eV)</text>
<text transform="translate(1369.0 692.5) scale(1 1.04)" font-size="33.5" fill="#000" text-anchor="middle">Reaction coordinates</text>
<text transform="translate(816.0 646.0) scale(1 1.04)" font-size="33.5" fill="#000" text-anchor="middle">NO<tspan font-size="25">3</tspan><tspan font-size="24" dy="-9">-</tspan></text>
<text transform="translate(949.0 646.0) scale(1 1.04)" font-size="33.5" fill="#000" text-anchor="middle">*NO<tspan font-size="25">3</tspan></text>
<text transform="translate(1096.0 646.0) scale(1 1.04)" font-size="33.5" fill="#000" text-anchor="middle">*NO<tspan font-size="25">2</tspan></text>
<text transform="translate(1235.0 646.0) scale(1 1.04)" font-size="33.5" fill="#000" text-anchor="middle">*NO</text>
<text transform="translate(1370.5 646.0) scale(1 1.04)" font-size="33.5" fill="#000" text-anchor="middle">*NHO</text>
<text transform="translate(1510.0 646.0) scale(1 1.04)" font-size="33.5" fill="#000" text-anchor="middle">*NHOH</text>
<text transform="translate(1651.5 646.0) scale(1 1.04)" font-size="33.5" fill="#000" text-anchor="middle">*NH<tspan font-size="25">2</tspan>OH</text>
<text transform="translate(1793.0 646.0) scale(1 1.04)" font-size="33.5" fill="#000" text-anchor="middle">*NH<tspan font-size="25">2</tspan></text>
<text transform="translate(1922.0 646.0) scale(1 1.04)" font-size="33.5" fill="#000" text-anchor="middle">*NH<tspan font-size="25">3</tspan></text>
<text transform="translate(760.0 86.5) scale(1 1.04)" font-size="34" fill="#e1627a" text-anchor="start">Marginal Ru-Ru</text>
<text transform="translate(754.8 303.3) scale(1 1.04)" font-size="34" fill="#2a7399" text-anchor="start">Interfacial Ru-Ru</text>
<text transform="translate(1593.6 54.9) scale(1 1.04)" font-size="34.3" fill="#000" text-anchor="start">Potential determining step</text>
<circle cx="1300.3" cy="182.9" r="16.7" fill="#fff" stroke="#000" stroke-width="2.7"/>
<circle cx="1295.6" cy="177.9" r="2.1" fill="#000"/><circle cx="1305.1" cy="177.9" r="2.1" fill="#000"/>
<path d="M1293.5 190.70000000000002Q1300.3 181.3 1307.3 190.70000000000002" fill="none" stroke="#000" stroke-width="2.3" stroke-linecap="round"/>
<circle cx="1300.3" cy="404.3" r="16.7" fill="#fff" stroke="#000" stroke-width="2.7"/>
<circle cx="1295.6" cy="399.3" r="2.1" fill="#000"/><circle cx="1305.1" cy="399.3" r="2.1" fill="#000"/>
<path d="M1293.5 412.1Q1300.3 402.7 1307.3 412.1" fill="none" stroke="#000" stroke-width="2.3" stroke-linecap="round"/>
<circle cx="1562.9" cy="43.5" r="16.8" fill="#fff" stroke="#000" stroke-width="2.7"/>
<circle cx="1558.2" cy="38.5" r="2.1" fill="#000"/><circle cx="1567.7" cy="38.5" r="2.1" fill="#000"/>
<path d="M1556.1000000000001 51.3Q1562.9 41.9 1569.9 51.3" fill="none" stroke="#000" stroke-width="2.3" stroke-linecap="round"/>
<path d="M777.0 101.8H845.7" stroke="#e1627a" stroke-width="3.2" stroke-linecap="round"/>
<path d="M848.2 102.7L914.2 143.9" stroke="#e1627a" stroke-width="3.1" stroke-dasharray="8.5 3.8" fill="none"/>
<path d="M916.5 144.5H985.2" stroke="#e1627a" stroke-width="3.2" stroke-linecap="round"/>
<path d="M987.7 145.4L1053.6 187.7" stroke="#e1627a" stroke-width="3.1" stroke-dasharray="8.5 3.8" fill="none"/>
<path d="M1055.9 188.4H1124.6" stroke="#e1627a" stroke-width="3.2" stroke-linecap="round"/>
<path d="M1127.1 188.9L1193.0 214.7" stroke="#e1627a" stroke-width="3.1" stroke-dasharray="8.5 3.8" fill="none"/>
<path d="M1195.3 215.1H1264.0" stroke="#e1627a" stroke-width="3.2" stroke-linecap="round"/>
<path d="M1266.5 214.9L1332.5 207.3" stroke="#e1627a" stroke-width="3.1" stroke-dasharray="8.5 3.8" fill="none"/>
<path d="M1334.8 207.2H1403.5" stroke="#e1627a" stroke-width="3.2" stroke-linecap="round"/>
<path d="M1406.0 207.3L1472.0 213.9" stroke="#e1627a" stroke-width="3.1" stroke-dasharray="8.5 3.8" fill="none"/>
<path d="M1474.2 214H1543.0" stroke="#e1627a" stroke-width="3.2" stroke-linecap="round"/>
<path d="M1545.5 213.9L1611.4 206.8" stroke="#e1627a" stroke-width="3.1" stroke-dasharray="8.5 3.8" fill="none"/>
<path d="M1613.7 206.7H1682.4" stroke="#e1627a" stroke-width="3.2" stroke-linecap="round"/>
<path d="M1684.9 207.9L1750.8 267.4" stroke="#e1627a" stroke-width="3.1" stroke-dasharray="8.5 3.8" fill="none"/>
<path d="M1753.1 268.3H1821.8" stroke="#e1627a" stroke-width="3.2" stroke-linecap="round"/>
<path d="M1824.3 268.3L1890.3 268.3" stroke="#e1627a" stroke-width="3.1" stroke-dasharray="8.5 3.8" fill="none"/>
<path d="M1892.6 268.3H1961.3" stroke="#e1627a" stroke-width="3.2" stroke-linecap="round"/>
<path d="M777.0 322H845.7" stroke="#2a7399" stroke-width="3.2" stroke-linecap="round"/>
<path d="M848.2 322.3L914.2 336.2" stroke="#2a7399" stroke-width="3.1" stroke-dasharray="8.5 3.8" fill="none"/>
<path d="M916.5 336.4H985.2" stroke="#2a7399" stroke-width="3.2" stroke-linecap="round"/>
<path d="M987.7 337.3L1053.6 380.1" stroke="#2a7399" stroke-width="3.1" stroke-dasharray="8.5 3.8" fill="none"/>
<path d="M1055.9 380.8H1124.6" stroke="#2a7399" stroke-width="3.2" stroke-linecap="round"/>
<path d="M1127.1 381.8L1193.0 431.6" stroke="#2a7399" stroke-width="3.1" stroke-dasharray="8.5 3.8" fill="none"/>
<path d="M1195.3 432.4H1264.0" stroke="#2a7399" stroke-width="3.2" stroke-linecap="round"/>
<path d="M1266.5 432.3L1332.5 428.5" stroke="#2a7399" stroke-width="3.1" stroke-dasharray="8.5 3.8" fill="none"/>
<path d="M1334.8 428.4H1403.5" stroke="#2a7399" stroke-width="3.2" stroke-linecap="round"/>
<path d="M1406.0 428.6L1472.0 436.6" stroke="#2a7399" stroke-width="3.1" stroke-dasharray="8.5 3.8" fill="none"/>
<path d="M1474.2 436.7H1543.0" stroke="#2a7399" stroke-width="3.2" stroke-linecap="round"/>
<path d="M1545.5 436.6L1611.4 433.6" stroke="#2a7399" stroke-width="3.1" stroke-dasharray="8.5 3.8" fill="none"/>
<path d="M1613.7 433.6H1682.4" stroke="#2a7399" stroke-width="3.2" stroke-linecap="round"/>
<path d="M1684.9 434.7L1750.8 486.0" stroke="#2a7399" stroke-width="3.1" stroke-dasharray="8.5 3.8" fill="none"/>
<path d="M1753.1 486.8H1821.8" stroke="#2a7399" stroke-width="3.2" stroke-linecap="round"/>
<path d="M1824.3 486.9L1890.3 491.0" stroke="#2a7399" stroke-width="3.1" stroke-dasharray="8.5 3.8" fill="none"/>
<path d="M1892.6 491.1H1961.3" stroke="#2a7399" stroke-width="3.2" stroke-linecap="round"/>
<circle cx="767.5" cy="584.5" r="9.4" fill="url(#lRu)"/>
<text transform="translate(784.0 595.5) scale(1 1.04)" font-size="34" fill="#000" text-anchor="start">Ru</text>
<circle cx="888" cy="584.5" r="9.4" fill="url(#lW)"/>
<text transform="translate(904.5 595.5) scale(1 1.04)" font-size="34" fill="#000" text-anchor="start">W</text>
<circle cx="997.5" cy="584.5" r="9.4" fill="url(#lO)"/>
<text transform="translate(1014.0 595.5) scale(1 1.04)" font-size="34" fill="#000" text-anchor="start">O</text>
<circle cx="1103.5" cy="584.5" r="9.4" fill="url(#lN)"/>
<text transform="translate(1119.0 595.5) scale(1 1.04)" font-size="34" fill="#000" text-anchor="start">N</text>
<circle cx="1214.7" cy="584.5" r="9.4" fill="url(#lH)"/>
<text transform="translate(1230.5 595.5) scale(1 1.04)" font-size="34" fill="#000" text-anchor="start">H</text>
<g>
<circle cx="784.9" cy="194.6" r="7.2" fill="url(#gRu)"/>
<circle cx="802.9" cy="194.6" r="7.2" fill="url(#gRu)"/>
<circle cx="820.8" cy="194.6" r="7.2" fill="url(#gRu)"/>
<circle cx="838.7" cy="194.6" r="7.2" fill="url(#gRu)"/>
<rect x="775.8" y="186.5" width="72.1" height="17.3" fill="url(#fadeDown)"/>
</g>
<circle cx="784.9" cy="165.7" r="7.2" fill="url(#gRu)"/>
<circle cx="802.9" cy="165.7" r="7.2" fill="url(#gRu)"/>
<circle cx="820.8" cy="165.7" r="7.2" fill="url(#gRu)"/>
<circle cx="838.7" cy="165.7" r="7.2" fill="url(#gRu)"/>
<path d="M792.7 128.8L792.2 121.9" stroke="#72ec6f" stroke-width="2.6" fill="none"/>
<path d="M792.2 121.9L791.7 115.0" stroke="#bbbfdd" stroke-width="2.6" fill="none"/>
<path d="M792.7 128.8L786.2 132.6" stroke="#72ec6f" stroke-width="2.6" fill="none"/>
<path d="M786.2 132.6L779.8 136.4" stroke="#bbbfdd" stroke-width="2.6" fill="none"/>
<path d="M792.7 128.8L800.0 132.1" stroke="#72ec6f" stroke-width="2.6" fill="none"/>
<path d="M800.0 132.1L807.3 135.3" stroke="#bbbfdd" stroke-width="2.6" fill="none"/>
<circle cx="791.7" cy="115.0" r="3.3" fill="url(#gO)"/>
<circle cx="779.8" cy="136.4" r="3.3" fill="url(#gO)"/>
<circle cx="807.3" cy="135.3" r="3.3" fill="url(#gO)"/>
<circle cx="792.7" cy="128.8" r="3.9" fill="url(#gN)"/>
<g>
<circle cx="922.6" cy="231.1" r="7.2" fill="url(#gRu)"/>
<circle cx="940.1" cy="231.1" r="7.2" fill="url(#gRu)"/>
<circle cx="958.0" cy="231.1" r="7.2" fill="url(#gRu)"/>
<circle cx="975.8" cy="231.1" r="7.2" fill="url(#gRu)"/>
<rect x="913.5" y="223.0" width="71.5" height="17.3" fill="url(#fadeDown)"/>
</g>
<circle cx="922.6" cy="201.4" r="7.2" fill="url(#gRu)" opacity="0.6"/>
<path d="M922.1 182.0L924.2 193.8" stroke="#bbbfdd" stroke-width="2.6" fill="none"/>
<path d="M924.2 193.8L926.3 205.6" stroke="#d6a1aa" stroke-width="2.6" fill="none"/>
<path d="M952.1 178.6L955.0 190.3" stroke="#bbbfdd" stroke-width="2.6" fill="none"/>
<path d="M955.0 190.3L958.0 202.0" stroke="#d6a1aa" stroke-width="2.6" fill="none"/>
<circle cx="940.1" cy="202.0" r="7.2" fill="url(#gRu)"/>
<circle cx="958.0" cy="202.0" r="7.2" fill="url(#gRu)"/>
<circle cx="975.8" cy="202.4" r="7.2" fill="url(#gRu)" opacity="0.85"/>
<circle cx="926.3" cy="205.6" r="7.2" fill="url(#gRu)"/>
<path d="M935.8 172.3L934.9 165.0" stroke="#72ec6f" stroke-width="2.6" fill="none"/>
<path d="M934.9 165.0L934.0 157.7" stroke="#bbbfdd" stroke-width="2.6" fill="none"/>
<path d="M935.8 172.3L929.0 177.2" stroke="#72ec6f" stroke-width="2.6" fill="none"/>
<path d="M929.0 177.2L922.1 182.0" stroke="#bbbfdd" stroke-width="2.6" fill="none"/>
<path d="M935.8 172.3L944.0 175.4" stroke="#72ec6f" stroke-width="2.6" fill="none"/>
<path d="M944.0 175.4L952.1 178.6" stroke="#bbbfdd" stroke-width="2.6" fill="none"/>
<circle cx="934.0" cy="157.7" r="3.3" fill="url(#gO)"/>
<circle cx="922.1" cy="182.0" r="3.3" fill="url(#gO)"/>
<circle cx="952.1" cy="178.6" r="3.3" fill="url(#gO)"/>
<circle cx="935.8" cy="172.3" r="3.9" fill="url(#gN)"/>
<g>
<circle cx="1063.4" cy="266.8" r="7.2" fill="url(#gRu)"/>
<circle cx="1081.7" cy="266.8" r="7.2" fill="url(#gRu)"/>
<circle cx="1100.1" cy="266.8" r="7.2" fill="url(#gRu)"/>
<circle cx="1118.7" cy="266.8" r="7.2" fill="url(#gRu)"/>
<rect x="1054.2" y="258.7" width="73.6" height="17.3" fill="url(#fadeDown)"/>
</g>
<circle cx="1063.4" cy="235.6" r="7.2" fill="url(#gRu)" opacity="0.6"/>
<path d="M1065.0 214.3L1066.4 226.9" stroke="#bbbfdd" stroke-width="2.6" fill="none"/>
<path d="M1066.4 226.9L1067.8 239.4" stroke="#d6a1aa" stroke-width="2.6" fill="none"/>
<path d="M1095.4 212.8L1098.2 224.9" stroke="#bbbfdd" stroke-width="2.6" fill="none"/>
<path d="M1098.2 224.9L1101.1 236.9" stroke="#d6a1aa" stroke-width="2.6" fill="none"/>
<circle cx="1082.4" cy="236.6" r="7.2" fill="url(#gRu)"/>
<circle cx="1101.1" cy="236.9" r="7.2" fill="url(#gRu)"/>
<circle cx="1119.1" cy="237.1" r="7.2" fill="url(#gRu)" opacity="0.85"/>
<circle cx="1067.8" cy="239.4" r="7.2" fill="url(#gRu)"/>
<path d="M1079.6 204.8L1072.3 209.6" stroke="#b9f0b6" stroke-width="2.6" fill="none"/>
<path d="M1072.3 209.6L1065.0 214.3" stroke="#bbbfdd" stroke-width="2.6" fill="none"/>
<path d="M1079.6 204.8L1087.5 208.8" stroke="#b9f0b6" stroke-width="2.6" fill="none"/>
<path d="M1087.5 208.8L1095.4 212.8" stroke="#bbbfdd" stroke-width="2.6" fill="none"/>
<circle cx="1065.0" cy="214.3" r="3.4" fill="url(#gO)"/>
<circle cx="1095.4" cy="212.8" r="3.4" fill="url(#gO)"/>
<circle cx="1079.6" cy="204.8" r="3.7" fill="url(#gN)" opacity="0.45"/>
<g>
<circle cx="1202.7" cy="292.4" r="7.2" fill="url(#gRu)"/>
<circle cx="1220.9" cy="292.4" r="7.2" fill="url(#gRu)"/>
<circle cx="1239.2" cy="292.4" r="7.2" fill="url(#gRu)"/>
<circle cx="1257.0" cy="292.4" r="7.2" fill="url(#gRu)"/>
<rect x="1193.5" y="284.3" width="72.6" height="17.3" fill="url(#fadeDown)"/>
</g>
<circle cx="1202.3" cy="261.2" r="7.2" fill="url(#gRu)" opacity="0.6"/>
<path d="M1220.9 243.7L1215.0 252.4" stroke="#72ec6f" stroke-width="2.6" fill="none"/>
<path d="M1215.0 252.4L1206.1 265.4" stroke="#d6a1aa" stroke-width="2.6" fill="none"/>
<path d="M1220.9 243.7L1228.3 251.2" stroke="#72ec6f" stroke-width="2.6" fill="none"/>
<path d="M1228.3 251.2L1239.5 262.5" stroke="#d6a1aa" stroke-width="2.6" fill="none"/>
<circle cx="1221.3" cy="262.2" r="7.2" fill="url(#gRu)"/>
<circle cx="1239.5" cy="262.5" r="7.2" fill="url(#gRu)"/>
<circle cx="1257.4" cy="262.7" r="7.2" fill="url(#gRu)" opacity="0.7"/>
<circle cx="1206.1" cy="265.4" r="7.2" fill="url(#gRu)"/>
<path d="M1220.9 243.7L1220.3 235.3" stroke="#72ec6f" stroke-width="2.6" fill="none"/>
<path d="M1220.3 235.3L1219.8 227.0" stroke="#bbbfdd" stroke-width="2.6" fill="none"/>
<circle cx="1219.8" cy="227.0" r="3.6" fill="url(#gO)" opacity="0.8"/>
<circle cx="1220.9" cy="243.7" r="3.9" fill="url(#gN)"/>
<g>
<circle cx="1344.8" cy="273.4" r="7.2" fill="url(#gRu)"/>
<circle cx="1362.9" cy="273.4" r="7.2" fill="url(#gRu)"/>
<circle cx="1380.9" cy="273.4" r="7.2" fill="url(#gRu)"/>
<circle cx="1398.6" cy="273.4" r="7.2" fill="url(#gRu)"/>
<rect x="1335.6" y="265.3" width="72.1" height="17.3" fill="url(#fadeDown)"/>
</g>
<circle cx="1344.4" cy="243.2" r="7.2" fill="url(#gRu)" opacity="0.85"/>
<path d="M1326.4 235.2L1334.9 239.9" stroke="#72ec6f" stroke-width="2.6" fill="none"/>
<path d="M1334.9 239.9L1347.7 247.0" stroke="#d6a1aa" stroke-width="2.6" fill="none"/>
<circle cx="1363.2" cy="244.1" r="7.2" fill="url(#gRu)"/>
<circle cx="1380.9" cy="244.1" r="7.2" fill="url(#gRu)"/>
<circle cx="1399.0" cy="244.5" r="7.2" fill="url(#gRu)" opacity="0.85"/>
<circle cx="1347.7" cy="247.0" r="7.2" fill="url(#gRu)"/>
<path d="M1326.4 235.2L1325.7 229.8" stroke="#72ec6f" stroke-width="2.4" fill="none"/>
<path d="M1325.7 229.8L1324.9 224.5" stroke="#bbbfdd" stroke-width="2.4" fill="none"/>
<path d="M1326.4 235.2L1320.6 236.5" stroke="#72ec6f" stroke-width="2.2" fill="none"/>
<path d="M1320.6 236.5L1314.8 237.8" stroke="#e6ec74" stroke-width="2.2" fill="none"/>
<circle cx="1314.8" cy="237.8" r="2.2" fill="url(#gH)" opacity="0.8"/>
<circle cx="1324.9" cy="224.5" r="3.5" fill="url(#gO)"/>
<circle cx="1326.4" cy="235.2" r="3.7" fill="url(#gN)"/>
<g>
<circle cx="1486.0" cy="287.1" r="7.2" fill="url(#gRu)"/>
<circle cx="1502.9" cy="287.1" r="7.2" fill="url(#gRu)"/>
<circle cx="1520.0" cy="287.1" r="7.2" fill="url(#gRu)"/>
<circle cx="1536.7" cy="287.1" r="7.2" fill="url(#gRu)"/>
<rect x="1476.8" y="279.0" width="69.0" height="17.3" fill="url(#fadeDown)"/>
</g>
<circle cx="1486.4" cy="258.9" r="7.2" fill="url(#gRu)" opacity="0.85"/>
<path d="M1470.2 247.9L1477.4 253.8" stroke="#72ec6f" stroke-width="2.6" fill="none"/>
<path d="M1477.4 253.8L1488.3 262.7" stroke="#d6a1aa" stroke-width="2.6" fill="none"/>
<circle cx="1503.5" cy="259.3" r="7.2" fill="url(#gRu)"/>
<circle cx="1520.2" cy="259.3" r="7.2" fill="url(#gRu)"/>
<circle cx="1537.3" cy="259.7" r="7.2" fill="url(#gRu)" opacity="0.85"/>
<circle cx="1488.3" cy="262.7" r="7.2" fill="url(#gRu)"/>
<path d="M1470.2 247.9L1470.4 240.0" stroke="#72ec6f" stroke-width="2.4" fill="none"/>
<path d="M1470.4 240.0L1470.6 232.1" stroke="#bbbfdd" stroke-width="2.4" fill="none"/>
<path d="M1470.6 232.1L1476.6 230.3" stroke="#bbbfdd" stroke-width="2.0" fill="none"/>
<path d="M1476.6 230.3L1482.6 228.5" stroke="#e6ec74" stroke-width="2.0" fill="none"/>
<path d="M1470.2 247.9L1464.1 249.5" stroke="#72ec6f" stroke-width="2.2" fill="none"/>
<path d="M1464.1 249.5L1457.9 251.1" stroke="#e6ec74" stroke-width="2.2" fill="none"/>
<circle cx="1482.6" cy="228.5" r="2.1" fill="url(#gH)" opacity="0.8"/>
<circle cx="1457.9" cy="251.1" r="2.2" fill="url(#gH)" opacity="0.8"/>
<circle cx="1470.6" cy="232.1" r="3.5" fill="url(#gO)"/>
<circle cx="1470.2" cy="247.9" r="3.7" fill="url(#gN)"/>
<g>
<circle cx="1630.3" cy="279.2" r="7.2" fill="url(#gRu)"/>
<circle cx="1648.3" cy="279.2" r="7.2" fill="url(#gRu)"/>
<circle cx="1666.0" cy="279.2" r="7.2" fill="url(#gRu)"/>
<circle cx="1684.0" cy="279.2" r="7.2" fill="url(#gRu)"/>
<rect x="1621.1" y="271.1" width="72.0" height="17.3" fill="url(#fadeDown)"/>
</g>
<circle cx="1630.9" cy="248.9" r="7.2" fill="url(#gRu)" opacity="0.85"/>
<path d="M1609.4 246.6L1619.1 249.2" stroke="#72ec6f" stroke-width="2.6" fill="none"/>
<path d="M1619.1 249.2L1633.7 253.1" stroke="#d6a1aa" stroke-width="2.6" fill="none"/>
<circle cx="1648.9" cy="249.9" r="7.2" fill="url(#gRu)"/>
<circle cx="1666.6" cy="250.2" r="7.2" fill="url(#gRu)"/>
<circle cx="1684.4" cy="250.4" r="7.2" fill="url(#gRu)" opacity="0.7"/>
<circle cx="1633.7" cy="253.1" r="7.2" fill="url(#gRu)"/>
<path d="M1609.4 246.6L1606.3 237.3" stroke="#72ec6f" stroke-width="2.4" fill="none"/>
<path d="M1606.3 237.3L1603.3 228.0" stroke="#bbbfdd" stroke-width="2.4" fill="none"/>
<path d="M1603.3 228.0L1607.8 224.4" stroke="#bbbfdd" stroke-width="1.8" fill="none"/>
<path d="M1607.8 224.4L1612.4 220.8" stroke="#e6ec74" stroke-width="1.8" fill="none"/>
<path d="M1609.4 246.6L1604.2 249.3" stroke="#72ec6f" stroke-width="2.0" fill="none"/>
<path d="M1604.2 249.3L1599.1 252.1" stroke="#e6ec74" stroke-width="2.0" fill="none"/>
<path d="M1609.4 246.6L1609.5 249.2" stroke="#72ec6f" stroke-width="2.0" fill="none"/>
<path d="M1609.5 249.2L1609.6 251.8" stroke="#e6ec74" stroke-width="2.0" fill="none"/>
<circle cx="1612.4" cy="220.8" r="2.0" fill="url(#gH)" opacity="0.6"/>
<circle cx="1603.3" cy="228.0" r="3.7" fill="url(#gO)" opacity="0.75"/>
<circle cx="1599.1" cy="252.1" r="2.2" fill="url(#gH)" opacity="0.85"/>
<circle cx="1609.4" cy="246.6" r="3.8" fill="url(#gN)"/>
<circle cx="1609.6" cy="251.8" r="2.1" fill="url(#gH)"/>
<g>
<circle cx="1767.3" cy="323.8" r="7.2" fill="url(#gRu)"/>
<circle cx="1785.1" cy="323.8" r="7.2" fill="url(#gRu)"/>
<circle cx="1803.2" cy="323.8" r="7.2" fill="url(#gRu)"/>
<circle cx="1820.9" cy="323.8" r="7.2" fill="url(#gRu)"/>
<rect x="1758.1" y="315.7" width="71.9" height="17.3" fill="url(#fadeDown)"/>
</g>
<circle cx="1766.7" cy="294.1" r="7.2" fill="url(#gRu)" opacity="0.85"/>
<path d="M1750.6 284.4L1758.2 290.1" stroke="#72ec6f" stroke-width="2.6" fill="none"/>
<path d="M1758.2 290.1L1769.6 298.7" stroke="#d6a1aa" stroke-width="2.6" fill="none"/>
<circle cx="1784.8" cy="294.5" r="7.2" fill="url(#gRu)"/>
<circle cx="1802.8" cy="294.5" r="7.2" fill="url(#gRu)"/>
<circle cx="1820.9" cy="294.1" r="7.2" fill="url(#gRu)" opacity="0.9"/>
<circle cx="1769.6" cy="298.7" r="7.2" fill="url(#gRu)"/>
<path d="M1750.6 284.4L1744.9 283.8" stroke="#72ec6f" stroke-width="2.0" fill="none"/>
<path d="M1744.9 283.8L1739.2 283.1" stroke="#e6ec74" stroke-width="2.0" fill="none"/>
<circle cx="1739.2" cy="283.1" r="2.1" fill="url(#gH)" opacity="0.85"/>
<circle cx="1750.6" cy="284.4" r="3.7" fill="url(#gN)"/>
<circle cx="1751.1" cy="278.9" r="2.2" fill="url(#gH)"/>
<g>
<circle cx="1903.5" cy="328.0" r="7.2" fill="url(#gRu)"/>
<circle cx="1921.6" cy="328.0" r="7.2" fill="url(#gRu)"/>
<circle cx="1939.6" cy="328.0" r="7.2" fill="url(#gRu)"/>
<circle cx="1957.7" cy="328.0" r="7.2" fill="url(#gRu)"/>
<rect x="1894.3" y="319.9" width="72.5" height="17.3" fill="url(#fadeDown)"/>
</g>
<circle cx="1904.1" cy="298.3" r="7.2" fill="url(#gRu)" opacity="0.85"/>
<path d="M1883.6 288.8L1892.8 294.5" stroke="#72ec6f" stroke-width="2.6" fill="none"/>
<path d="M1892.8 294.5L1906.7 303.1" stroke="#d6a1aa" stroke-width="2.6" fill="none"/>
<circle cx="1922.1" cy="299.3" r="7.2" fill="url(#gRu)"/>
<circle cx="1940.0" cy="299.6" r="7.2" fill="url(#gRu)"/>
<circle cx="1958.0" cy="299.6" r="7.2" fill="url(#gRu)" opacity="0.7"/>
<circle cx="1906.7" cy="303.1" r="7.2" fill="url(#gRu)"/>
<path d="M1883.6 288.8L1884.2 282.1" stroke="#72ec6f" stroke-width="2.0" fill="none"/>
<path d="M1884.2 282.1L1884.7 275.5" stroke="#e6ec74" stroke-width="2.0" fill="none"/>
<path d="M1883.6 288.8L1878.0 291.0" stroke="#72ec6f" stroke-width="2.0" fill="none"/>
<path d="M1878.0 291.0L1872.5 293.2" stroke="#e6ec74" stroke-width="2.0" fill="none"/>
<circle cx="1884.7" cy="275.5" r="1.9" fill="url(#gH)" opacity="0.8"/>
<circle cx="1872.5" cy="293.2" r="2.1" fill="url(#gH)" opacity="0.85"/>
<circle cx="1883.6" cy="288.8" r="3.8" fill="url(#gN)"/>
<circle cx="1883.2" cy="292.8" r="2.0" fill="url(#gH)"/>
<circle cx="780.1" cy="398.0" r="7.5" fill="url(#gRuF)"/>
<circle cx="798.0" cy="398.0" r="7.5" fill="url(#gRuF)"/>
<circle cx="815.8" cy="398.0" r="7.5" fill="url(#gRuF)"/>
<circle cx="833.5" cy="398.0" r="7.5" fill="url(#gRuF)"/>
<path d="M778.3 432.1L775.4 439.1" stroke="#dba4ad" stroke-width="2.5" fill="none"/>
<path d="M775.4 439.1L772.5 446.1" stroke="#bbbfdd" stroke-width="2.5" fill="none"/>
<path d="M798.4 433.2L799.5 440.7" stroke="#dba4ad" stroke-width="1.0" fill="none"/>
<path d="M799.5 440.7L800.6 448.2" stroke="#bbbfdd" stroke-width="1.0" fill="none"/>
<path d="M800.4 433.0L801.5 440.5" stroke="#dba4ad" stroke-width="1.0" fill="none"/>
<path d="M801.5 440.5L802.6 448.0" stroke="#bbbfdd" stroke-width="1.0" fill="none"/>
<path d="M811.5 432.6L807.4 440.1" stroke="#dba4ad" stroke-width="1.0" fill="none"/>
<path d="M807.4 440.1L803.2 447.6" stroke="#bbbfdd" stroke-width="1.0" fill="none"/>
<path d="M813.3 433.6L809.1 441.1" stroke="#dba4ad" stroke-width="1.0" fill="none"/>
<path d="M809.1 441.1L805.0 448.6" stroke="#bbbfdd" stroke-width="1.0" fill="none"/>
<path d="M834.5 433.1L835.1 440.6" stroke="#dba4ad" stroke-width="2.5" fill="none"/>
<path d="M835.1 440.6L835.8 448.1" stroke="#bbbfdd" stroke-width="2.5" fill="none"/>
<path d="M799.2 450.5L791.3 451.5" stroke="#c9cbe3" stroke-width="1.1" fill="none"/>
<path d="M791.3 451.5L783.5 452.4" stroke="#5fd6e2" stroke-width="1.1" fill="none"/>
<path d="M799.4 452.5L791.6 453.4" stroke="#c9cbe3" stroke-width="1.1" fill="none"/>
<path d="M791.6 453.4L783.7 454.4" stroke="#5fd6e2" stroke-width="1.1" fill="none"/>
<path d="M838.9 452.7L847.2 453.7" stroke="#c9cbe3" stroke-width="1.1" fill="none"/>
<path d="M847.2 453.7L855.5 454.7" stroke="#5fd6e2" stroke-width="1.1" fill="none"/>
<path d="M839.1 450.7L847.4 451.7" stroke="#c9cbe3" stroke-width="1.1" fill="none"/>
<path d="M847.4 451.7L855.7 452.7" stroke="#5fd6e2" stroke-width="1.1" fill="none"/>
<circle cx="774.9" cy="456.6" r="10.5" fill="url(#gHalo)"/>
<path d="M777.9 455.1l-15.0 -0.5M777.9 456.6l-14.0 2.5" stroke="#8fe3ec" stroke-width="2.6" opacity="0.13" fill="none"/>
<circle cx="772.7" cy="452.3" r="5.6" fill="url(#gW)" opacity="0.9"/>
<circle cx="777.9" cy="455.1" r="6.2" fill="url(#gW)" opacity="0.95"/>
<circle cx="769.9" cy="451.8" r="3.6" fill="url(#gPale)"/>
<rect x="763.9" y="454.1" width="28.0" height="10.0" fill="url(#fadeW)"/>
<circle cx="863.5" cy="456.6" r="10.5" fill="url(#gHalo)"/>
<path d="M860.5 455.1l15.0 -0.5M860.5 456.6l14.0 2.5" stroke="#8fe3ec" stroke-width="2.6" opacity="0.13" fill="none"/>
<circle cx="866.3" cy="451.4" r="5.3" fill="url(#gW)" opacity="0.9"/>
<circle cx="860.5" cy="455.1" r="6.2" fill="url(#gW)" opacity="0.95"/>
<circle cx="868.2" cy="451.5" r="3.6" fill="url(#gPale)"/>
<rect x="846.5" y="454.1" width="28.0" height="10.0" fill="url(#fadeW)"/>
<circle cx="780.1" cy="427.1" r="7.2" fill="url(#gRu)"/>
<circle cx="798.0" cy="427.1" r="7.2" fill="url(#gRu)"/>
<circle cx="815.8" cy="427.1" r="7.2" fill="url(#gRu)"/>
<circle cx="833.5" cy="427.1" r="7.2" fill="url(#gRu)"/>
<circle cx="802.3" cy="451.1" r="3.9" fill="url(#gO)"/>
<circle cx="836.0" cy="451.1" r="3.9" fill="url(#gO)"/>
<path d="M791.7 354.3L791.2 347.5" stroke="#72ec6f" stroke-width="2.6" fill="none"/>
<path d="M791.2 347.5L790.7 340.7" stroke="#bbbfdd" stroke-width="2.6" fill="none"/>
<path d="M791.7 354.3L785.3 358.1" stroke="#72ec6f" stroke-width="2.6" fill="none"/>
<path d="M785.3 358.1L778.9 361.9" stroke="#bbbfdd" stroke-width="2.6" fill="none"/>
<path d="M791.7 354.3L799.0 357.5" stroke="#72ec6f" stroke-width="2.6" fill="none"/>
<path d="M799.0 357.5L806.3 360.6" stroke="#bbbfdd" stroke-width="2.6" fill="none"/>
<circle cx="790.7" cy="340.7" r="3.3" fill="url(#gO)"/>
<circle cx="778.9" cy="361.9" r="3.3" fill="url(#gO)"/>
<circle cx="806.3" cy="360.6" r="3.3" fill="url(#gO)"/>
<circle cx="791.7" cy="354.3" r="3.9" fill="url(#gN)"/>
<circle cx="919.2" cy="361.2" r="7.5" fill="url(#gRuF)"/>
<circle cx="937.1" cy="361.2" r="7.5" fill="url(#gRuF)"/>
<circle cx="954.9" cy="361.2" r="7.5" fill="url(#gRuF)"/>
<circle cx="972.6" cy="361.2" r="7.5" fill="url(#gRuF)"/>
<path d="M917.4 394.7L914.5 401.7" stroke="#dba4ad" stroke-width="2.5" fill="none"/>
<path d="M914.5 401.7L911.6 408.7" stroke="#bbbfdd" stroke-width="2.5" fill="none"/>
<path d="M937.5 395.8L938.6 403.3" stroke="#dba4ad" stroke-width="1.0" fill="none"/>
<path d="M938.6 403.3L939.7 410.8" stroke="#bbbfdd" stroke-width="1.0" fill="none"/>
<path d="M939.5 395.6L940.6 403.1" stroke="#dba4ad" stroke-width="1.0" fill="none"/>
<path d="M940.6 403.1L941.7 410.6" stroke="#bbbfdd" stroke-width="1.0" fill="none"/>
<path d="M950.6 395.2L946.5 402.7" stroke="#dba4ad" stroke-width="1.0" fill="none"/>
<path d="M946.5 402.7L942.3 410.2" stroke="#bbbfdd" stroke-width="1.0" fill="none"/>
<path d="M952.4 396.2L948.2 403.7" stroke="#dba4ad" stroke-width="1.0" fill="none"/>
<path d="M948.2 403.7L944.1 411.2" stroke="#bbbfdd" stroke-width="1.0" fill="none"/>
<path d="M973.6 395.7L974.2 403.2" stroke="#dba4ad" stroke-width="2.5" fill="none"/>
<path d="M974.2 403.2L974.9 410.7" stroke="#bbbfdd" stroke-width="2.5" fill="none"/>
<path d="M938.3 413.1L930.4 414.1" stroke="#c9cbe3" stroke-width="1.1" fill="none"/>
<path d="M930.4 414.1L922.6 415.0" stroke="#5fd6e2" stroke-width="1.1" fill="none"/>
<path d="M938.5 415.1L930.7 416.0" stroke="#c9cbe3" stroke-width="1.1" fill="none"/>
<path d="M930.7 416.0L922.8 417.0" stroke="#5fd6e2" stroke-width="1.1" fill="none"/>
<path d="M978.0 415.3L986.3 416.3" stroke="#c9cbe3" stroke-width="1.1" fill="none"/>
<path d="M986.3 416.3L994.6 417.3" stroke="#5fd6e2" stroke-width="1.1" fill="none"/>
<path d="M978.2 413.3L986.5 414.3" stroke="#c9cbe3" stroke-width="1.1" fill="none"/>
<path d="M986.5 414.3L994.8 415.3" stroke="#5fd6e2" stroke-width="1.1" fill="none"/>
<circle cx="914.0" cy="419.2" r="10.5" fill="url(#gHalo)"/>
<path d="M917.0 417.7l-15.0 -0.5M917.0 419.2l-14.0 2.5" stroke="#8fe3ec" stroke-width="2.6" opacity="0.13" fill="none"/>
<circle cx="911.8" cy="414.9" r="5.6" fill="url(#gW)" opacity="0.9"/>
<circle cx="917.0" cy="417.7" r="6.2" fill="url(#gW)" opacity="0.95"/>
<circle cx="909.0" cy="414.4" r="3.6" fill="url(#gPale)"/>
<rect x="903.0" y="416.7" width="28.0" height="10.0" fill="url(#fadeW)"/>
<circle cx="1002.6" cy="419.2" r="10.5" fill="url(#gHalo)"/>
<path d="M999.6 417.7l15.0 -0.5M999.6 419.2l14.0 2.5" stroke="#8fe3ec" stroke-width="2.6" opacity="0.13" fill="none"/>
<circle cx="1005.4" cy="414.0" r="5.3" fill="url(#gW)" opacity="0.9"/>
<circle cx="999.6" cy="417.7" r="6.2" fill="url(#gW)" opacity="0.95"/>
<circle cx="1007.3" cy="414.1" r="3.6" fill="url(#gPale)"/>
<rect x="985.6" y="416.7" width="28.0" height="10.0" fill="url(#fadeW)"/>
<circle cx="919.2" cy="389.7" r="7.2" fill="url(#gRu)"/>
<circle cx="937.1" cy="389.7" r="7.2" fill="url(#gRu)"/>
<circle cx="954.9" cy="389.7" r="7.2" fill="url(#gRu)"/>
<circle cx="972.6" cy="389.7" r="7.2" fill="url(#gRu)"/>
<circle cx="941.4" cy="413.7" r="3.9" fill="url(#gO)"/>
<circle cx="975.1" cy="413.7" r="3.9" fill="url(#gO)"/>
<path d="M951.7 381.5L944.4 381.5" stroke="#72ec6f" stroke-width="2.4" fill="none"/>
<path d="M944.4 381.5L937.1 381.5" stroke="#bbbfdd" stroke-width="2.4" fill="none"/>
<path d="M951.7 381.5L951.7 378.9" stroke="#72ec6f" stroke-width="2.4" fill="none"/>
<path d="M951.7 378.9L951.7 376.2" stroke="#bbbfdd" stroke-width="2.4" fill="none"/>
<path d="M951.7 381.5L959.3 383.7" stroke="#72ec6f" stroke-width="2.4" fill="none"/>
<path d="M959.3 383.7L966.9 385.9" stroke="#bbbfdd" stroke-width="2.4" fill="none"/>
<circle cx="937.1" cy="381.5" r="3.3" fill="url(#gO)"/>
<circle cx="966.9" cy="385.9" r="3.3" fill="url(#gO)"/>
<circle cx="951.7" cy="381.5" r="3.6" fill="url(#gN)"/>
<circle cx="951.7" cy="376.2" r="3.2" fill="url(#gO)"/>
<circle cx="1059.6" cy="400.8" r="7.5" fill="url(#gRuF)"/>
<circle cx="1077.8" cy="400.8" r="7.5" fill="url(#gRuF)"/>
<circle cx="1095.9" cy="400.8" r="7.5" fill="url(#gRuF)"/>
<circle cx="1114.0" cy="400.8" r="7.5" fill="url(#gRuF)"/>
<path d="M1057.8 435.3L1054.9 442.3" stroke="#dba4ad" stroke-width="2.5" fill="none"/>
<path d="M1054.9 442.3L1052.0 449.3" stroke="#bbbfdd" stroke-width="2.5" fill="none"/>
<path d="M1078.2 436.4L1079.2 443.9" stroke="#dba4ad" stroke-width="1.0" fill="none"/>
<path d="M1079.2 443.9L1080.1 451.4" stroke="#bbbfdd" stroke-width="1.0" fill="none"/>
<path d="M1080.2 436.2L1081.1 443.7" stroke="#dba4ad" stroke-width="1.0" fill="none"/>
<path d="M1081.1 443.7L1082.1 451.2" stroke="#bbbfdd" stroke-width="1.0" fill="none"/>
<path d="M1091.6 435.8L1087.2 443.3" stroke="#dba4ad" stroke-width="1.0" fill="none"/>
<path d="M1087.2 443.3L1082.7 450.8" stroke="#bbbfdd" stroke-width="1.0" fill="none"/>
<path d="M1093.4 436.8L1088.9 444.3" stroke="#dba4ad" stroke-width="1.0" fill="none"/>
<path d="M1088.9 444.3L1084.5 451.8" stroke="#bbbfdd" stroke-width="1.0" fill="none"/>
<path d="M1115.0 436.3L1115.2 443.8" stroke="#dba4ad" stroke-width="2.5" fill="none"/>
<path d="M1115.2 443.8L1115.3 451.3" stroke="#bbbfdd" stroke-width="2.5" fill="none"/>
<path d="M1078.7 453.7L1070.8 454.7" stroke="#c9cbe3" stroke-width="1.1" fill="none"/>
<path d="M1070.8 454.7L1063.0 455.6" stroke="#5fd6e2" stroke-width="1.1" fill="none"/>
<path d="M1078.9 455.7L1071.1 456.6" stroke="#c9cbe3" stroke-width="1.1" fill="none"/>
<path d="M1071.1 456.6L1063.2 457.6" stroke="#5fd6e2" stroke-width="1.1" fill="none"/>
<path d="M1118.4 455.9L1126.7 456.9" stroke="#c9cbe3" stroke-width="1.1" fill="none"/>
<path d="M1126.7 456.9L1135.0 457.9" stroke="#5fd6e2" stroke-width="1.1" fill="none"/>
<path d="M1118.6 453.9L1126.9 454.9" stroke="#c9cbe3" stroke-width="1.1" fill="none"/>
<path d="M1126.9 454.9L1135.2 455.9" stroke="#5fd6e2" stroke-width="1.1" fill="none"/>
<circle cx="1054.4" cy="459.8" r="10.5" fill="url(#gHalo)"/>
<path d="M1057.4 458.3l-15.0 -0.5M1057.4 459.8l-14.0 2.5" stroke="#8fe3ec" stroke-width="2.6" opacity="0.13" fill="none"/>
<circle cx="1052.2" cy="455.5" r="5.6" fill="url(#gW)" opacity="0.9"/>
<circle cx="1057.4" cy="458.3" r="6.2" fill="url(#gW)" opacity="0.95"/>
<circle cx="1049.4" cy="455.0" r="3.6" fill="url(#gPale)"/>
<rect x="1043.4" y="457.3" width="28.0" height="10.0" fill="url(#fadeW)"/>
<circle cx="1143.0" cy="459.8" r="10.5" fill="url(#gHalo)"/>
<path d="M1140.0 458.3l15.0 -0.5M1140.0 459.8l14.0 2.5" stroke="#8fe3ec" stroke-width="2.6" opacity="0.13" fill="none"/>
<circle cx="1145.8" cy="454.6" r="5.3" fill="url(#gW)" opacity="0.9"/>
<circle cx="1140.0" cy="458.3" r="6.2" fill="url(#gW)" opacity="0.95"/>
<circle cx="1147.7" cy="454.7" r="3.6" fill="url(#gPale)"/>
<rect x="1126.0" y="457.3" width="28.0" height="10.0" fill="url(#fadeW)"/>
<circle cx="1059.6" cy="430.3" r="7.2" fill="url(#gRu)"/>
<circle cx="1077.8" cy="430.3" r="7.2" fill="url(#gRu)"/>
<circle cx="1095.9" cy="430.3" r="7.2" fill="url(#gRu)"/>
<circle cx="1114.0" cy="430.3" r="7.2" fill="url(#gRu)"/>
<circle cx="1081.8" cy="454.3" r="3.9" fill="url(#gO)"/>
<circle cx="1115.5" cy="454.3" r="3.9" fill="url(#gO)"/>
<path d="M1093.2 421.0L1086.1 420.1" stroke="#72ec6f" stroke-width="2.4" fill="none"/>
<path d="M1086.1 420.1L1079.0 419.1" stroke="#bbbfdd" stroke-width="2.4" fill="none"/>
<path d="M1093.2 421.0L1100.8 422.9" stroke="#72ec6f" stroke-width="2.4" fill="none"/>
<path d="M1100.8 422.9L1108.4 424.8" stroke="#bbbfdd" stroke-width="2.4" fill="none"/>
<circle cx="1079.0" cy="419.1" r="3.3" fill="url(#gO)"/>
<circle cx="1108.4" cy="424.8" r="3.3" fill="url(#gO)"/>
<circle cx="1093.2" cy="421.0" r="3.6" fill="url(#gN)"/>
<circle cx="1203.3" cy="453.9" r="7.5" fill="url(#gRuF)"/>
<circle cx="1221.7" cy="453.9" r="7.5" fill="url(#gRuF)"/>
<circle cx="1239.6" cy="453.9" r="7.5" fill="url(#gRuF)"/>
<circle cx="1257.5" cy="453.9" r="7.5" fill="url(#gRuF)"/>
<path d="M1201.5 488.4L1198.6 495.4" stroke="#dba4ad" stroke-width="2.5" fill="none"/>
<path d="M1198.6 495.4L1195.7 502.4" stroke="#bbbfdd" stroke-width="2.5" fill="none"/>
<path d="M1222.1 489.5L1223.0 497.0" stroke="#dba4ad" stroke-width="1.0" fill="none"/>
<path d="M1223.0 497.0L1223.8 504.5" stroke="#bbbfdd" stroke-width="1.0" fill="none"/>
<path d="M1224.1 489.3L1224.9 496.8" stroke="#dba4ad" stroke-width="1.0" fill="none"/>
<path d="M1224.9 496.8L1225.8 504.3" stroke="#bbbfdd" stroke-width="1.0" fill="none"/>
<path d="M1235.3 488.9L1230.9 496.4" stroke="#dba4ad" stroke-width="1.0" fill="none"/>
<path d="M1230.9 496.4L1226.4 503.9" stroke="#bbbfdd" stroke-width="1.0" fill="none"/>
<path d="M1237.1 489.9L1232.6 497.4" stroke="#dba4ad" stroke-width="1.0" fill="none"/>
<path d="M1232.6 497.4L1228.2 504.9" stroke="#bbbfdd" stroke-width="1.0" fill="none"/>
<path d="M1258.5 489.4L1258.8 496.9" stroke="#dba4ad" stroke-width="2.5" fill="none"/>
<path d="M1258.8 496.9L1259.0 504.4" stroke="#bbbfdd" stroke-width="2.5" fill="none"/>
<path d="M1222.4 506.8L1214.5 507.8" stroke="#c9cbe3" stroke-width="1.1" fill="none"/>
<path d="M1214.5 507.8L1206.7 508.7" stroke="#5fd6e2" stroke-width="1.1" fill="none"/>
<path d="M1222.6 508.8L1214.8 509.7" stroke="#c9cbe3" stroke-width="1.1" fill="none"/>
<path d="M1214.8 509.7L1206.9 510.7" stroke="#5fd6e2" stroke-width="1.1" fill="none"/>
<path d="M1262.1 509.0L1270.4 510.0" stroke="#c9cbe3" stroke-width="1.1" fill="none"/>
<path d="M1270.4 510.0L1278.7 511.0" stroke="#5fd6e2" stroke-width="1.1" fill="none"/>
<path d="M1262.3 507.0L1270.6 508.0" stroke="#c9cbe3" stroke-width="1.1" fill="none"/>
<path d="M1270.6 508.0L1278.9 509.0" stroke="#5fd6e2" stroke-width="1.1" fill="none"/>
<circle cx="1198.1" cy="512.9" r="10.5" fill="url(#gHalo)"/>
<path d="M1201.1 511.4l-15.0 -0.5M1201.1 512.9l-14.0 2.5" stroke="#8fe3ec" stroke-width="2.6" opacity="0.13" fill="none"/>
<circle cx="1195.9" cy="508.6" r="5.6" fill="url(#gW)" opacity="0.9"/>
<circle cx="1201.1" cy="511.4" r="6.2" fill="url(#gW)" opacity="0.95"/>
<circle cx="1193.1" cy="508.1" r="3.6" fill="url(#gPale)"/>
<rect x="1187.1" y="510.4" width="28.0" height="10.0" fill="url(#fadeW)"/>
<circle cx="1286.7" cy="512.9" r="10.5" fill="url(#gHalo)"/>
<path d="M1283.7 511.4l15.0 -0.5M1283.7 512.9l14.0 2.5" stroke="#8fe3ec" stroke-width="2.6" opacity="0.13" fill="none"/>
<circle cx="1289.5" cy="507.7" r="5.3" fill="url(#gW)" opacity="0.9"/>
<circle cx="1283.7" cy="511.4" r="6.2" fill="url(#gW)" opacity="0.95"/>
<circle cx="1291.4" cy="507.8" r="3.6" fill="url(#gPale)"/>
<rect x="1269.7" y="510.4" width="28.0" height="10.0" fill="url(#fadeW)"/>
<circle cx="1203.3" cy="483.4" r="7.2" fill="url(#gRu)"/>
<circle cx="1221.7" cy="483.4" r="7.2" fill="url(#gRu)"/>
<circle cx="1239.6" cy="483.4" r="7.2" fill="url(#gRu)"/>
<circle cx="1257.5" cy="483.4" r="7.2" fill="url(#gRu)"/>
<circle cx="1225.5" cy="507.4" r="3.9" fill="url(#gO)"/>
<circle cx="1259.2" cy="507.4" r="3.9" fill="url(#gO)"/>
<path d="M1240.0 477.1L1235.2 478.8" stroke="#72ec6f" stroke-width="2.4" fill="none"/>
<path d="M1235.2 478.8L1230.3 480.4" stroke="#72ec6f" stroke-width="2.4" fill="none"/>
<path d="M1240.0 477.1L1244.7 478.8" stroke="#72ec6f" stroke-width="2.4" fill="none"/>
<path d="M1244.7 478.8L1249.3 480.4" stroke="#72ec6f" stroke-width="2.4" fill="none"/>
<circle cx="1240.0" cy="477.1" r="3.4" fill="url(#gN)"/>
<circle cx="1240.0" cy="472.0" r="3.5" fill="url(#gO)"/>
<circle cx="1339.7" cy="453.9" r="7.5" fill="url(#gRuF)"/>
<circle cx="1358.1" cy="453.9" r="7.5" fill="url(#gRuF)"/>
<circle cx="1376.2" cy="453.9" r="7.5" fill="url(#gRuF)"/>
<circle cx="1394.2" cy="453.9" r="7.5" fill="url(#gRuF)"/>
<path d="M1337.9 488.4L1335.0 495.4" stroke="#dba4ad" stroke-width="2.5" fill="none"/>
<path d="M1335.0 495.4L1332.1 502.4" stroke="#bbbfdd" stroke-width="2.5" fill="none"/>
<path d="M1358.5 489.5L1359.4 497.0" stroke="#dba4ad" stroke-width="1.0" fill="none"/>
<path d="M1359.4 497.0L1360.2 504.5" stroke="#bbbfdd" stroke-width="1.0" fill="none"/>
<path d="M1360.5 489.3L1361.3 496.8" stroke="#dba4ad" stroke-width="1.0" fill="none"/>
<path d="M1361.3 496.8L1362.2 504.3" stroke="#bbbfdd" stroke-width="1.0" fill="none"/>
<path d="M1371.9 488.9L1367.4 496.4" stroke="#dba4ad" stroke-width="1.0" fill="none"/>
<path d="M1367.4 496.4L1362.8 503.9" stroke="#bbbfdd" stroke-width="1.0" fill="none"/>
<path d="M1373.7 489.9L1369.1 497.4" stroke="#dba4ad" stroke-width="1.0" fill="none"/>
<path d="M1369.1 497.4L1364.6 504.9" stroke="#bbbfdd" stroke-width="1.0" fill="none"/>
<path d="M1395.2 489.4L1395.3 496.9" stroke="#dba4ad" stroke-width="2.5" fill="none"/>
<path d="M1395.3 496.9L1395.4 504.4" stroke="#bbbfdd" stroke-width="2.5" fill="none"/>
<path d="M1358.8 506.8L1350.9 507.8" stroke="#c9cbe3" stroke-width="1.1" fill="none"/>
<path d="M1350.9 507.8L1343.1 508.7" stroke="#5fd6e2" stroke-width="1.1" fill="none"/>
<path d="M1359.0 508.8L1351.2 509.7" stroke="#c9cbe3" stroke-width="1.1" fill="none"/>
<path d="M1351.2 509.7L1343.3 510.7" stroke="#5fd6e2" stroke-width="1.1" fill="none"/>
<path d="M1398.5 509.0L1406.8 510.0" stroke="#c9cbe3" stroke-width="1.1" fill="none"/>
<path d="M1406.8 510.0L1415.1 511.0" stroke="#5fd6e2" stroke-width="1.1" fill="none"/>
<path d="M1398.7 507.0L1407.0 508.0" stroke="#c9cbe3" stroke-width="1.1" fill="none"/>
<path d="M1407.0 508.0L1415.3 509.0" stroke="#5fd6e2" stroke-width="1.1" fill="none"/>
<circle cx="1334.5" cy="512.9" r="10.5" fill="url(#gHalo)"/>
<path d="M1337.5 511.4l-15.0 -0.5M1337.5 512.9l-14.0 2.5" stroke="#8fe3ec" stroke-width="2.6" opacity="0.13" fill="none"/>
<circle cx="1332.3" cy="508.6" r="5.6" fill="url(#gW)" opacity="0.9"/>
<circle cx="1337.5" cy="511.4" r="6.2" fill="url(#gW)" opacity="0.95"/>
<circle cx="1329.5" cy="508.1" r="3.6" fill="url(#gPale)"/>
<rect x="1323.5" y="510.4" width="28.0" height="10.0" fill="url(#fadeW)"/>
<circle cx="1423.1" cy="512.9" r="10.5" fill="url(#gHalo)"/>
<path d="M1420.1 511.4l15.0 -0.5M1420.1 512.9l14.0 2.5" stroke="#8fe3ec" stroke-width="2.6" opacity="0.13" fill="none"/>
<circle cx="1425.9" cy="507.7" r="5.3" fill="url(#gW)" opacity="0.9"/>
<circle cx="1420.1" cy="511.4" r="6.2" fill="url(#gW)" opacity="0.95"/>
<circle cx="1427.8" cy="507.8" r="3.6" fill="url(#gPale)"/>
<rect x="1406.1" y="510.4" width="28.0" height="10.0" fill="url(#fadeW)"/>
<circle cx="1339.7" cy="483.4" r="7.2" fill="url(#gRu)"/>
<circle cx="1358.1" cy="483.4" r="7.2" fill="url(#gRu)"/>
<circle cx="1376.2" cy="483.4" r="7.2" fill="url(#gRu)"/>
<circle cx="1394.2" cy="483.4" r="7.2" fill="url(#gRu)"/>
<circle cx="1361.9" cy="507.4" r="3.9" fill="url(#gO)"/>
<circle cx="1395.6" cy="507.4" r="3.9" fill="url(#gO)"/>
<path d="M1376.7 482.4L1372.2 482.4" stroke="#72ec6f" stroke-width="2.4" fill="none"/>
<path d="M1372.2 482.4L1367.7 482.4" stroke="#72ec6f" stroke-width="2.4" fill="none"/>
<path d="M1376.7 482.4L1381.2 482.9" stroke="#72ec6f" stroke-width="2.4" fill="none"/>
<path d="M1381.2 482.9L1385.7 483.4" stroke="#72ec6f" stroke-width="2.4" fill="none"/>
<path d="M1376.7 482.4L1382.5 475.1" stroke="#72ec6f" stroke-width="2.4" fill="none"/>
<path d="M1382.5 475.1L1388.2 467.8" stroke="#bbbfdd" stroke-width="2.4" fill="none"/>
<path d="M1376.7 482.4L1376.7 487.3" stroke="#72ec6f" stroke-width="2.0" fill="none"/>
<path d="M1376.7 487.3L1376.7 492.3" stroke="#e6ec74" stroke-width="2.0" fill="none"/>
<circle cx="1376.7" cy="492.3" r="2.0" fill="url(#gH)"/>
<circle cx="1388.2" cy="467.8" r="3.4" fill="url(#gO)"/>
<circle cx="1376.7" cy="482.4" r="3.8" fill="url(#gN)"/>
<circle cx="1479.1" cy="458.7" r="7.5" fill="url(#gRuF)"/>
<circle cx="1497.7" cy="458.7" r="7.5" fill="url(#gRuF)"/>
<circle cx="1515.8" cy="458.7" r="7.5" fill="url(#gRuF)"/>
<circle cx="1533.8" cy="458.7" r="7.5" fill="url(#gRuF)"/>
<path d="M1477.3 493.5L1474.4 500.5" stroke="#dba4ad" stroke-width="2.5" fill="none"/>
<path d="M1474.4 500.5L1471.5 507.5" stroke="#bbbfdd" stroke-width="2.5" fill="none"/>
<path d="M1498.1 494.6L1498.9 502.1" stroke="#dba4ad" stroke-width="1.0" fill="none"/>
<path d="M1498.9 502.1L1499.6 509.6" stroke="#bbbfdd" stroke-width="1.0" fill="none"/>
<path d="M1500.1 494.4L1500.8 501.9" stroke="#dba4ad" stroke-width="1.0" fill="none"/>
<path d="M1500.8 501.9L1501.6 509.4" stroke="#bbbfdd" stroke-width="1.0" fill="none"/>
<path d="M1511.6 494.0L1506.9 501.5" stroke="#dba4ad" stroke-width="1.0" fill="none"/>
<path d="M1506.9 501.5L1502.3 509.0" stroke="#bbbfdd" stroke-width="1.0" fill="none"/>
<path d="M1513.2 495.0L1508.6 502.5" stroke="#dba4ad" stroke-width="1.0" fill="none"/>
<path d="M1508.6 502.5L1503.9 510.0" stroke="#bbbfdd" stroke-width="1.0" fill="none"/>
<path d="M1534.8 494.5L1534.8 502.0" stroke="#dba4ad" stroke-width="2.5" fill="none"/>
<path d="M1534.8 502.0L1534.8 509.5" stroke="#bbbfdd" stroke-width="2.5" fill="none"/>
<path d="M1498.2 511.9L1490.3 512.9" stroke="#c9cbe3" stroke-width="1.1" fill="none"/>
<path d="M1490.3 512.9L1482.5 513.8" stroke="#5fd6e2" stroke-width="1.1" fill="none"/>
<path d="M1498.4 513.9L1490.6 514.8" stroke="#c9cbe3" stroke-width="1.1" fill="none"/>
<path d="M1490.6 514.8L1482.7 515.8" stroke="#5fd6e2" stroke-width="1.1" fill="none"/>
<path d="M1537.9 514.1L1546.2 515.1" stroke="#c9cbe3" stroke-width="1.1" fill="none"/>
<path d="M1546.2 515.1L1554.5 516.1" stroke="#5fd6e2" stroke-width="1.1" fill="none"/>
<path d="M1538.1 512.1L1546.4 513.1" stroke="#c9cbe3" stroke-width="1.1" fill="none"/>
<path d="M1546.4 513.1L1554.7 514.1" stroke="#5fd6e2" stroke-width="1.1" fill="none"/>
<circle cx="1473.9" cy="518.0" r="10.5" fill="url(#gHalo)"/>
<path d="M1476.9 516.5l-15.0 -0.5M1476.9 518.0l-14.0 2.5" stroke="#8fe3ec" stroke-width="2.6" opacity="0.13" fill="none"/>
<circle cx="1471.7" cy="513.7" r="5.6" fill="url(#gW)" opacity="0.9"/>
<circle cx="1476.9" cy="516.5" r="6.2" fill="url(#gW)" opacity="0.95"/>
<circle cx="1468.9" cy="513.2" r="3.6" fill="url(#gPale)"/>
<rect x="1462.9" y="515.5" width="28.0" height="10.0" fill="url(#fadeW)"/>
<circle cx="1562.5" cy="518.0" r="10.5" fill="url(#gHalo)"/>
<path d="M1559.5 516.5l15.0 -0.5M1559.5 518.0l14.0 2.5" stroke="#8fe3ec" stroke-width="2.6" opacity="0.13" fill="none"/>
<circle cx="1565.3" cy="512.8" r="5.3" fill="url(#gW)" opacity="0.9"/>
<circle cx="1559.5" cy="516.5" r="6.2" fill="url(#gW)" opacity="0.95"/>
<circle cx="1567.2" cy="512.9" r="3.6" fill="url(#gPale)"/>
<rect x="1545.5" y="515.5" width="28.0" height="10.0" fill="url(#fadeW)"/>
<circle cx="1479.1" cy="488.5" r="7.2" fill="url(#gRu)"/>
<circle cx="1497.7" cy="488.5" r="7.2" fill="url(#gRu)"/>
<circle cx="1515.8" cy="488.5" r="7.2" fill="url(#gRu)"/>
<circle cx="1533.8" cy="488.5" r="7.2" fill="url(#gRu)"/>
<circle cx="1501.3" cy="512.5" r="3.9" fill="url(#gO)"/>
<circle cx="1535.0" cy="512.5" r="3.9" fill="url(#gO)"/>
<path d="M1516.1 486.8L1511.6 486.9" stroke="#72ec6f" stroke-width="2.4" fill="none"/>
<path d="M1511.6 486.9L1507.1 487.0" stroke="#72ec6f" stroke-width="2.4" fill="none"/>
<path d="M1516.1 486.8L1520.6 487.1" stroke="#72ec6f" stroke-width="2.4" fill="none"/>
<path d="M1520.6 487.1L1525.1 487.5" stroke="#72ec6f" stroke-width="2.4" fill="none"/>
<path d="M1516.1 486.8L1516.9 479.2" stroke="#72ec6f" stroke-width="2.4" fill="none"/>
<path d="M1516.9 479.2L1517.7 471.6" stroke="#bbbfdd" stroke-width="2.4" fill="none"/>
<path d="M1517.7 471.6L1517.3 466.2" stroke="#bbbfdd" stroke-width="1.8" fill="none"/>
<path d="M1517.3 466.2L1516.9 460.9" stroke="#e6ec74" stroke-width="1.8" fill="none"/>
<path d="M1516.1 486.8L1515.6 492.5" stroke="#72ec6f" stroke-width="2.0" fill="none"/>
<path d="M1515.6 492.5L1515.2 498.2" stroke="#e6ec74" stroke-width="2.0" fill="none"/>
<circle cx="1516.9" cy="460.9" r="1.9" fill="url(#gH)" opacity="0.8"/>
<circle cx="1515.2" cy="498.2" r="2.0" fill="url(#gH)"/>
<circle cx="1517.7" cy="471.6" r="3.5" fill="url(#gO)"/>
<circle cx="1516.1" cy="486.8" r="3.8" fill="url(#gN)"/>
<circle cx="1614.8" cy="450.3" r="7.5" fill="url(#gRuF)"/>
<circle cx="1632.9" cy="450.3" r="7.5" fill="url(#gRuF)"/>
<circle cx="1650.3" cy="450.3" r="7.5" fill="url(#gRuF)"/>
<circle cx="1668.4" cy="450.3" r="7.5" fill="url(#gRuF)"/>
<path d="M1613.0 484.4L1610.1 491.4" stroke="#dba4ad" stroke-width="2.5" fill="none"/>
<path d="M1610.1 491.4L1607.2 498.4" stroke="#bbbfdd" stroke-width="2.5" fill="none"/>
<path d="M1633.3 485.5L1634.3 493.0" stroke="#dba4ad" stroke-width="1.0" fill="none"/>
<path d="M1634.3 493.0L1635.3 500.5" stroke="#bbbfdd" stroke-width="1.0" fill="none"/>
<path d="M1635.3 485.3L1636.3 492.8" stroke="#dba4ad" stroke-width="1.0" fill="none"/>
<path d="M1636.3 492.8L1637.3 500.3" stroke="#bbbfdd" stroke-width="1.0" fill="none"/>
<path d="M1646.0 484.9L1642.0 492.4" stroke="#dba4ad" stroke-width="1.0" fill="none"/>
<path d="M1642.0 492.4L1637.9 499.9" stroke="#bbbfdd" stroke-width="1.0" fill="none"/>
<path d="M1647.8 485.9L1643.7 493.4" stroke="#dba4ad" stroke-width="1.0" fill="none"/>
<path d="M1643.7 493.4L1639.7 500.9" stroke="#bbbfdd" stroke-width="1.0" fill="none"/>
<path d="M1669.4 485.4L1669.9 492.9" stroke="#dba4ad" stroke-width="2.5" fill="none"/>
<path d="M1669.9 492.9L1670.5 500.4" stroke="#bbbfdd" stroke-width="2.5" fill="none"/>
<path d="M1633.9 502.8L1626.0 503.8" stroke="#c9cbe3" stroke-width="1.1" fill="none"/>
<path d="M1626.0 503.8L1618.2 504.7" stroke="#5fd6e2" stroke-width="1.1" fill="none"/>
<path d="M1634.1 504.8L1626.3 505.7" stroke="#c9cbe3" stroke-width="1.1" fill="none"/>
<path d="M1626.3 505.7L1618.4 506.7" stroke="#5fd6e2" stroke-width="1.1" fill="none"/>
<path d="M1673.6 505.0L1681.9 506.0" stroke="#c9cbe3" stroke-width="1.1" fill="none"/>
<path d="M1681.9 506.0L1690.2 507.0" stroke="#5fd6e2" stroke-width="1.1" fill="none"/>
<path d="M1673.8 503.0L1682.1 504.0" stroke="#c9cbe3" stroke-width="1.1" fill="none"/>
<path d="M1682.1 504.0L1690.4 505.0" stroke="#5fd6e2" stroke-width="1.1" fill="none"/>
<circle cx="1609.6" cy="508.9" r="10.5" fill="url(#gHalo)"/>
<path d="M1612.6 507.4l-15.0 -0.5M1612.6 508.9l-14.0 2.5" stroke="#8fe3ec" stroke-width="2.6" opacity="0.13" fill="none"/>
<circle cx="1607.4" cy="504.6" r="5.6" fill="url(#gW)" opacity="0.9"/>
<circle cx="1612.6" cy="507.4" r="6.2" fill="url(#gW)" opacity="0.95"/>
<circle cx="1604.6" cy="504.1" r="3.6" fill="url(#gPale)"/>
<rect x="1598.6" y="506.4" width="28.0" height="10.0" fill="url(#fadeW)"/>
<circle cx="1698.2" cy="508.9" r="10.5" fill="url(#gHalo)"/>
<path d="M1695.2 507.4l15.0 -0.5M1695.2 508.9l14.0 2.5" stroke="#8fe3ec" stroke-width="2.6" opacity="0.13" fill="none"/>
<circle cx="1701.0" cy="503.7" r="5.3" fill="url(#gW)" opacity="0.9"/>
<circle cx="1695.2" cy="507.4" r="6.2" fill="url(#gW)" opacity="0.95"/>
<circle cx="1702.9" cy="503.8" r="3.6" fill="url(#gPale)"/>
<rect x="1681.2" y="506.4" width="28.0" height="10.0" fill="url(#fadeW)"/>
<circle cx="1614.8" cy="479.4" r="7.2" fill="url(#gRu)"/>
<circle cx="1632.9" cy="479.4" r="7.2" fill="url(#gRu)"/>
<circle cx="1650.3" cy="479.4" r="7.2" fill="url(#gRu)"/>
<circle cx="1668.4" cy="479.4" r="7.2" fill="url(#gRu)"/>
<circle cx="1637.0" cy="503.4" r="3.9" fill="url(#gO)"/>
<circle cx="1670.7" cy="503.4" r="3.9" fill="url(#gO)"/>
<path d="M1658.5 480.7L1658.4 472.1" stroke="#72ec6f" stroke-width="2.4" fill="none"/>
<path d="M1658.4 472.1L1658.3 463.6" stroke="#bbbfdd" stroke-width="2.4" fill="none"/>
<path d="M1658.3 463.6L1655.9 459.8" stroke="#bbbfdd" stroke-width="1.8" fill="none"/>
<path d="M1655.9 459.8L1653.6 456.0" stroke="#e6ec74" stroke-width="1.8" fill="none"/>
<path d="M1658.5 480.7L1652.0 483.5" stroke="#72ec6f" stroke-width="2.0" fill="none"/>
<path d="M1652.0 483.5L1645.6 486.4" stroke="#e6ec74" stroke-width="2.0" fill="none"/>
<path d="M1658.5 480.7L1662.0 485.2" stroke="#72ec6f" stroke-width="2.0" fill="none"/>
<path d="M1662.0 485.2L1665.5 489.7" stroke="#e6ec74" stroke-width="2.0" fill="none"/>
<circle cx="1653.6" cy="456.0" r="1.9" fill="url(#gH)" opacity="0.85"/>
<circle cx="1645.6" cy="486.4" r="2.1" fill="url(#gH)"/>
<circle cx="1665.5" cy="489.7" r="2.1" fill="url(#gH)"/>
<circle cx="1658.3" cy="463.6" r="3.5" fill="url(#gO)"/>
<circle cx="1658.5" cy="480.7" r="3.8" fill="url(#gN)"/>
<circle cx="1756.2" cy="506.0" r="7.5" fill="url(#gRuF)"/>
<circle cx="1774.4" cy="506.0" r="7.5" fill="url(#gRuF)"/>
<circle cx="1791.9" cy="506.0" r="7.5" fill="url(#gRuF)"/>
<circle cx="1809.6" cy="506.0" r="7.5" fill="url(#gRuF)"/>
<path d="M1754.4 539.5L1751.5 546.5" stroke="#dba4ad" stroke-width="2.5" fill="none"/>
<path d="M1751.5 546.5L1748.6 553.5" stroke="#bbbfdd" stroke-width="2.5" fill="none"/>
<path d="M1774.8 540.6L1775.8 548.1" stroke="#dba4ad" stroke-width="1.0" fill="none"/>
<path d="M1775.8 548.1L1776.7 555.6" stroke="#bbbfdd" stroke-width="1.0" fill="none"/>
<path d="M1776.8 540.4L1777.7 547.9" stroke="#dba4ad" stroke-width="1.0" fill="none"/>
<path d="M1777.7 547.9L1778.7 555.4" stroke="#bbbfdd" stroke-width="1.0" fill="none"/>
<path d="M1787.6 540.0L1783.5 547.5" stroke="#dba4ad" stroke-width="1.0" fill="none"/>
<path d="M1783.5 547.5L1779.3 555.0" stroke="#bbbfdd" stroke-width="1.0" fill="none"/>
<path d="M1789.4 541.0L1785.2 548.5" stroke="#dba4ad" stroke-width="1.0" fill="none"/>
<path d="M1785.2 548.5L1781.1 556.0" stroke="#bbbfdd" stroke-width="1.0" fill="none"/>
<path d="M1810.6 540.5L1811.2 548.0" stroke="#dba4ad" stroke-width="2.5" fill="none"/>
<path d="M1811.2 548.0L1811.9 555.5" stroke="#bbbfdd" stroke-width="2.5" fill="none"/>
<path d="M1775.3 557.9L1767.4 558.9" stroke="#c9cbe3" stroke-width="1.1" fill="none"/>
<path d="M1767.4 558.9L1759.6 559.8" stroke="#5fd6e2" stroke-width="1.1" fill="none"/>
<path d="M1775.5 559.9L1767.7 560.8" stroke="#c9cbe3" stroke-width="1.1" fill="none"/>
<path d="M1767.7 560.8L1759.8 561.8" stroke="#5fd6e2" stroke-width="1.1" fill="none"/>
<path d="M1815.0 560.1L1823.3 561.1" stroke="#c9cbe3" stroke-width="1.1" fill="none"/>
<path d="M1823.3 561.1L1831.6 562.1" stroke="#5fd6e2" stroke-width="1.1" fill="none"/>
<path d="M1815.2 558.1L1823.5 559.1" stroke="#c9cbe3" stroke-width="1.1" fill="none"/>
<path d="M1823.5 559.1L1831.8 560.1" stroke="#5fd6e2" stroke-width="1.1" fill="none"/>
<circle cx="1751.0" cy="564.0" r="10.5" fill="url(#gHalo)"/>
<path d="M1754.0 562.5l-15.0 -0.5M1754.0 564.0l-14.0 2.5" stroke="#8fe3ec" stroke-width="2.6" opacity="0.13" fill="none"/>
<circle cx="1748.8" cy="559.7" r="5.6" fill="url(#gW)" opacity="0.9"/>
<circle cx="1754.0" cy="562.5" r="6.2" fill="url(#gW)" opacity="0.95"/>
<circle cx="1746.0" cy="559.2" r="3.6" fill="url(#gPale)"/>
<rect x="1740.0" y="561.5" width="28.0" height="10.0" fill="url(#fadeW)"/>
<circle cx="1839.6" cy="564.0" r="10.5" fill="url(#gHalo)"/>
<path d="M1836.6 562.5l15.0 -0.5M1836.6 564.0l14.0 2.5" stroke="#8fe3ec" stroke-width="2.6" opacity="0.13" fill="none"/>
<circle cx="1842.4" cy="558.8" r="5.3" fill="url(#gW)" opacity="0.9"/>
<circle cx="1836.6" cy="562.5" r="6.2" fill="url(#gW)" opacity="0.95"/>
<circle cx="1844.3" cy="558.9" r="3.6" fill="url(#gPale)"/>
<rect x="1822.6" y="561.5" width="28.0" height="10.0" fill="url(#fadeW)"/>
<circle cx="1756.2" cy="534.5" r="7.2" fill="url(#gRu)"/>
<circle cx="1774.4" cy="534.5" r="7.2" fill="url(#gRu)"/>
<circle cx="1791.9" cy="534.5" r="7.2" fill="url(#gRu)"/>
<circle cx="1809.6" cy="534.5" r="7.2" fill="url(#gRu)"/>
<circle cx="1778.4" cy="558.5" r="3.9" fill="url(#gO)"/>
<circle cx="1812.1" cy="558.5" r="3.9" fill="url(#gO)"/>
<path d="M1791.9 533.5L1787.6 533.5" stroke="#72ec6f" stroke-width="2.4" fill="none"/>
<path d="M1787.6 533.5L1783.2 533.5" stroke="#72ec6f" stroke-width="2.4" fill="none"/>
<path d="M1791.9 533.5L1796.6 533.8" stroke="#72ec6f" stroke-width="2.4" fill="none"/>
<path d="M1796.6 533.8L1801.2 534.0" stroke="#72ec6f" stroke-width="2.4" fill="none"/>
<path d="M1791.9 533.5L1791.9 527.5" stroke="#72ec6f" stroke-width="2.0" fill="none"/>
<path d="M1791.9 527.5L1791.9 521.6" stroke="#e6ec74" stroke-width="2.0" fill="none"/>
<path d="M1791.9 533.5L1791.5 539.2" stroke="#72ec6f" stroke-width="2.0" fill="none"/>
<path d="M1791.5 539.2L1791.0 545.0" stroke="#e6ec74" stroke-width="2.0" fill="none"/>
<circle cx="1791.9" cy="521.6" r="2.1" fill="url(#gH)"/>
<circle cx="1791.0" cy="545.0" r="2.0" fill="url(#gH)"/>
<circle cx="1791.9" cy="533.5" r="3.8" fill="url(#gN)"/>
<circle cx="1891.7" cy="510.6" r="7.5" fill="url(#gRuF)"/>
<circle cx="1910.1" cy="510.6" r="7.5" fill="url(#gRuF)"/>
<circle cx="1927.8" cy="510.6" r="7.5" fill="url(#gRuF)"/>
<circle cx="1945.8" cy="510.6" r="7.5" fill="url(#gRuF)"/>
<path d="M1889.9 543.7L1887.0 550.7" stroke="#dba4ad" stroke-width="2.5" fill="none"/>
<path d="M1887.0 550.7L1884.1 557.7" stroke="#bbbfdd" stroke-width="2.5" fill="none"/>
<path d="M1910.5 544.8L1911.4 552.3" stroke="#dba4ad" stroke-width="1.0" fill="none"/>
<path d="M1911.4 552.3L1912.2 559.8" stroke="#bbbfdd" stroke-width="1.0" fill="none"/>
<path d="M1912.5 544.6L1913.3 552.1" stroke="#dba4ad" stroke-width="1.0" fill="none"/>
<path d="M1913.3 552.1L1914.2 559.6" stroke="#bbbfdd" stroke-width="1.0" fill="none"/>
<path d="M1923.5 544.2L1919.2 551.7" stroke="#dba4ad" stroke-width="1.0" fill="none"/>
<path d="M1919.2 551.7L1914.8 559.2" stroke="#bbbfdd" stroke-width="1.0" fill="none"/>
<path d="M1925.3 545.2L1920.9 552.7" stroke="#dba4ad" stroke-width="1.0" fill="none"/>
<path d="M1920.9 552.7L1916.6 560.2" stroke="#bbbfdd" stroke-width="1.0" fill="none"/>
<path d="M1946.8 544.7L1947.1 552.2" stroke="#dba4ad" stroke-width="2.5" fill="none"/>
<path d="M1947.1 552.2L1947.4 559.7" stroke="#bbbfdd" stroke-width="2.5" fill="none"/>
<path d="M1910.8 562.1L1902.9 563.1" stroke="#c9cbe3" stroke-width="1.1" fill="none"/>
<path d="M1902.9 563.1L1895.1 564.0" stroke="#5fd6e2" stroke-width="1.1" fill="none"/>
<path d="M1911.0 564.1L1903.2 565.0" stroke="#c9cbe3" stroke-width="1.1" fill="none"/>
<path d="M1903.2 565.0L1895.3 566.0" stroke="#5fd6e2" stroke-width="1.1" fill="none"/>
<path d="M1950.5 564.3L1958.8 565.3" stroke="#c9cbe3" stroke-width="1.1" fill="none"/>
<path d="M1958.8 565.3L1967.1 566.3" stroke="#5fd6e2" stroke-width="1.1" fill="none"/>
<path d="M1950.7 562.3L1959.0 563.3" stroke="#c9cbe3" stroke-width="1.1" fill="none"/>
<path d="M1959.0 563.3L1967.3 564.3" stroke="#5fd6e2" stroke-width="1.1" fill="none"/>
<circle cx="1886.5" cy="568.2" r="10.5" fill="url(#gHalo)"/>
<path d="M1889.5 566.7l-15.0 -0.5M1889.5 568.2l-14.0 2.5" stroke="#8fe3ec" stroke-width="2.6" opacity="0.13" fill="none"/>
<circle cx="1884.3" cy="563.9" r="5.6" fill="url(#gW)" opacity="0.9"/>
<circle cx="1889.5" cy="566.7" r="6.2" fill="url(#gW)" opacity="0.95"/>
<circle cx="1881.5" cy="563.4" r="3.6" fill="url(#gPale)"/>
<rect x="1875.5" y="565.7" width="28.0" height="10.0" fill="url(#fadeW)"/>
<circle cx="1975.1" cy="568.2" r="10.5" fill="url(#gHalo)"/>
<path d="M1972.1 566.7l15.0 -0.5M1972.1 568.2l14.0 2.5" stroke="#8fe3ec" stroke-width="2.6" opacity="0.13" fill="none"/>
<circle cx="1977.9" cy="563.0" r="5.3" fill="url(#gW)" opacity="0.9"/>
<circle cx="1972.1" cy="566.7" r="6.2" fill="url(#gW)" opacity="0.95"/>
<circle cx="1979.8" cy="563.1" r="3.6" fill="url(#gPale)"/>
<rect x="1958.1" y="565.7" width="28.0" height="10.0" fill="url(#fadeW)"/>
<circle cx="1891.7" cy="538.7" r="7.2" fill="url(#gRu)"/>
<circle cx="1910.1" cy="538.7" r="7.2" fill="url(#gRu)"/>
<circle cx="1927.8" cy="538.7" r="7.2" fill="url(#gRu)"/>
<circle cx="1945.8" cy="538.7" r="7.2" fill="url(#gRu)"/>
<circle cx="1913.9" cy="562.7" r="3.9" fill="url(#gO)"/>
<circle cx="1947.6" cy="562.7" r="3.9" fill="url(#gO)"/>
<path d="M1935.4 542.1L1933.8 536.1" stroke="#72ec6f" stroke-width="2.0" fill="none"/>
<path d="M1933.8 536.1L1932.2 530.1" stroke="#e6ec74" stroke-width="2.0" fill="none"/>
<path d="M1935.4 542.1L1929.5 546.4" stroke="#72ec6f" stroke-width="2.0" fill="none"/>
<path d="M1929.5 546.4L1923.6 550.7" stroke="#e6ec74" stroke-width="2.0" fill="none"/>
<path d="M1935.4 542.1L1939.5 546.1" stroke="#72ec6f" stroke-width="2.0" fill="none"/>
<path d="M1939.5 546.1L1943.6 550.1" stroke="#e6ec74" stroke-width="2.0" fill="none"/>
<circle cx="1932.2" cy="530.1" r="2.1" fill="url(#gH)"/>
<circle cx="1923.6" cy="550.7" r="2.1" fill="url(#gH)"/>
<circle cx="1943.6" cy="550.1" r="2.1" fill="url(#gH)"/>
<circle cx="1935.4" cy="542.1" r="3.8" fill="url(#gN)"/>
<text transform="translate(1.0 753.2) scale(1 1.0)" font-size="49" fill="#000" text-anchor="start" font-weight="bold">c</text>
<text transform="translate(58.5,841) rotate(-90) scale(1 1.04)" font-size="33.8" text-anchor="middle">Anti-bonding</text>
<text transform="translate(58.5,1111.5) rotate(-90) scale(1 1.04)" font-size="33.5" text-anchor="middle">Bonding</text>
<text transform="translate(75.3 778.5) scale(1 1.04)" font-size="33.5" fill="#000" text-anchor="start">E</text>
<text transform="translate(181.5 777.5) scale(1 1.04)" font-size="33.5" fill="#3a77bb" text-anchor="start">N 2<tspan font-style="italic">p</tspan></text>
<text transform="translate(263.5 776.0) scale(1 1.04)" font-size="31" fill="#000" text-anchor="start">|</text>
<text transform="translate(288.5 777.5) scale(1 1.04)" font-size="33.5" fill="#e0647b" text-anchor="start">O 2<tspan font-style="italic">p</tspan></text>
<text transform="translate(374.0 776.0) scale(1 1.04)" font-size="31" fill="#000" text-anchor="start">|</text>
<text transform="translate(396.5 777.5) scale(1 1.04)" font-size="33.5" fill="#4f8e2f" text-anchor="start">Ru 4<tspan font-style="italic">d</tspan></text>
<text transform="translate(205.0 1212.0) scale(1 1.04)" font-size="34" fill="#2a7399" text-anchor="middle">Interfacial Ru-*NO</text>
<text transform="translate(519.0 1212.0) scale(1 1.04)" font-size="34" fill="#e2677d" text-anchor="middle">Marginal Ru-*NO</text>
<path d="M85.3 809.2A205 29.8 0 0 1 85.3 868.8" fill="none" stroke="#8e8e8e" stroke-width="1.5"/>
<clipPath id="clL"><rect x="85.3" y="939.2" width="300" height="300"/></clipPath>
<g clip-path="url(#clL)">
<path d="M85.3 928.3A67.3 105.7 0 0 1 85.3 1139.7Z" fill="#cfe3f4"/>
<path d="M85.3 936.5A209 34.7 0 0 1 85.3 1005.9000000000001Z" fill="#dcf2d2" fill-opacity="0.85"/>
<path d="M85.3 907.0A84 95.4 0 0 1 85.3 1097.8Z" fill="#e8a0ae" fill-opacity="0.55"/>
<path d="M85.3 928.3A67.3 105.7 0 0 1 85.3 1139.7Z" fill="#b7d4ee" fill-opacity="0.45"/>
</g>
<clipPath id="cuL"><rect x="79.3" y="879.2" width="300" height="60"/></clipPath>
<g clip-path="url(#cuL)" fill="none" stroke-width="1.4">
<path d="M85.3 907.0A84 95.4 0 0 1 85.3 1097.8" stroke="#e0647b"/>
<path d="M85.3 928.3A67.3 105.7 0 0 1 85.3 1139.7" stroke="#9cc9ea"/>
</g>
<path d="M85.3 939.2H256.5" stroke="#000" stroke-width="2.3" stroke-dasharray="7 2.6"/>
<path d="M87.8 972.9H149.5" stroke="#4f8e2f" stroke-width="2.6" stroke-dasharray="2.4 2.1"/>
<path d="M87.8 1003.2H149.5" stroke="#e0647b" stroke-width="2.6" stroke-dasharray="2.4 2.1"/>
<path d="M87.8 1043H149.5" stroke="#3a77bb" stroke-width="2.6" stroke-dasharray="2.4 2.1"/>
<text transform="translate(156.5 981.6) scale(1 1.04)" font-size="33.2" fill="#4f8e2f" text-anchor="start">-2.20</text>
<text transform="translate(155.5 1012.4) scale(1 1.04)" font-size="33.2" fill="#e0647b" text-anchor="start">-5.07</text>
<text transform="translate(153.5 1050.7) scale(1 1.04)" font-size="33.2" fill="#3a77bb" text-anchor="start">-5.68</text>
<path d="M85.3 1169V800" stroke="#000" stroke-width="4.8"/>
<path d="M85.3 786.5L93.89999999999999 803.5H76.7Z" fill="#000"/>
<path d="M85 907.5H82.3V939" fill="none" stroke="#e0647b" stroke-width="1.2"/>
<text transform="translate(225.5 930.0) scale(1 1.04)" font-size="33.5" fill="#000" text-anchor="start">E<tspan font-size="25">f</tspan></text>
<path d="M405 817.4A207 29.5 0 0 1 405 876.4" fill="none" stroke="#8e8e8e" stroke-width="1.5"/>
<clipPath id="clR"><rect x="405" y="947.7" width="300" height="300"/></clipPath>
<g clip-path="url(#clR)">
<path d="M405 951A70.6 107 0 0 1 405 1165Z" fill="#cfe3f4"/>
<path d="M405 931A208.6 36 0 0 1 405 1003Z" fill="#dcf2d2" fill-opacity="0.85"/>
<path d="M405 932.6999999999999A87 94.4 0 0 1 405 1121.5Z" fill="#e8a0ae" fill-opacity="0.55"/>
<path d="M405 951A70.6 107 0 0 1 405 1165Z" fill="#b7d4ee" fill-opacity="0.45"/>
</g>
<clipPath id="cuR"><rect x="399" y="887.7" width="300" height="60"/></clipPath>
<g clip-path="url(#cuR)" fill="none" stroke-width="1.4">
<path d="M405 932.6999999999999A87 94.4 0 0 1 405 1121.5" stroke="#e0647b"/>
<path d="M405 951A70.6 107 0 0 1 405 1165" stroke="#9cc9ea"/>
<path d="M405 931C470 931 530 938 570 947.7" stroke="#86d66a"/>
</g>
<path d="M405 947.7H574" stroke="#000" stroke-width="2.3" stroke-dasharray="7 2.6"/>
<path d="M407.5 964.4H468.5" stroke="#4f8e2f" stroke-width="2.6" stroke-dasharray="2.4 2.1"/>
<path d="M407.5 1027H468.5" stroke="#e0647b" stroke-width="2.6" stroke-dasharray="2.4 2.1"/>
<path d="M407.5 1070.4H468.5" stroke="#3a77bb" stroke-width="2.6" stroke-dasharray="2.4 2.1"/>
<text transform="translate(475.0 976.2) scale(1 1.04)" font-size="33.2" fill="#4f8e2f" text-anchor="start">-1.69</text>
<text transform="translate(475.0 1037.0) scale(1 1.04)" font-size="33.2" fill="#e0647b" text-anchor="start">-5.45</text>
<text transform="translate(475.0 1081.5) scale(1 1.04)" font-size="33.2" fill="#3a77bb" text-anchor="start">-6.07</text>
<path d="M405 1169V800" stroke="#000" stroke-width="4.8"/>
<path d="M405 786.5L413.6 803.5H396.4Z" fill="#000"/>
<rect x="810.3" y="1115.2" width="44.7" height="84.1" fill="#70adc0" stroke="#5c96a9" stroke-width="0.9"/>
<rect x="921.6" y="1090.1" width="44.7" height="109.2" fill="#70adc0" stroke="#5c96a9" stroke-width="0.9"/>
<rect x="1077.7" y="1035.0" width="44.7" height="164.3" fill="#e8a3b0" stroke="#d58e9c" stroke-width="0.9"/>
<rect x="1188.6" y="914.8" width="44.7" height="284.5" fill="#e8a3b0" stroke="#d58e9c" stroke-width="0.9"/>
<rect x="743.6" y="751.0" width="557.0" height="448.3" fill="none" stroke="#000" stroke-width="2.2" />
<line x1="1018.8" y1="751.0" x2="1018.8" y2="1199.3" stroke="#000" stroke-width="2.0" />
<text transform="translate(732.5 1210.2) scale(1 1.04)" font-size="33.5" fill="#000" text-anchor="end">0.0</text>
<line x1="743.6" y1="1100.1" x2="752.6" y2="1100.1" stroke="#000" stroke-width="1.9" />
<text transform="translate(732.5 1110.0) scale(1 1.04)" font-size="33.5" fill="#000" text-anchor="end">0.2</text>
<line x1="743.6" y1="1000.0" x2="752.6" y2="1000.0" stroke="#000" stroke-width="1.9" />
<text transform="translate(732.5 1009.9) scale(1 1.04)" font-size="33.5" fill="#000" text-anchor="end">0.4</text>
<line x1="743.6" y1="899.8" x2="752.6" y2="899.8" stroke="#000" stroke-width="1.9" />
<text transform="translate(732.5 909.7) scale(1 1.04)" font-size="33.5" fill="#000" text-anchor="end">0.6</text>
<line x1="743.6" y1="799.7" x2="752.6" y2="799.7" stroke="#000" stroke-width="1.9" />
<text transform="translate(732.5 809.6) scale(1 1.04)" font-size="33.5" fill="#000" text-anchor="end">0.8</text>
<line x1="743.6" y1="1150.2" x2="748.6" y2="1150.2" stroke="#000" stroke-width="1.9" />
<line x1="743.6" y1="1050.1" x2="748.6" y2="1050.1" stroke="#000" stroke-width="1.9" />
<line x1="743.6" y1="949.9" x2="748.6" y2="949.9" stroke="#000" stroke-width="1.9" />
<line x1="743.6" y1="849.7" x2="748.6" y2="849.7" stroke="#000" stroke-width="1.9" />
<text transform="translate(673.5,974) rotate(-90) scale(1 1.04)" font-size="33.3" text-anchor="middle">Free energy (eV)</text>
<text transform="translate(649.8 765.0) scale(1 1.0)" font-size="50" fill="#000" text-anchor="start" font-weight="bold">d</text>
<circle cx="767" cy="732" r="9.2" fill="url(#lRu)"/>
<text transform="translate(782.6 743.5) scale(1 1.04)" font-size="33.8" fill="#000" text-anchor="start">Ru</text>
<circle cx="887.6" cy="732" r="9.2" fill="url(#lW)"/>
<text transform="translate(904.0 743.5) scale(1 1.04)" font-size="33.8" fill="#000" text-anchor="start">W</text>
<circle cx="997.8" cy="732" r="9.2" fill="url(#lO)"/>
<text transform="translate(1013.8 743.5) scale(1 1.04)" font-size="33.8" fill="#000" text-anchor="start">O</text>
<circle cx="1103.3" cy="732" r="9.2" fill="url(#lN)"/>
<text transform="translate(1118.6 743.5) scale(1 1.04)" font-size="33.8" fill="#000" text-anchor="start">N</text>
<circle cx="1214.4" cy="732" r="9.2" fill="url(#lH)"/>
<text transform="translate(1230.3 743.5) scale(1 1.04)" font-size="33.8" fill="#000" text-anchor="start">H</text>
<text transform="translate(757.5 785.2) scale(1 1.04)" font-size="31.2" fill="#2a7399" text-anchor="start">Interfacial Ru-*NO</text>
<text transform="translate(1044.0 784.8) scale(1 1.04)" font-size="31.2" fill="#e2677d" text-anchor="start">Marginal Ru-*NO</text>
<text transform="translate(831.6 1107.3) scale(1 1.04)" font-size="28.6" fill="#000" text-anchor="middle">0.17</text>
<text transform="translate(944.0 1082.7) scale(1 1.04)" font-size="28.6" fill="#000" text-anchor="middle">0.22</text>
<text transform="translate(1099.8 1028.7) scale(1 1.04)" font-size="28.6" fill="#000" text-anchor="middle">0.33</text>
<text transform="translate(1210.8 908.1) scale(1 1.04)" font-size="28.6" fill="#000" text-anchor="middle">0.57</text>
<text transform="translate(829.5 1233.8) scale(1 1.04)" font-size="33.8" fill="#000" text-anchor="middle">N-*H</text>
<text transform="translate(941.2 1233.8) scale(1 1.04)" font-size="33.8" fill="#000" text-anchor="middle">O-*H</text>
<text transform="translate(1100.2 1233.8) scale(1 1.04)" font-size="33.8" fill="#000" text-anchor="middle">N-*H</text>
<text transform="translate(1215.2 1233.8) scale(1 1.04)" font-size="33.8" fill="#000" text-anchor="middle">O-*H</text>
<circle cx="797.4" cy="1003.2" r="7.5" fill="url(#gRuF)"/>
<circle cx="816.2" cy="1003.2" r="7.5" fill="url(#gRuF)"/>
<circle cx="833.7" cy="1003.2" r="7.5" fill="url(#gRuF)"/>
<circle cx="851.6" cy="1003.2" r="7.5" fill="url(#gRuF)"/>
<path d="M795.6 1037.8L792.7 1044.8" stroke="#dba4ad" stroke-width="2.5" fill="none"/>
<path d="M792.7 1044.8L789.8 1051.8" stroke="#bbbfdd" stroke-width="2.5" fill="none"/>
<path d="M816.6 1038.9L817.3 1046.4" stroke="#dba4ad" stroke-width="1.0" fill="none"/>
<path d="M817.3 1046.4L817.9 1053.9" stroke="#bbbfdd" stroke-width="1.0" fill="none"/>
<path d="M818.6 1038.7L819.2 1046.2" stroke="#dba4ad" stroke-width="1.0" fill="none"/>
<path d="M819.2 1046.2L819.9 1053.7" stroke="#bbbfdd" stroke-width="1.0" fill="none"/>
<path d="M829.4 1038.3L825.0 1045.8" stroke="#dba4ad" stroke-width="1.0" fill="none"/>
<path d="M825.0 1045.8L820.5 1053.3" stroke="#bbbfdd" stroke-width="1.0" fill="none"/>
<path d="M831.2 1039.3L826.7 1046.8" stroke="#dba4ad" stroke-width="1.0" fill="none"/>
<path d="M826.7 1046.8L822.3 1054.3" stroke="#bbbfdd" stroke-width="1.0" fill="none"/>
<path d="M852.6 1038.8L852.8 1046.3" stroke="#dba4ad" stroke-width="2.5" fill="none"/>
<path d="M852.8 1046.3L853.1 1053.8" stroke="#bbbfdd" stroke-width="2.5" fill="none"/>
<path d="M816.5 1056.2L808.6 1057.2" stroke="#c9cbe3" stroke-width="1.1" fill="none"/>
<path d="M808.6 1057.2L800.8 1058.1" stroke="#5fd6e2" stroke-width="1.1" fill="none"/>
<path d="M816.7 1058.2L808.9 1059.1" stroke="#c9cbe3" stroke-width="1.1" fill="none"/>
<path d="M808.9 1059.1L801.0 1060.1" stroke="#5fd6e2" stroke-width="1.1" fill="none"/>
<path d="M856.2 1058.4L864.5 1059.4" stroke="#c9cbe3" stroke-width="1.1" fill="none"/>
<path d="M864.5 1059.4L872.8 1060.4" stroke="#5fd6e2" stroke-width="1.1" fill="none"/>
<path d="M856.4 1056.4L864.7 1057.4" stroke="#c9cbe3" stroke-width="1.1" fill="none"/>
<path d="M864.7 1057.4L873.0 1058.4" stroke="#5fd6e2" stroke-width="1.1" fill="none"/>
<circle cx="792.2" cy="1062.3" r="10.5" fill="url(#gHalo)"/>
<path d="M795.2 1060.8l-15.0 -0.5M795.2 1062.3l-14.0 2.5" stroke="#8fe3ec" stroke-width="2.6" opacity="0.13" fill="none"/>
<circle cx="790.0" cy="1058.0" r="5.6" fill="url(#gW)" opacity="0.9"/>
<circle cx="795.2" cy="1060.8" r="6.2" fill="url(#gW)" opacity="0.95"/>
<circle cx="787.2" cy="1057.5" r="3.6" fill="url(#gPale)"/>
<rect x="781.2" y="1059.8" width="28.0" height="10.0" fill="url(#fadeW)"/>
<circle cx="880.8" cy="1062.3" r="10.5" fill="url(#gHalo)"/>
<path d="M877.8 1060.8l15.0 -0.5M877.8 1062.3l14.0 2.5" stroke="#8fe3ec" stroke-width="2.6" opacity="0.13" fill="none"/>
<circle cx="883.6" cy="1057.1" r="5.3" fill="url(#gW)" opacity="0.9"/>
<circle cx="877.8" cy="1060.8" r="6.2" fill="url(#gW)" opacity="0.95"/>
<circle cx="885.5" cy="1057.2" r="3.6" fill="url(#gPale)"/>
<rect x="863.8" y="1059.8" width="28.0" height="10.0" fill="url(#fadeW)"/>
<circle cx="797.4" cy="1032.8" r="7.2" fill="url(#gRu)"/>
<circle cx="816.2" cy="1032.8" r="7.2" fill="url(#gRu)"/>
<circle cx="833.7" cy="1032.8" r="7.2" fill="url(#gRu)"/>
<circle cx="851.6" cy="1032.8" r="7.2" fill="url(#gRu)"/>
<circle cx="819.6" cy="1056.8" r="3.9" fill="url(#gO)"/>
<circle cx="853.3" cy="1056.8" r="3.9" fill="url(#gO)"/>
<path d="M833.7 1032.1L829.3 1032.2" stroke="#72ec6f" stroke-width="2.4" fill="none"/>
<path d="M829.3 1032.2L824.9 1032.3" stroke="#72ec6f" stroke-width="2.4" fill="none"/>
<path d="M833.7 1032.1L838.0 1032.3" stroke="#72ec6f" stroke-width="2.4" fill="none"/>
<path d="M838.0 1032.3L842.4 1032.5" stroke="#72ec6f" stroke-width="2.4" fill="none"/>
<path d="M833.7 1032.1L839.6 1024.9" stroke="#72ec6f" stroke-width="2.4" fill="none"/>
<path d="M839.6 1024.9L845.5 1017.8" stroke="#bbbfdd" stroke-width="2.4" fill="none"/>
<path d="M833.7 1032.1L834.0 1037.2" stroke="#72ec6f" stroke-width="2.0" fill="none"/>
<path d="M834.0 1037.2L834.4 1042.4" stroke="#e6ec74" stroke-width="2.0" fill="none"/>
<circle cx="834.4" cy="1042.4" r="2.0" fill="url(#gH)"/>
<circle cx="845.5" cy="1017.8" r="3.4" fill="url(#gO)"/>
<circle cx="833.7" cy="1032.1" r="3.8" fill="url(#gN)"/>
<g opacity="0.66">
<circle cx="912.5" cy="979.7" r="7.2" fill="url(#gRu)" opacity="0.45"/>
<circle cx="930.4" cy="979.7" r="7.2" fill="url(#gRu)"/>
<circle cx="947.9" cy="979.7" r="7.2" fill="url(#gRu)"/>
<circle cx="965.4" cy="979.7" r="7.2" fill="url(#gRu)"/>
</g>
<path d="M910.7 1013.8L907.8 1020.8" stroke="#dba4ad" stroke-width="2.5" fill="none"/>
<path d="M907.8 1020.8L904.9 1027.8" stroke="#bbbfdd" stroke-width="2.5" fill="none"/>
<path d="M930.8 1014.9L931.9 1022.4" stroke="#dba4ad" stroke-width="1.0" fill="none"/>
<path d="M931.9 1022.4L933.0 1029.9" stroke="#bbbfdd" stroke-width="1.0" fill="none"/>
<path d="M932.8 1014.7L933.9 1022.2" stroke="#dba4ad" stroke-width="1.0" fill="none"/>
<path d="M933.9 1022.2L935.0 1029.7" stroke="#bbbfdd" stroke-width="1.0" fill="none"/>
<path d="M943.6 1014.3L939.6 1021.8" stroke="#dba4ad" stroke-width="1.0" fill="none"/>
<path d="M939.6 1021.8L935.6 1029.3" stroke="#bbbfdd" stroke-width="1.0" fill="none"/>
<path d="M945.4 1015.3L941.4 1022.8" stroke="#dba4ad" stroke-width="1.0" fill="none"/>
<path d="M941.4 1022.8L937.4 1030.3" stroke="#bbbfdd" stroke-width="1.0" fill="none"/>
<path d="M966.4 1014.8L967.3 1022.3" stroke="#dba4ad" stroke-width="2.5" fill="none"/>
<path d="M967.3 1022.3L968.2 1029.8" stroke="#bbbfdd" stroke-width="2.5" fill="none"/>
<path d="M931.6 1032.2L923.7 1033.2" stroke="#c9cbe3" stroke-width="1.1" fill="none"/>
<path d="M923.7 1033.2L915.9 1034.1" stroke="#5fd6e2" stroke-width="1.1" fill="none"/>
<path d="M931.8 1034.2L924.0 1035.1" stroke="#c9cbe3" stroke-width="1.1" fill="none"/>
<path d="M924.0 1035.1L916.1 1036.1" stroke="#5fd6e2" stroke-width="1.1" fill="none"/>
<path d="M971.3 1034.4L979.6 1035.4" stroke="#c9cbe3" stroke-width="1.1" fill="none"/>
<path d="M979.6 1035.4L987.9 1036.4" stroke="#5fd6e2" stroke-width="1.1" fill="none"/>
<path d="M971.5 1032.4L979.8 1033.4" stroke="#c9cbe3" stroke-width="1.1" fill="none"/>
<path d="M979.8 1033.4L988.1 1034.4" stroke="#5fd6e2" stroke-width="1.1" fill="none"/>
<circle cx="907.3" cy="1038.3" r="10.5" fill="url(#gHalo)"/>
<path d="M910.3 1036.8l-15.0 -0.5M910.3 1038.3l-14.0 2.5" stroke="#8fe3ec" stroke-width="2.6" opacity="0.13" fill="none"/>
<circle cx="905.1" cy="1034.0" r="5.6" fill="url(#gW)" opacity="0.9"/>
<circle cx="910.3" cy="1036.8" r="6.2" fill="url(#gW)" opacity="0.95"/>
<circle cx="902.3" cy="1033.5" r="3.6" fill="url(#gPale)"/>
<rect x="896.3" y="1035.8" width="28.0" height="10.0" fill="url(#fadeW)"/>
<circle cx="995.9" cy="1038.3" r="10.5" fill="url(#gHalo)"/>
<path d="M992.9 1036.8l15.0 -0.5M992.9 1038.3l14.0 2.5" stroke="#8fe3ec" stroke-width="2.6" opacity="0.13" fill="none"/>
<circle cx="998.7" cy="1033.1" r="5.3" fill="url(#gW)" opacity="0.9"/>
<circle cx="992.9" cy="1036.8" r="6.2" fill="url(#gW)" opacity="0.95"/>
<circle cx="1000.6" cy="1033.2" r="3.6" fill="url(#gPale)"/>
<rect x="978.9" y="1035.8" width="28.0" height="10.0" fill="url(#fadeW)"/>
<circle cx="912.5" cy="1008.8" r="7.2" fill="url(#gRu)"/>
<circle cx="930.4" cy="1008.8" r="7.2" fill="url(#gRu)"/>
<circle cx="947.9" cy="1008.8" r="7.2" fill="url(#gRu)"/>
<circle cx="965.4" cy="1008.8" r="7.2" fill="url(#gRu)"/>
<circle cx="934.7" cy="1032.8" r="3.9" fill="url(#gO)"/>
<circle cx="968.4" cy="1032.8" r="3.9" fill="url(#gO)"/>
<path d="M947.2 994.0L940.9 999.4" stroke="#72ec6f" stroke-width="2.5" fill="none"/>
<path d="M940.9 999.4L934.5 1004.8" stroke="#dba4ad" stroke-width="2.5" fill="none"/>
<path d="M947.2 994.0L954.4 999.1" stroke="#72ec6f" stroke-width="2.5" fill="none"/>
<path d="M954.4 999.1L961.5 1004.3" stroke="#dba4ad" stroke-width="2.5" fill="none"/>
<circle cx="930.4" cy="1008.8" r="7.2" fill="url(#gRu)"/>
<circle cx="965.4" cy="1008.8" r="7.2" fill="url(#gRu)"/>
<path d="M947.2 994.0L947.0 990.6" stroke="#72ec6f" stroke-width="2.4" fill="none"/>
<path d="M947.0 990.6L946.8 987.3" stroke="#bbbfdd" stroke-width="2.4" fill="none"/>
<path d="M946.8 987.3L946.5 981.2" stroke="#bbbfdd" stroke-width="1.8" fill="none"/>
<path d="M946.5 981.2L946.3 975.2" stroke="#e6ec74" stroke-width="1.8" fill="none"/>
<circle cx="946.3" cy="975.2" r="1.8" fill="url(#gH)" opacity="0.8"/>
<circle cx="947.2" cy="994.0" r="3.7" fill="url(#gN)"/>
<circle cx="946.8" cy="987.3" r="3.3" fill="url(#gO)"/>
<g>
<circle cx="1072.8" cy="985.5" r="7.2" fill="url(#gRu)"/>
<circle cx="1090.9" cy="985.5" r="7.2" fill="url(#gRu)"/>
<circle cx="1108.5" cy="985.5" r="7.2" fill="url(#gRu)"/>
<circle cx="1126.5" cy="985.5" r="7.2" fill="url(#gRu)"/>
<rect x="1063.6" y="977.4" width="72.0" height="17.3" fill="url(#fadeDown)"/>
</g>
<circle cx="1072.1" cy="955.7" r="7.2" fill="url(#gRu)" opacity="0.85"/>
<path d="M1054.1 948.5L1062.7 953.0" stroke="#72ec6f" stroke-width="2.6" fill="none"/>
<path d="M1062.7 953.0L1075.7 959.7" stroke="#d6a1aa" stroke-width="2.6" fill="none"/>
<circle cx="1090.9" cy="956.7" r="7.2" fill="url(#gRu)"/>
<circle cx="1108.5" cy="956.9" r="7.2" fill="url(#gRu)"/>
<circle cx="1126.5" cy="956.9" r="7.2" fill="url(#gRu)" opacity="0.8"/>
<circle cx="1075.7" cy="959.7" r="7.2" fill="url(#gRu)"/>
<path d="M1054.1 948.5L1053.4 942.8" stroke="#72ec6f" stroke-width="2.4" fill="none"/>
<path d="M1053.4 942.8L1052.7 937.0" stroke="#bbbfdd" stroke-width="2.4" fill="none"/>
<path d="M1054.1 948.5L1048.4 949.6" stroke="#72ec6f" stroke-width="2.0" fill="none"/>
<path d="M1048.4 949.6L1042.8 950.8" stroke="#e6ec74" stroke-width="2.0" fill="none"/>
<circle cx="1042.8" cy="950.8" r="2.1" fill="url(#gH)" opacity="0.8"/>
<circle cx="1052.7" cy="937.0" r="3.5" fill="url(#gO)"/>
<circle cx="1054.1" cy="948.5" r="3.7" fill="url(#gN)"/>
<g>
<circle cx="1185.4" cy="871.3" r="7.2" fill="url(#gRu)"/>
<circle cx="1202.3" cy="871.3" r="7.2" fill="url(#gRu)"/>
<circle cx="1219.4" cy="871.3" r="7.2" fill="url(#gRu)"/>
<circle cx="1236.7" cy="871.3" r="7.2" fill="url(#gRu)"/>
<rect x="1176.2" y="863.1" width="69.6" height="17.3" fill="url(#fadeDown)"/>
</g>
<circle cx="1185.4" cy="842.5" r="7.2" fill="url(#gRu)" opacity="0.85"/>
<path d="M1201.8 826.1L1196.4 834.3" stroke="#72ec6f" stroke-width="2.6" fill="none"/>
<path d="M1196.4 834.3L1188.2 846.5" stroke="#d6a1aa" stroke-width="2.6" fill="none"/>
<path d="M1201.8 826.1L1209.0 832.8" stroke="#72ec6f" stroke-width="2.6" fill="none"/>
<path d="M1209.0 832.8L1219.8 842.9" stroke="#d6a1aa" stroke-width="2.6" fill="none"/>
<circle cx="1202.7" cy="842.9" r="7.2" fill="url(#gRu)"/>
<circle cx="1219.8" cy="842.9" r="7.2" fill="url(#gRu)"/>
<circle cx="1237.0" cy="843.7" r="7.2" fill="url(#gRu)" opacity="0.9"/>
<circle cx="1188.2" cy="846.5" r="7.2" fill="url(#gRu)"/>
<path d="M1201.8 826.1L1201.7 817.3" stroke="#72ec6f" stroke-width="2.4" fill="none"/>
<path d="M1201.7 817.3L1201.6 808.5" stroke="#bbbfdd" stroke-width="2.4" fill="none"/>
<path d="M1201.6 808.5L1196.7 806.5" stroke="#bbbfdd" stroke-width="1.8" fill="none"/>
<path d="M1196.7 806.5L1191.7 804.5" stroke="#e6ec74" stroke-width="1.8" fill="none"/>
<circle cx="1191.7" cy="804.5" r="1.9" fill="url(#gH)" opacity="0.8"/>
<circle cx="1201.6" cy="808.5" r="3.5" fill="url(#gO)"/>
<circle cx="1201.8" cy="826.1" r="3.7" fill="url(#gN)"/>
<rect x="1505.5" y="750.0" width="44.5" height="60.0" fill="#7bd8e9" stroke="#69c2d3" stroke-width="0.9"/>
<rect x="1616.4" y="750.0" width="45.3" height="262.5" fill="#7bd8e9" stroke="#69c2d3" stroke-width="0.9"/>
<rect x="1772.4" y="750.0" width="45.0" height="49.5" fill="#e7e57a" stroke="#d1cf68" stroke-width="0.9"/>
<rect x="1884.3" y="750.0" width="45.2" height="196.5" fill="#e7e57a" stroke="#d1cf68" stroke-width="0.9"/>
<rect x="1438.8" y="750.0" width="557.6" height="449.4" fill="none" stroke="#000" stroke-width="2.2" />
<line x1="1724.5" y1="750.0" x2="1724.5" y2="1199.4" stroke="#000" stroke-width="2.0" />
<line x1="1438.8" y1="900.0" x2="1447.8" y2="900.0" stroke="#000" stroke-width="1.9" />
<line x1="1438.8" y1="1050.0" x2="1447.8" y2="1050.0" stroke="#000" stroke-width="1.9" />
<line x1="1438.8" y1="825.0" x2="1443.8" y2="825.0" stroke="#000" stroke-width="1.9" />
<line x1="1438.8" y1="975.0" x2="1443.8" y2="975.0" stroke="#000" stroke-width="1.9" />
<line x1="1438.8" y1="1125.0" x2="1443.8" y2="1125.0" stroke="#000" stroke-width="1.9" />
<text transform="translate(1427.5 759.9) scale(1 1.04)" font-size="33.5" fill="#000" text-anchor="end">0</text>
<text transform="translate(1426.0 910.6) scale(1 1.04)" font-size="33.5" fill="#000" text-anchor="end">−<tspan dx="-2.2">1</tspan></text>
<text transform="translate(1426.0 1060.6) scale(1 1.04)" font-size="33.5" fill="#000" text-anchor="end">−<tspan dx="-2.2">2</tspan></text>
<text transform="translate(1426.0 1210.6) scale(1 1.04)" font-size="33.5" fill="#000" text-anchor="end">−<tspan dx="-2.2">3</tspan></text>
<text transform="translate(1378.8,973.7) rotate(-90) scale(1 1.04)" font-size="33.3" text-anchor="middle">Free energy (eV)</text>
<text transform="translate(1353.0 764.6) scale(1 1.0)" font-size="50" fill="#000" text-anchor="start" font-weight="bold">e</text>
<circle cx="1486.3" cy="731.6" r="9.2" fill="url(#lRu)"/>
<text transform="translate(1502.6 742.8) scale(1 1.04)" font-size="33.8" fill="#000" text-anchor="start">Ru</text>
<circle cx="1606.6" cy="731.6" r="9.2" fill="url(#lW)"/>
<text transform="translate(1623.5 742.8) scale(1 1.04)" font-size="33.8" fill="#000" text-anchor="start">W</text>
<circle cx="1716.7" cy="731.6" r="9.2" fill="url(#lO)"/>
<text transform="translate(1733.0 742.8) scale(1 1.04)" font-size="33.8" fill="#000" text-anchor="start">O</text>
<circle cx="1822" cy="731.6" r="9.2" fill="url(#lN)"/>
<text transform="translate(1837.5 742.8) scale(1 1.04)" font-size="33.8" fill="#000" text-anchor="start">N</text>
<circle cx="1934.2" cy="731.6" r="9.2" fill="url(#lH)"/>
<text transform="translate(1949.8 742.8) scale(1 1.04)" font-size="33.8" fill="#000" text-anchor="start">H</text>
<text transform="translate(1527.2 836.6) scale(1 1.04)" font-size="30" fill="#000" text-anchor="middle">-0.4</text>
<text transform="translate(1638.9 1039.0) scale(1 1.04)" font-size="30" fill="#000" text-anchor="middle">-1.75</text>
<text transform="translate(1794.9 825.4) scale(1 1.04)" font-size="30" fill="#000" text-anchor="middle">-0.33</text>
<text transform="translate(1905.0 972.4) scale(1 1.04)" font-size="30" fill="#000" text-anchor="middle">-1.31</text>
<text transform="translate(1524.9 1232.3) scale(1 1.04)" font-size="34.4" fill="#000" text-anchor="middle">Ru-*H</text>
<text transform="translate(1648.6 1232.3) scale(1 1.04)" font-size="34.4" fill="#000" text-anchor="middle">O-*H</text>
<text transform="translate(1794.3 1232.3) scale(1 1.04)" font-size="34.4" fill="#000" text-anchor="middle">Ru-*H</text>
<text transform="translate(1914.2 1232.3) scale(1 1.04)" font-size="34.4" fill="#000" text-anchor="middle">O-*H</text>
<text transform="translate(1579.3 1188.0) scale(1 1.04)" font-size="34.6" fill="#4cb7e8" text-anchor="middle">Interfacial</text>
<text transform="translate(1864.7 1188.0) scale(1 1.04)" font-size="34.1" fill="#dbd535" text-anchor="middle">Marginal</text>
<circle cx="1494.1" cy="860.4" r="8.0" fill="url(#gRuF)"/>
<circle cx="1513.5" cy="860.4" r="8.0" fill="url(#gRuF)"/>
<circle cx="1532.7" cy="860.4" r="8.0" fill="url(#gRuF)"/>
<circle cx="1551.6" cy="860.4" r="8.0" fill="url(#gRuF)"/>
<path d="M1492.2 896.8L1489.1 904.2" stroke="#dba4ad" stroke-width="2.6750000000000003" fill="none"/>
<path d="M1489.1 904.2L1486.0 911.7" stroke="#bbbfdd" stroke-width="2.6750000000000003" fill="none"/>
<path d="M1513.9 898.0L1515.0 906.0" stroke="#dba4ad" stroke-width="1.07" fill="none"/>
<path d="M1515.0 906.0L1516.0 914.0" stroke="#bbbfdd" stroke-width="1.07" fill="none"/>
<path d="M1516.0 897.7L1517.1 905.7" stroke="#dba4ad" stroke-width="1.07" fill="none"/>
<path d="M1517.1 905.7L1518.2 913.7" stroke="#bbbfdd" stroke-width="1.07" fill="none"/>
<path d="M1528.2 897.3L1523.5 905.3" stroke="#dba4ad" stroke-width="1.07" fill="none"/>
<path d="M1523.5 905.3L1518.9 913.3" stroke="#bbbfdd" stroke-width="1.07" fill="none"/>
<path d="M1530.0 898.4L1525.4 906.4" stroke="#dba4ad" stroke-width="1.07" fill="none"/>
<path d="M1525.4 906.4L1520.7 914.4" stroke="#bbbfdd" stroke-width="1.07" fill="none"/>
<path d="M1552.6 897.8L1553.2 905.8" stroke="#dba4ad" stroke-width="2.6750000000000003" fill="none"/>
<path d="M1553.2 905.8L1553.7 913.9" stroke="#bbbfdd" stroke-width="2.6750000000000003" fill="none"/>
<path d="M1514.5 916.4L1506.1 917.5" stroke="#c9cbe3" stroke-width="1.1770000000000003" fill="none"/>
<path d="M1506.1 917.5L1497.7 918.5" stroke="#5fd6e2" stroke-width="1.1770000000000003" fill="none"/>
<path d="M1514.8 918.6L1506.4 919.6" stroke="#c9cbe3" stroke-width="1.1770000000000003" fill="none"/>
<path d="M1506.4 919.6L1498.0 920.6" stroke="#5fd6e2" stroke-width="1.1770000000000003" fill="none"/>
<path d="M1557.0 918.8L1565.9 919.9" stroke="#c9cbe3" stroke-width="1.1770000000000003" fill="none"/>
<path d="M1565.9 919.9L1574.8 920.9" stroke="#5fd6e2" stroke-width="1.1770000000000003" fill="none"/>
<path d="M1557.3 916.7L1566.1 917.7" stroke="#c9cbe3" stroke-width="1.1770000000000003" fill="none"/>
<path d="M1566.1 917.7L1575.0 918.8" stroke="#5fd6e2" stroke-width="1.1770000000000003" fill="none"/>
<circle cx="1488.5" cy="923.0" r="11.2" fill="url(#gHalo)"/>
<path d="M1491.7 921.4l-16.1 -0.5M1491.7 923.0l-15.0 2.7" stroke="#8fe3ec" stroke-width="2.8" opacity="0.13" fill="none"/>
<circle cx="1486.2" cy="918.4" r="6.0" fill="url(#gW)" opacity="0.9"/>
<circle cx="1491.7" cy="921.4" r="6.6" fill="url(#gW)" opacity="0.95"/>
<circle cx="1483.2" cy="917.8" r="3.9" fill="url(#gPale)"/>
<rect x="1476.8" y="920.3" width="30.0" height="10.7" fill="url(#fadeW)"/>
<circle cx="1583.3" cy="923.0" r="11.2" fill="url(#gHalo)"/>
<path d="M1580.1 921.4l16.1 -0.5M1580.1 923.0l15.0 2.7" stroke="#8fe3ec" stroke-width="2.8" opacity="0.13" fill="none"/>
<circle cx="1586.3" cy="917.4" r="5.7" fill="url(#gW)" opacity="0.9"/>
<circle cx="1580.1" cy="921.4" r="6.6" fill="url(#gW)" opacity="0.95"/>
<circle cx="1588.4" cy="917.5" r="3.9" fill="url(#gPale)"/>
<rect x="1565.1" y="920.3" width="30.0" height="10.7" fill="url(#fadeW)"/>
<path d="M1498.2 874.4L1505.8 882.9" stroke="#e6ec74" stroke-width="2.2" fill="none"/>
<path d="M1505.8 882.9L1513.5 891.4" stroke="#dba4ad" stroke-width="2.2" fill="none"/>
<path d="M1498.2 874.4L1496.9 870.4" stroke="#e6ec74" stroke-width="1.8" fill="none"/>
<path d="M1496.9 870.4L1495.6 866.4" stroke="#f0e3e6" stroke-width="1.8" fill="none"/>
<circle cx="1498.2" cy="874.4" r="2.0" fill="url(#gH)"/>
<circle cx="1494.1" cy="891.4" r="7.7" fill="url(#gRu)"/>
<circle cx="1513.5" cy="891.4" r="7.7" fill="url(#gRu)"/>
<circle cx="1532.7" cy="891.4" r="7.7" fill="url(#gRu)"/>
<circle cx="1551.6" cy="891.4" r="7.7" fill="url(#gRu)"/>
<circle cx="1517.9" cy="917.1" r="4.2" fill="url(#gO)"/>
<circle cx="1553.9" cy="917.1" r="4.2" fill="url(#gO)"/>
<g>
<circle cx="1770.1" cy="903.7" r="7.2" fill="url(#gRu)"/>
<circle cx="1788.9" cy="903.7" r="7.2" fill="url(#gRu)"/>
<circle cx="1807.3" cy="903.7" r="7.2" fill="url(#gRu)"/>
<circle cx="1826.1" cy="903.7" r="7.2" fill="url(#gRu)"/>
<rect x="1760.9" y="895.5" width="74.3" height="17.3" fill="url(#fadeDown)"/>
</g>
<rect x="1760" y="896" width="76" height="18" fill="#fff" opacity="0.88"/>
<circle cx="1770.1" cy="847.7" r="7.2" fill="url(#gRu)" opacity="0.4"/>
<circle cx="1788.9" cy="847.7" r="7.2" fill="url(#gRu)" opacity="0.75"/>
<circle cx="1807.3" cy="847.7" r="7.2" fill="url(#gRu)" opacity="0.85"/>
<circle cx="1826.1" cy="847.7" r="7.2" fill="url(#gRu)" opacity="0.35"/>
<path d="M1809.6 866.1L1808.4 859.5" stroke="#d3dd63" stroke-width="2.3" fill="none"/>
<path d="M1808.4 859.5L1807.3 853.0" stroke="#dba4ad" stroke-width="2.3" fill="none"/>
<path d="M1809.6 866.1L1801.3 871.0" stroke="#d3dd63" stroke-width="2.3" fill="none"/>
<path d="M1801.3 871.0L1793.0 876.0" stroke="#dba4ad" stroke-width="2.3" fill="none"/>
<path d="M1809.6 866.1L1815.8 871.0" stroke="#d3dd63" stroke-width="2.3" fill="none"/>
<path d="M1815.8 871.0L1822.0 876.0" stroke="#dba4ad" stroke-width="2.3" fill="none"/>
<circle cx="1770.1" cy="878.7" r="7.2" fill="url(#gRu)" opacity="0.6"/>
<circle cx="1788.9" cy="878.7" r="7.2" fill="url(#gRu)"/>
<circle cx="1807.3" cy="878.7" r="7.2" fill="url(#gRu)"/>
<circle cx="1826.1" cy="878.7" r="7.2" fill="url(#gRu)" opacity="0.6"/>
<circle cx="1809.6" cy="866.1" r="2.0" fill="url(#gH)"/>
<circle cx="1615.6" cy="1056.9" r="7.5" fill="url(#gRuF)" opacity="0.3"/>
<circle cx="1636.9" cy="1052.5" r="7.5" fill="url(#gRuF)" opacity="0.3"/>
<circle cx="1653.0" cy="1053.3" r="7.5" fill="url(#gRuF)" opacity="0.35"/>
<circle cx="1673.4" cy="1050.7" r="7.5" fill="url(#gRuF)" opacity="0.3"/>
<circle cx="1608.5" cy="1063.6" r="7.6" fill="url(#gRuF)" opacity="0.9"/>
<circle cx="1629.8" cy="1059.1" r="7.6" fill="url(#gRuF)"/>
<circle cx="1668.5" cy="1057.8" r="7.6" fill="url(#gRuF)"/>
<circle cx="1647.2" cy="1063.1" r="7.6" fill="url(#gRuF)"/>
<circle cx="1647.2" cy="1063.1" r="7.6" fill="url(#gRu)" opacity="0.2"/>
<circle cx="1600.9" cy="1123.2" r="7.0" fill="url(#gW)" opacity="0.45"/>
<circle cx="1607.6" cy="1109.8" r="7.6" fill="url(#gW)" opacity="0.95"/>
<circle cx="1610.7" cy="1119.2" r="7.0" fill="url(#gW)" opacity="0.8"/>
<circle cx="1693.0" cy="1130.7" r="7.0" fill="url(#gW)" opacity="0.3"/>
<circle cx="1709.4" cy="1108.1" r="7.3" fill="url(#gW)" opacity="0.85"/>
<circle cx="1703.2" cy="1120.5" r="7.0" fill="url(#gW)" opacity="0.6"/>
<circle cx="1701.0" cy="1117.4" r="7.0" fill="url(#gW)" opacity="0.75"/>
<circle cx="1714.8" cy="1103.6" r="3.6" fill="url(#gPale)" opacity="0.7"/>
<path d="M1640.9 1108.5L1628.3 1109.4" stroke="#c3c6e2" stroke-width="2.6" fill="none"/>
<path d="M1628.3 1109.4L1615.6 1110.3" stroke="#58d0de" stroke-width="2.6" fill="none"/>
<path d="M1636.9 1115.6L1627.2 1117.0" stroke="#c3c6e2" stroke-width="2.6" fill="none"/>
<path d="M1627.2 1117.0L1617.4 1118.3" stroke="#58d0de" stroke-width="2.6" fill="none"/>
<path d="M1634.4 1122.3L1621.9 1123.0" stroke="#c3c6e2" stroke-width="2.4" opacity="0.8" fill="none"/>
<path d="M1621.9 1123.0L1609.4 1123.6" stroke="#58d0de" stroke-width="2.4" opacity="0.8" fill="none"/>
<path d="M1630.3 1129.0L1622.9 1129.4" stroke="#c3c6e2" stroke-width="2.2" opacity="0.35" fill="none"/>
<path d="M1622.9 1129.4L1615.6 1129.9" stroke="#58d0de" stroke-width="2.2" opacity="0.35" fill="none"/>
<path d="M1676.5 1108.3L1689.7 1108.6" stroke="#c3c6e2" stroke-width="2.6" fill="none"/>
<path d="M1689.7 1108.6L1702.8 1109.0" stroke="#58d0de" stroke-width="2.6" fill="none"/>
<path d="M1673.9 1115.6L1684.3 1116.7" stroke="#c3c6e2" stroke-width="2.6" fill="none"/>
<path d="M1684.3 1116.7L1694.8 1117.8" stroke="#58d0de" stroke-width="2.6" fill="none"/>
<path d="M1667.2 1128.5L1677.0 1129.6" stroke="#c3c6e2" stroke-width="2.4" opacity="0.6" fill="none"/>
<path d="M1677.0 1129.6L1686.8 1130.7" stroke="#58d0de" stroke-width="2.4" opacity="0.6" fill="none"/>
<path d="M1610.7 1096.9L1606.0 1106.7" stroke="#dba4ad" stroke-width="2.6" fill="none"/>
<path d="M1606.0 1106.7L1601.4 1116.5" stroke="#d9d3e2" stroke-width="2.6" fill="none"/>
<path d="M1628.5 1101.4L1631.2 1110.7" stroke="#dba4ad" stroke-width="2.6" fill="none"/>
<path d="M1631.2 1110.7L1633.8 1120.1" stroke="#bbbfdd" stroke-width="2.6" fill="none"/>
<path d="M1634.3 1093.4L1635.6 1103.6" stroke="#bbbfdd" stroke-width="2.4" fill="none"/>
<path d="M1635.6 1103.6L1636.9 1113.8" stroke="#bbbfdd" stroke-width="2.4" fill="none"/>
<path d="M1647.6 1096.9L1644.5 1102.3" stroke="#bbbfdd" stroke-width="2.6" fill="none"/>
<path d="M1644.5 1102.3L1641.4 1107.6" stroke="#bbbfdd" stroke-width="2.6" fill="none"/>
<path d="M1670.7 1100.5L1672.5 1104.1" stroke="#dba4ad" stroke-width="2.6" fill="none"/>
<path d="M1672.5 1104.1L1674.3 1107.6" stroke="#bbbfdd" stroke-width="2.6" fill="none"/>
<path d="M1674.3 1108.5L1673.9 1111.6" stroke="#bbbfdd" stroke-width="2.4" fill="none"/>
<path d="M1673.9 1111.6L1673.4 1114.7" stroke="#bbbfdd" stroke-width="2.4" fill="none"/>
<circle cx="1615.4" cy="1083.1" r="7.3" fill="url(#gRu)"/>
<circle cx="1632.3" cy="1087.2" r="7.3" fill="url(#gRu)"/>
<circle cx="1653.7" cy="1082.5" r="7.3" fill="url(#gRu)"/>
<circle cx="1671.2" cy="1086.3" r="7.3" fill="url(#gRu)"/>
<circle cx="1610.7" cy="1092.5" r="7.3" fill="url(#gRu)"/>
<circle cx="1627.6" cy="1096.0" r="7.3" fill="url(#gRu)"/>
<circle cx="1649.4" cy="1091.6" r="7.3" fill="url(#gRu)"/>
<circle cx="1666.3" cy="1095.6" r="7.3" fill="url(#gRu)"/>
<path d="M1640.9 1108.5L1647.0 1112.9" stroke="#bbbfdd" stroke-width="2.2" fill="none"/>
<path d="M1647.0 1112.9L1653.1 1117.2" stroke="#e6ec74" stroke-width="2.2" fill="none"/>
<path d="M1655.6 1116.4L1670.7 1110.7" stroke="#9c9c9c" stroke-width="1" stroke-dasharray="2.2 2"/>
<circle cx="1640.9" cy="1108.5" r="3.7" fill="url(#gO)"/>
<circle cx="1636.9" cy="1115.6" r="3.7" fill="url(#gO)"/>
<circle cx="1634.4" cy="1122.3" r="3.7" fill="url(#gO)"/>
<circle cx="1630.3" cy="1129.0" r="3.7" fill="url(#gO)" opacity="0.6"/>
<circle cx="1676.5" cy="1108.3" r="3.7" fill="url(#gO)"/>
<circle cx="1673.9" cy="1115.6" r="3.7" fill="url(#gO)"/>
<circle cx="1667.2" cy="1128.5" r="3.7" fill="url(#gO)" opacity="0.8"/>
<circle cx="1653.1" cy="1117.2" r="2.0" fill="url(#gH)"/>
<rect x="1585.3" y="1122.7" width="138" height="18" fill="url(#fadeW)"/>
<rect x="1583.6" y="1102.3" width="20" height="36" fill="url(#fadeL)"/>
<circle cx="1881.2" cy="993.9" r="7.5" fill="url(#gRuF)" opacity="0.3"/>
<circle cx="1902.5" cy="989.5" r="7.5" fill="url(#gRuF)" opacity="0.3"/>
<circle cx="1918.6" cy="990.3" r="7.5" fill="url(#gRuF)" opacity="0.35"/>
<circle cx="1939.0" cy="987.7" r="7.5" fill="url(#gRuF)" opacity="0.3"/>
<circle cx="1874.1" cy="1000.6" r="7.6" fill="url(#gRuF)" opacity="0.9"/>
<circle cx="1895.4" cy="996.1" r="7.6" fill="url(#gRuF)"/>
<circle cx="1934.1" cy="994.8" r="7.6" fill="url(#gRuF)"/>
<circle cx="1912.8" cy="1000.1" r="7.6" fill="url(#gRuF)"/>
<circle cx="1912.8" cy="1000.1" r="7.6" fill="url(#gRu)" opacity="0.2"/>
<circle cx="1866.5" cy="1060.2" r="7.0" fill="url(#gW)" opacity="0.45"/>
<circle cx="1873.2" cy="1046.8" r="7.6" fill="url(#gW)" opacity="0.95"/>
<circle cx="1876.3" cy="1056.2" r="7.0" fill="url(#gW)" opacity="0.8"/>
<circle cx="1958.6" cy="1067.7" r="7.0" fill="url(#gW)" opacity="0.3"/>
<circle cx="1975.0" cy="1045.1" r="7.3" fill="url(#gW)" opacity="0.85"/>
<circle cx="1968.8" cy="1057.5" r="7.0" fill="url(#gW)" opacity="0.6"/>
<circle cx="1966.6" cy="1054.4" r="7.0" fill="url(#gW)" opacity="0.75"/>
<circle cx="1980.4" cy="1040.6" r="3.6" fill="url(#gPale)" opacity="0.7"/>
<path d="M1906.5 1045.5L1893.9 1046.4" stroke="#c3c6e2" stroke-width="2.6" fill="none"/>
<path d="M1893.9 1046.4L1881.2 1047.3" stroke="#58d0de" stroke-width="2.6" fill="none"/>
<path d="M1902.5 1052.6L1892.8 1054.0" stroke="#c3c6e2" stroke-width="2.6" fill="none"/>
<path d="M1892.8 1054.0L1883.0 1055.3" stroke="#58d0de" stroke-width="2.6" fill="none"/>
<path d="M1900.0 1059.3L1887.5 1060.0" stroke="#c3c6e2" stroke-width="2.4" opacity="0.8" fill="none"/>
<path d="M1887.5 1060.0L1875.0 1060.6" stroke="#58d0de" stroke-width="2.4" opacity="0.8" fill="none"/>
<path d="M1895.9 1066.0L1888.5 1066.4" stroke="#c3c6e2" stroke-width="2.2" opacity="0.35" fill="none"/>
<path d="M1888.5 1066.4L1881.2 1066.9" stroke="#58d0de" stroke-width="2.2" opacity="0.35" fill="none"/>
<path d="M1942.1 1045.3L1955.3 1045.6" stroke="#c3c6e2" stroke-width="2.6" fill="none"/>
<path d="M1955.3 1045.6L1968.4 1046.0" stroke="#58d0de" stroke-width="2.6" fill="none"/>
<path d="M1939.5 1052.6L1949.9 1053.7" stroke="#c3c6e2" stroke-width="2.6" fill="none"/>
<path d="M1949.9 1053.7L1960.4 1054.8" stroke="#58d0de" stroke-width="2.6" fill="none"/>
<path d="M1932.8 1065.5L1942.6 1066.6" stroke="#c3c6e2" stroke-width="2.4" opacity="0.6" fill="none"/>
<path d="M1942.6 1066.6L1952.4 1067.7" stroke="#58d0de" stroke-width="2.4" opacity="0.6" fill="none"/>
<path d="M1876.3 1033.9L1871.6 1043.7" stroke="#dba4ad" stroke-width="2.6" fill="none"/>
<path d="M1871.6 1043.7L1867.0 1053.5" stroke="#d9d3e2" stroke-width="2.6" fill="none"/>
<path d="M1894.1 1038.4L1896.8 1047.7" stroke="#dba4ad" stroke-width="2.6" fill="none"/>
<path d="M1896.8 1047.7L1899.4 1057.1" stroke="#bbbfdd" stroke-width="2.6" fill="none"/>
<path d="M1899.9 1030.4L1901.2 1040.6" stroke="#bbbfdd" stroke-width="2.4" fill="none"/>
<path d="M1901.2 1040.6L1902.5 1050.8" stroke="#bbbfdd" stroke-width="2.4" fill="none"/>
<path d="M1913.2 1033.9L1910.1 1039.3" stroke="#bbbfdd" stroke-width="2.6" fill="none"/>
<path d="M1910.1 1039.3L1907.0 1044.6" stroke="#bbbfdd" stroke-width="2.6" fill="none"/>
<path d="M1936.3 1037.5L1938.1 1041.1" stroke="#dba4ad" stroke-width="2.6" fill="none"/>
<path d="M1938.1 1041.1L1939.9 1044.6" stroke="#bbbfdd" stroke-width="2.6" fill="none"/>
<path d="M1939.9 1045.5L1939.5 1048.6" stroke="#bbbfdd" stroke-width="2.4" fill="none"/>
<path d="M1939.5 1048.6L1939.0 1051.7" stroke="#bbbfdd" stroke-width="2.4" fill="none"/>
<circle cx="1881.0" cy="1020.1" r="7.3" fill="url(#gRu)"/>
<circle cx="1897.9" cy="1024.2" r="7.3" fill="url(#gRu)"/>
<circle cx="1919.3" cy="1019.5" r="7.3" fill="url(#gRu)"/>
<circle cx="1936.8" cy="1023.3" r="7.3" fill="url(#gRu)"/>
<circle cx="1876.3" cy="1029.5" r="7.3" fill="url(#gRu)"/>
<circle cx="1893.2" cy="1033.0" r="7.3" fill="url(#gRu)"/>
<circle cx="1915.0" cy="1028.6" r="7.3" fill="url(#gRu)"/>
<circle cx="1931.9" cy="1032.6" r="7.3" fill="url(#gRu)"/>
<path d="M1895.9 1062.2L1903.7 1062.4" stroke="#bbbfdd" stroke-width="2.2" fill="none"/>
<path d="M1903.7 1062.4L1911.4 1062.6" stroke="#e6ec74" stroke-width="2.2" fill="none"/>
<path d="M1913.9 1061.8L1931.0 1062.0" stroke="#9c9c9c" stroke-width="1" stroke-dasharray="2.2 2"/>
<circle cx="1906.5" cy="1045.5" r="3.7" fill="url(#gO)"/>
<circle cx="1902.5" cy="1052.6" r="3.7" fill="url(#gO)"/>
<circle cx="1900.0" cy="1059.3" r="3.7" fill="url(#gO)"/>
<circle cx="1895.9" cy="1066.0" r="3.7" fill="url(#gO)" opacity="0.6"/>
<circle cx="1942.1" cy="1045.3" r="3.7" fill="url(#gO)"/>
<circle cx="1939.5" cy="1052.6" r="3.7" fill="url(#gO)"/>
<circle cx="1932.8" cy="1065.5" r="3.7" fill="url(#gO)" opacity="0.8"/>
<circle cx="1911.4" cy="1062.6" r="2.0" fill="url(#gH)"/>
<rect x="1850.9" y="1059.7" width="138" height="18" fill="url(#fadeW)"/>
<rect x="1849.2" y="1039.3" width="20" height="36" fill="url(#fadeL)"/>
</svg>
</body></html>
